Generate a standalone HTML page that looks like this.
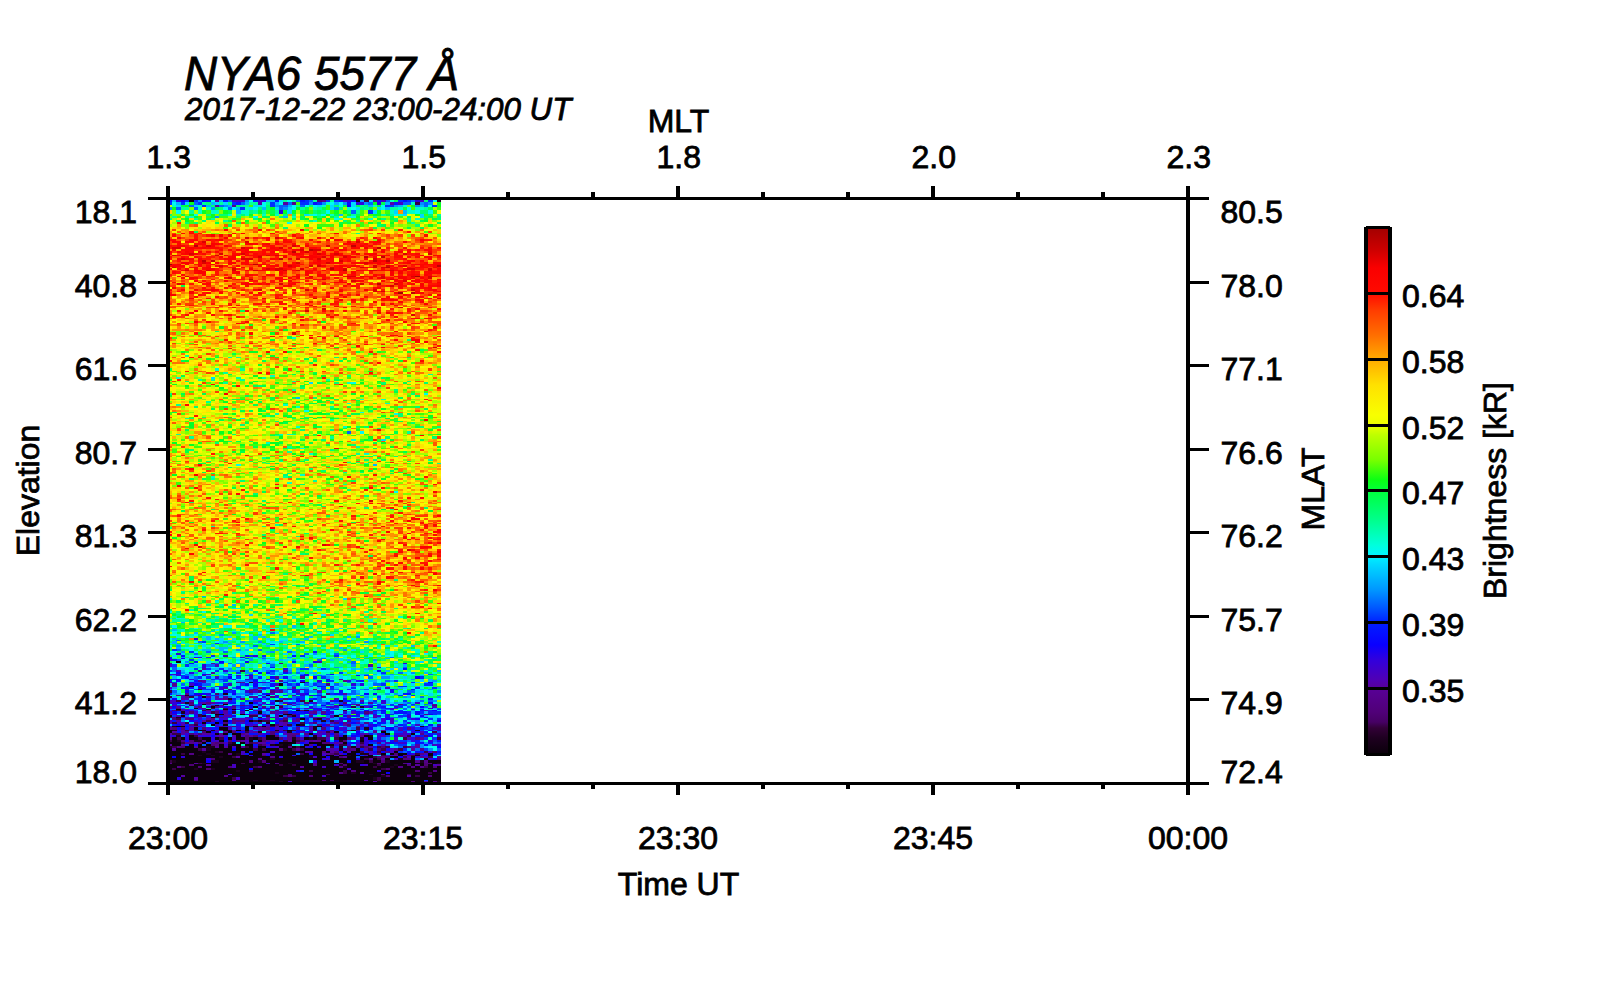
<!DOCTYPE html>
<html><head><meta charset="utf-8"><title>NYA6 5577 keogram</title>
<style>
html,body{margin:0;padding:0;background:#fff;}
svg{display:block}
text{font-family:"Liberation Sans",sans-serif;fill:#000;stroke:#000;stroke-width:0.8px;}
</style></head><body>
<svg width="1600" height="1000" viewBox="0 0 1600 1000" shape-rendering="crispEdges">
<rect width="1600" height="1000" fill="#fff"/>
<g transform="translate(170.133,200) scale(4.26562,1)" stroke-width="1.03" fill="none"><path stroke="#a50000" d="M0 64v1M54 92v2M58 76v1"/>
<path stroke="#bf0000" d="M6 45v2M8 60v2M10 60v2M19 79v1M20 64v1M26 58v2M29 51v2M33 49v2M38 68v2M41 70v1M43 45v2M46 56v2M48 60v2M49 47v2M49 83v2M50 56v2M51 60v2M51 67v1M57 92v2M63 65v2"/>
<path stroke="#dc0000" d="M1 47v2M1 55v1M1 67v1M2 47v2M2 83v2M3 58v2M4 70v1M4 76v1M5 53v2M7 346v2M8 41v2M8 62v2M9 45v2M9 70v1M11 55v1M12 53v2M12 65v2M14 77v2M15 68v3M17 47v2M17 53v2M17 58v2M18 37v2M18 41v2M18 58v2M19 58v2M20 70v1M21 56v2M21 89v2M23 55v1M23 68v2M25 37v2M25 55v1M25 68v3M26 47v2M26 68v2M26 83v2M27 70v1M28 65v2M29 45v2M29 132v3M30 58v2M30 62v2M30 70v1M31 49v2M31 68v2M32 51v2M32 89v2M32 110v2M33 65v2M33 76v1M34 49v2M34 98v1M35 49v2M35 53v2M35 58v2M35 65v2M36 56v2M36 79v1M36 108v2M36 344v2M37 45v2M37 62v2M38 67v1M39 53v2M40 60v2M41 56v2M41 68v2M42 76v1M43 76v1M43 80v2M44 41v2M45 67v1M45 76v1M45 83v2M46 62v2M47 70v1M47 300v2M48 49v2M48 58v2M48 65v3M48 70v1M48 89v3M50 67v1M50 76v3M50 91v1M51 65v2M52 70v1M52 79v1M52 85v2M53 83v2M54 107v1M55 53v2M55 65v2M55 80v2M56 68v2M56 349v2M57 68v2M57 76v1M57 89v2M57 114v2M61 53v2M61 68v3M61 76v3M62 147v1M63 98v1"/>
<path stroke="#fa0100" d="M0 51v2M0 94v2M0 334v2M1 41v2M1 65v2M1 87v2M1 94v2M2 37v2M2 45v2M2 51v2M2 55v1M2 58v2M2 64v1M2 285v2M3 45v2M3 62v2M4 51v4M4 58v2M4 62v2M4 68v2M5 47v2M5 77v2M5 91v3M5 98v1M6 53v2M6 56v2M6 67v1M6 70v1M6 80v2M6 89v2M6 110v2M6 121v2M6 274v2M7 51v2M7 58v4M7 64v3M7 70v4M7 82v1M8 47v2M8 71v3M9 62v2M9 67v3M10 34v3M10 43v4M10 64v1M10 68v2M10 89v2M11 43v2M11 62v2M12 34v3M12 39v2M13 37v2M13 45v2M13 55v1M13 58v2M13 193v2M14 58v2M14 62v2M15 55v5M15 62v2M16 49v2M16 65v2M16 71v3M16 322v1M18 43v2M18 47v6M18 55v1M18 64v1M18 83v2M19 43v2M19 68v2M21 55v1M21 64v3M21 83v2M21 92v2M22 76v1M22 98v1M22 376v3M23 37v2M23 43v2M23 49v2M23 83v2M24 47v2M24 51v2M24 58v2M24 68v2M24 327v2M25 49v2M25 77v2M25 98v1M26 70v4M26 80v2M27 49v4M27 56v2M27 76v1M27 151v2M28 58v2M28 67v1M28 77v2M28 80v2M28 85v2M29 49v2M29 53v2M29 65v2M29 76v1M29 89v2M29 99v2M30 49v2M30 53v2M30 76v3M30 82v1M31 51v2M31 56v2M32 45v2M32 56v2M32 71v5M32 103v2M32 375v1M33 55v5M33 77v2M33 105v1M34 51v4M34 56v2M34 413v1M35 37v2M35 60v2M35 64v1M36 53v2M36 65v2M36 83v2M37 49v2M37 58v2M37 92v2M37 96v2M38 49v2M38 55v3M39 39v2M39 82v1M39 106v1M39 136v1M39 248v1M40 49v2M40 55v1M40 65v6M40 91v1M40 94v2M40 99v2M40 326v1M41 55v1M41 76v1M41 82v1M41 96v2M42 41v2M42 67v1M42 77v2M42 83v2M43 47v2M43 51v2M43 56v2M43 65v2M43 71v3M44 53v2M44 145v2M45 45v2M45 62v2M46 47v2M46 67v1M46 89v2M47 62v2M47 77v2M48 37v2M48 53v2M49 41v2M49 60v4M49 77v2M49 87v2M49 112v2M49 229v2M49 381v4M50 51v2M50 60v2M50 68v3M50 74v2M50 98v1M50 147v1M51 62v2M51 85v2M51 112v2M51 119v2M52 71v5M52 99v2M52 103v2M53 53v2M53 79v1M53 92v2M53 112v2M54 51v2M54 65v2M54 71v3M54 76v3M54 82v1M54 96v2M55 58v2M55 68v3M55 77v3M55 121v2M55 337v2M55 366v1M56 62v2M56 320v2M56 333v1M57 60v2M57 74v2M57 77v2M57 80v2M57 83v2M57 318v2M57 372v1M57 385v1M58 64v1M58 67v1M58 80v3M58 96v2M58 139v2M58 318v2M58 357v2M59 39v2M59 55v1M59 77v2M59 83v4M59 92v2M59 101v2M59 235v1M59 367v3M60 56v2M60 74v2M60 79v1M60 82v1M60 103v2M60 141v2M60 346v2M61 51v2M61 56v4M61 71v3M61 87v2M61 98v1M61 355v2M62 67v1M62 89v2M62 126v3M62 373v2M62 389v2M63 64v1M63 82v1M63 85v2M63 91v1M63 94v2M63 351v2"/>
<path stroke="#fd0600" d="M0 39v2M0 45v2M0 53v2M0 56v4M0 65v2M0 68v2M0 89v2M0 366v1M1 34v3M1 39v2M1 49v2M1 64v1M1 71v3M1 82v1M1 116v2M2 41v4M2 65v2M2 68v2M2 76v1M2 299v1M3 33v1M3 49v2M3 53v2M3 56v2M3 65v2M3 70v1M3 74v2M3 77v2M3 83v2M3 89v2M4 41v2M4 47v4M4 64v1M4 114v2M4 204v2M4 302v1M4 348v1M5 33v1M5 39v4M5 49v4M5 55v1M5 58v2M5 67v1M5 268v2M5 353v2M5 381v2M6 39v2M6 43v2M6 47v2M6 68v2M6 71v3M6 77v2M6 96v2M6 287v2M6 344v2M7 43v2M7 47v2M7 62v2M7 94v2M7 264v2M8 43v2M8 53v2M8 67v3M8 74v2M8 80v2M8 83v2M8 87v2M8 372v1M9 39v2M9 47v2M9 51v2M9 65v2M9 83v2M9 89v2M9 92v2M9 98v1M9 121v2M10 47v2M10 70v1M10 114v2M10 184v1M11 39v2M11 47v2M11 51v2M11 65v2M11 89v2M11 96v2M12 43v2M12 49v2M12 56v2M12 67v1M12 92v2M13 29v2M13 77v2M13 80v2M14 34v3M14 49v2M14 56v2M14 60v2M14 64v1M14 85v2M14 114v2M14 263v1M15 33v1M15 53v2M15 67v1M15 71v3M15 101v2M15 107v1M16 53v3M16 60v2M16 79v1M16 105v1M16 123v1M16 185v2M16 293v2M17 33v1M17 49v4M17 56v2M17 62v2M17 67v1M17 79v1M17 83v2M18 53v2M18 60v4M18 70v1M18 74v3M18 82v1M18 85v2M18 110v2M18 121v2M18 344v2M19 47v2M19 51v2M19 55v1M19 64v1M19 74v2M19 83v2M19 92v2M19 132v3M20 43v2M20 53v5M20 89v2M21 29v2M21 47v2M21 58v4M21 70v1M21 172v2M22 43v2M22 49v6M22 64v1M22 68v3M23 39v2M23 74v2M23 151v2M24 45v2M24 49v2M24 53v3M24 65v2M24 74v2M24 136v1M24 429v2M25 41v4M25 47v2M25 58v2M25 65v2M25 87v2M25 116v2M25 284v1M25 287v2M26 74v2M26 77v3M26 87v2M26 98v1M27 39v4M27 55v1M27 62v5M27 68v2M27 79v1M27 85v2M28 41v2M28 47v2M28 83v2M29 34v3M29 43v2M29 62v3M29 67v1M29 70v1M29 79v1M29 82v3M29 110v2M29 326v1M30 45v2M30 55v1M30 65v2M30 74v2M30 346v2M31 29v2M31 37v2M31 47v2M31 53v2M31 119v2M31 135v1M31 336v1M31 423v2M32 70v1M32 77v2M33 39v2M33 47v2M33 70v4M33 94v2M33 135v1M33 137v2M33 337v2M34 47v2M34 55v1M34 62v2M34 68v3M34 79v1M34 87v2M34 91v1M34 143v1M35 41v2M35 56v2M35 62v2M35 74v3M35 235v1M36 51v2M36 70v1M36 74v5M36 106v1M36 110v2M36 137v2M37 39v2M37 55v1M37 344v2M38 37v2M38 53v2M38 58v6M38 70v1M38 74v2M38 87v2M38 110v2M38 116v2M38 329v2M39 33v1M39 47v2M39 51v2M39 55v1M39 62v2M39 65v6M39 77v2M39 98v1M39 300v2M40 39v2M40 53v2M40 58v2M40 62v2M40 74v2M40 80v3M40 89v2M40 184v1M40 306v1M41 43v2M41 49v2M41 65v2M41 85v2M41 107v1M41 110v2M41 262v1M42 43v2M42 55v7M42 276v2M43 43v2M43 62v2M43 74v2M43 85v2M43 99v2M44 39v2M44 47v2M44 62v2M44 65v2M44 70v1M44 77v2M44 80v2M44 94v2M44 346v2M45 70v1M45 77v2M45 80v2M45 107v1M45 348v1M45 376v3M46 43v2M46 53v2M46 58v2M46 64v1M46 76v1M46 96v2M46 136v1M46 144v1M46 396v1M47 45v2M47 53v3M47 76v1M47 287v2M47 303v1M48 41v4M48 56v2M48 62v2M48 74v3M48 87v2M48 101v2M48 373v2M49 39v2M49 55v1M49 64v1M49 70v1M49 91v1M49 107v1M49 129v2M49 162v2M49 340v2M50 49v2M50 55v1M50 64v1M50 80v2M50 99v2M50 103v3M50 326v1M50 339v1M51 55v1M51 58v2M51 70v1M51 79v1M51 96v3M51 331v2M51 367v3M51 376v3M52 65v2M52 68v2M52 77v2M52 135v1M52 320v2M52 372v1M53 55v3M53 67v1M53 70v1M53 76v1M53 80v2M53 99v2M53 105v1M53 116v2M53 131v1M53 135v1M53 139v2M53 309v1M53 355v2M53 364v2M54 55v3M54 70v1M54 80v2M54 83v6M54 101v2M54 351v2M54 362v2M54 372v1M55 41v2M55 47v2M55 62v2M55 76v1M55 94v2M55 336v1M55 344v2M55 357v2M55 367v3M56 49v4M56 56v2M56 60v2M56 67v1M56 74v2M56 79v1M56 339v1M56 432v2M57 64v1M57 71v3M57 87v2M57 118v1M57 139v2M57 349v2M58 53v2M58 56v2M58 74v2M58 79v1M58 87v2M58 91v3M58 99v2M58 108v2M58 118v1M58 141v2M59 60v2M59 64v4M59 87v2M59 96v2M59 99v2M59 160v2M59 297v2M59 346v3M60 34v3M60 49v2M60 62v3M60 67v1M60 71v3M60 80v2M60 87v2M60 118v1M60 131v1M60 219v2M60 324v3M60 364v2M61 47v4M61 64v1M61 74v2M61 80v3M61 85v2M61 89v2M61 94v2M61 114v2M61 118v1M61 337v2M61 342v2M61 346v2M61 353v2M61 360v2M62 55v1M62 62v5M62 71v3M62 76v1M62 85v2M62 291v2M62 324v2M62 331v2M62 334v2M63 55v1M63 62v2M63 68v6M63 79v1M63 83v2M63 151v2M63 187v2M63 315v2M63 329v4M63 339v1M63 342v2M63 355v2M63 385v1"/>
<path stroke="#ff1300" d="M0 47v2M0 74v2M0 92v2M0 160v2M0 331v2M0 339v1M1 45v2M2 22v2M2 60v2M2 67v1M2 71v3M2 91v1M2 103v2M2 110v2M2 179v2M2 315v2M2 334v2M3 51v2M3 67v1M3 255v1M4 45v2M4 56v2M4 171v1M4 409v2M5 31v2M5 60v4M5 79v1M5 83v2M5 105v1M5 112v2M5 157v1M5 300v2M6 34v5M6 64v1M6 132v3M6 215v2M7 33v1M7 41v2M7 53v2M7 56v2M7 157v1M7 391v1M8 45v2M8 58v2M8 89v2M8 92v4M8 329v2M9 34v3M9 56v4M9 64v1M9 76v1M9 82v1M9 85v2M9 112v2M9 297v2M10 39v4M10 56v2M10 76v1M10 79v1M10 87v2M10 91v1M10 103v2M10 253v2M10 320v2M11 68v8M11 107v1M11 299v1M11 333v1M12 47v2M12 58v2M12 70v1M12 91v1M12 110v2M12 333v1M13 65v2M13 74v2M13 87v2M13 114v2M13 139v2M13 394v2M14 45v2M14 67v1M14 103v3M14 118v1M14 148v1M15 51v2M15 79v1M15 83v2M15 87v2M15 99v2M15 320v2M16 68v2M16 92v2M16 116v2M16 333v1M17 64v1M17 77v2M17 82v1M17 89v2M17 94v2M17 123v1M17 289v2M18 255v1M18 318v2M18 364v2M19 67v1M19 77v2M19 80v2M19 143v1M20 37v2M20 51v2M20 74v2M20 80v2M20 83v2M20 94v2M20 98v1M20 103v2M21 51v4M21 94v2M21 103v2M22 37v2M22 45v2M22 55v1M22 62v2M22 67v1M22 77v3M22 82v3M22 101v2M23 45v2M23 53v2M23 60v2M23 64v4M23 70v1M23 106v1M23 172v2M24 33v1M24 67v1M24 70v1M24 80v3M24 89v2M25 53v2M25 56v2M25 64v1M25 79v1M25 94v4M25 367v3M26 37v2M26 43v2M26 49v2M26 55v1M26 67v1M26 94v2M26 101v4M27 45v2M27 67v1M27 71v3M27 92v2M27 103v2M27 107v3M27 116v2M27 323v1M27 346v2M28 39v2M28 51v4M28 64v1M28 68v2M28 82v1M28 98v1M28 112v2M28 148v1M28 302v1M29 55v1M29 92v2M29 123v1M30 37v2M30 56v2M30 64v1M30 131v1M31 55v1M31 64v1M31 87v2M31 116v2M31 124v2M31 256v1M31 339v1M32 43v2M32 67v1M32 80v2M32 107v1M33 51v4M33 62v3M33 83v2M33 101v2M33 357v2M34 58v4M34 89v2M34 96v2M34 106v1M34 164v2M34 256v1M35 47v2M35 55v1M35 71v3M35 79v1M35 136v1M35 349v2M36 55v1M36 60v4M36 82v1M36 99v2M36 126v3M36 177v2M37 60v2M37 68v2M37 77v2M37 94v2M37 114v2M38 103v2M39 74v2M39 101v4M39 114v2M39 364v2M40 71v3M40 79v1M40 320v2M40 379v2M41 47v2M41 58v4M41 71v3M42 65v2M42 74v2M42 94v2M42 144v1M43 53v2M43 77v2M43 101v2M43 106v1M43 123v1M43 315v2M44 43v4M44 83v6M44 303v1M44 364v2M44 383v2M45 37v2M45 43v2M45 98v3M45 136v1M46 45v2M46 70v1M46 79v1M46 289v2M46 314v1M46 351v2M47 41v2M47 60v2M47 67v1M47 71v3M47 83v2M47 107v1M47 151v2M47 172v2M47 318v2M47 334v2M47 349v2M48 47v2M48 55v1M48 239v2M48 274v2M49 33v1M49 43v2M49 58v2M49 74v2M49 85v2M49 110v2M49 118v1M49 123v1M49 261v1M49 366v1M49 391v1M50 62v2M50 85v2M50 89v2M50 144v1M50 287v2M50 360v2M51 47v2M51 77v2M51 99v2M51 136v1M51 362v2M52 62v2M52 67v1M52 82v1M52 91v1M52 108v2M52 112v4M52 262v1M52 307v2M52 315v3M52 367v3M52 376v3M53 51v2M53 58v2M53 64v1M53 68v2M53 323v1M53 353v2M54 29v2M54 49v2M54 58v2M54 62v2M54 74v2M54 98v1M54 112v2M54 136v1M54 300v2M54 312v2M54 342v2M54 349v2M55 85v2M55 359v1M56 31v2M56 53v2M56 71v3M56 76v3M56 82v3M56 94v2M56 108v4M56 297v2M56 327v2M57 53v3M57 65v3M57 70v1M57 123v1M57 137v2M57 317v1M57 337v2M57 379v2M57 406v2M58 49v2M58 55v1M58 68v2M58 71v3M58 89v2M58 123v1M58 149v2M58 339v1M58 351v2M58 375v1M58 381v2M58 386v1M58 413v1M59 41v2M59 47v2M59 62v2M59 68v2M59 76v1M59 80v2M59 322v2M59 329v2M59 362v2M59 381v2M59 406v2M60 39v2M60 65v2M60 76v3M60 89v2M60 98v1M60 199v1M60 276v2M60 327v2M60 333v1M60 348v1M60 362v2M60 389v2M61 39v2M61 65v2M61 83v2M61 107v1M61 129v2M61 367v3M61 372v1M61 408v1M62 70v1M62 83v2M62 91v1M62 96v2M62 112v2M62 144v1M62 284v1M62 326v1M62 339v1M62 372v1M62 445v2M63 47v2M63 56v2M63 67v1M63 80v2M63 108v2M63 136v1M63 145v2M63 337v2M63 349v2M63 353v2M63 359v1M63 403v1"/>
<path stroke="#ff3b00" d="M0 37v2M0 41v4M0 76v1M0 80v2M0 85v2M0 91v1M0 103v2M0 107v1M0 114v2M0 137v2M0 217v1M0 266v1M0 320v2M1 29v2M1 33v1M1 51v2M1 60v2M1 70v1M1 85v2M1 143v1M1 181v1M1 193v2M2 53v2M2 62v2M2 89v2M2 116v2M2 123v1M2 213v2M2 295v2M2 300v2M2 314v1M2 336v1M3 37v2M3 43v2M3 68v2M3 80v2M3 87v2M3 114v4M3 157v1M3 246v2M4 39v2M4 43v2M4 103v3M4 123v1M4 261v1M4 268v2M4 320v2M5 45v2M5 70v4M5 87v2M5 94v4M5 99v2M5 103v2M5 270v2M5 326v1M6 33v1M6 49v2M6 76v1M6 79v1M6 92v2M6 144v1M7 45v2M7 49v2M7 76v3M7 89v2M7 147v1M7 164v2M7 289v2M7 373v2M8 34v3M8 39v2M8 64v3M8 70v1M8 101v2M8 119v2M8 182v2M8 327v2M9 53v2M9 60v2M9 77v2M9 80v2M9 107v1M9 153v2M9 172v2M9 221v1M9 270v2M10 51v2M10 55v1M10 74v2M10 99v4M10 327v2M10 364v3M11 41v2M11 45v2M11 49v2M11 56v4M11 82v1M11 91v1M11 136v1M11 191v2M11 318v2M12 37v2M12 51v2M12 68v2M12 98v1M12 105v2M12 293v2M13 39v4M13 47v2M13 96v2M13 208v2M13 304v2M13 333v1M14 39v2M14 43v2M14 55v1M14 76v1M14 129v2M14 141v2M14 293v2M15 43v2M15 47v4M15 65v2M15 85v2M15 91v1M15 348v1M15 353v2M16 29v2M16 37v2M16 41v2M16 74v2M16 82v1M16 85v4M16 110v2M16 324v2M16 334v2M17 39v2M17 68v2M17 76v1M17 116v2M17 121v2M17 129v2M17 317v1M18 71v3M18 89v2M18 339v1M18 351v2M18 355v2M19 53v2M19 56v2M19 65v2M19 70v1M19 76v1M19 96v3M19 126v3M19 342v2M20 62v2M20 82v1M20 108v2M20 312v3M21 37v2M21 76v1M21 79v1M21 87v2M21 253v2M22 58v4M22 91v3M22 99v2M22 110v2M22 118v1M22 336v1M23 29v2M23 47v2M23 103v2M23 107v1M23 174v1M23 307v2M23 322v1M23 324v2M23 348v1M24 62v2M24 76v1M24 101v2M24 119v4M24 208v2M25 31v2M25 82v1M25 101v2M25 106v1M25 132v3M25 166v2M25 224v2M25 251v2M26 89v2M26 96v2M26 123v1M26 129v2M26 136v1M26 342v2M27 37v2M27 43v2M27 74v2M27 89v2M27 96v2M28 43v2M28 49v2M28 105v1M28 168v3M29 41v2M29 68v2M29 71v3M29 77v2M29 101v2M29 143v1M29 191v2M29 357v2M30 33v4M30 79v1M31 34v3M31 62v2M31 70v1M31 79v1M31 94v2M31 171v1M31 375v1M32 53v2M32 83v2M32 94v2M32 108v2M32 118v3M33 45v2M33 60v2M33 68v2M33 89v2M33 92v2M33 96v2M33 300v2M33 339v1M34 41v2M34 45v2M34 64v1M34 67v1M34 71v3M34 119v2M35 45v2M35 70v1M35 80v2M35 101v4M35 121v2M35 318v2M35 392v2M36 64v1M36 67v1M36 96v3M36 112v2M36 171v1M36 324v2M36 372v1M36 391v1M37 41v4M37 65v2M37 70v4M37 79v1M37 83v2M38 47v2M38 65v2M38 82v1M38 145v2M38 164v2M39 43v2M39 49v2M39 83v2M39 92v2M39 99v2M39 105v1M39 143v1M39 381v2M39 389v2M40 45v2M40 56v2M40 87v2M40 96v2M40 172v2M40 264v2M40 381v2M41 64v1M41 80v2M41 89v2M41 94v2M41 116v2M41 126v3M41 139v2M41 191v2M42 45v2M42 49v2M42 64v1M42 85v2M42 92v2M42 118v1M42 123v3M42 307v2M42 323v3M42 331v2M42 334v2M42 344v4M42 389v2M43 41v2M43 60v2M43 64v1M43 79v1M43 82v1M43 124v2M43 282v2M43 318v2M43 333v1M43 336v1M43 370v2M43 376v3M44 55v3M44 67v1M44 71v5M44 91v3M44 110v2M44 116v2M44 124v2M44 322v1M44 340v2M44 372v1M45 41v2M45 55v1M45 65v2M45 68v2M45 71v3M45 157v1M46 37v4M46 49v2M46 68v2M46 77v2M46 82v1M46 107v1M46 112v2M46 141v2M46 385v1M47 29v2M47 43v2M47 47v2M47 56v2M47 64v1M47 82v1M47 89v2M47 103v3M47 162v2M47 226v2M47 357v2M48 51v2M48 83v2M48 153v2M48 312v2M48 327v2M48 423v2M49 37v2M49 51v2M49 65v2M49 96v2M49 108v2M49 191v2M49 303v1M49 327v2M49 359v1M49 362v2M49 389v2M49 398v2M50 29v2M50 39v2M50 92v4M50 116v2M50 121v2M50 212v1M50 334v2M50 364v2M50 381v2M51 34v3M51 43v2M51 49v2M51 53v2M51 68v2M51 82v1M51 110v2M51 187v2M51 307v2M51 385v1M52 56v6M52 87v2M52 98v1M52 123v1M52 126v3M52 291v2M52 302v1M52 314v1M53 43v2M53 60v2M53 89v2M53 94v2M53 119v2M53 304v2M53 327v2M53 348v1M54 34v3M54 45v2M54 67v3M54 91v1M54 103v2M54 119v2M54 145v2M54 327v2M54 331v3M54 404v2M55 60v2M55 71v3M55 83v2M55 91v1M55 98v3M55 106v1M55 160v2M55 273v1M55 303v1M55 314v1M55 342v2M56 55v1M56 64v3M56 89v2M56 96v2M56 99v2M56 112v2M56 124v2M56 132v3M56 136v1M56 302v1M56 304v2M56 314v1M56 359v3M56 379v2M56 416v2M57 34v3M57 49v2M57 126v3M57 147v1M57 331v2M58 39v2M58 60v4M58 77v2M58 98v1M58 101v2M58 181v1M58 263v1M58 315v2M58 349v2M58 400v3M59 37v2M59 45v2M59 49v2M59 79v1M59 110v2M59 121v2M59 162v2M59 249v2M59 289v2M59 315v2M59 334v2M59 355v2M59 366v1M59 389v2M60 68v2M60 94v2M60 110v2M60 314v3M60 334v2M60 342v2M60 355v2M61 31v2M61 67v1M61 92v2M61 101v2M61 148v1M61 168v3M61 200v1M61 323v1M61 333v1M62 49v4M62 68v2M62 80v3M62 92v2M62 99v2M62 116v2M62 129v2M62 137v2M62 295v2M62 315v2M62 322v1M62 337v2M62 342v4M62 385v1M62 391v1M63 49v2M63 58v2M63 74v3M63 87v4M63 96v2M63 123v1M63 236v3M63 282v2M63 309v1M63 320v2M63 323v1M63 333v1M63 373v2M63 389v2"/>
<path stroke="#ff5600" d="M0 55v1M0 62v2M0 98v1M0 101v2M0 246v2M0 272v2M0 297v2M0 309v3M0 323v1M0 340v2M0 353v2M0 375v1M1 56v2M1 62v2M1 74v2M1 79v3M1 83v2M1 106v2M1 118v1M1 132v3M1 157v1M1 222v2M1 268v2M1 272v1M1 309v1M1 315v2M1 326v1M1 359v1M1 372v1M1 381v2M2 31v2M2 34v3M2 39v2M2 56v2M2 70v1M2 87v2M2 124v2M2 228v3M2 276v2M2 297v2M2 362v2M3 91v1M3 106v1M3 136v1M3 302v1M3 314v1M3 322v2M3 327v2M3 342v2M3 349v2M3 367v3M4 71v3M4 79v1M4 118v1M4 262v1M4 287v2M4 329v2M5 34v3M5 74v3M5 101v2M5 334v3M6 24v3M6 60v2M6 65v2M6 85v2M6 105v1M6 119v2M6 123v3M6 141v2M6 307v2M6 314v1M6 337v2M7 34v7M7 55v1M7 74v2M7 87v2M7 99v2M7 121v2M7 171v1M7 285v2M7 295v2M7 320v2M7 379v2M8 31v2M8 51v2M8 55v3M8 103v2M8 135v1M8 241v1M8 293v2M8 348v1M9 49v2M9 87v2M9 136v1M9 148v1M9 236v3M9 241v1M9 337v2M9 385v1M10 58v2M10 77v2M10 82v1M10 107v1M10 121v2M10 149v2M10 172v2M10 268v2M10 274v2M10 318v2M10 337v2M11 34v3M11 53v2M11 77v2M11 160v2M11 171v1M11 244v2M11 381v2M12 45v2M12 62v2M12 74v2M12 79v1M12 89v2M12 96v2M12 118v1M12 141v2M12 199v1M12 302v1M12 331v2M12 336v1M12 349v2M13 24v3M13 34v3M13 49v2M13 60v4M13 67v1M13 91v1M13 98v1M13 135v1M13 217v1M13 262v1M13 274v2M13 289v2M13 315v2M13 340v2M13 351v4M13 404v2M13 431v1M14 51v2M14 74v2M14 80v2M14 92v4M14 107v1M14 119v2M14 143v1M14 145v2M14 191v2M14 310v2M14 364v2M15 20v2M15 41v2M15 77v2M15 80v2M15 98v1M15 114v2M15 322v1M15 385v1M16 43v2M16 58v2M16 80v2M16 89v2M16 132v3M16 137v2M16 273v1M16 282v2M16 318v2M16 342v2M16 349v2M16 400v3M17 22v2M17 60v2M17 70v1M17 87v2M17 136v1M17 147v1M18 56v2M18 65v2M18 79v1M18 91v1M18 94v4M18 107v1M18 329v2M19 62v2M19 91v1M19 99v2M19 136v1M19 141v2M19 362v2M19 376v3M19 381v2M20 27v2M20 31v2M20 39v2M20 58v4M20 65v2M20 68v2M20 87v2M20 96v2M20 99v2M20 119v2M20 362v2M21 43v2M21 49v2M21 71v5M21 77v2M21 116v2M21 145v2M21 148v1M21 306v1M22 71v3M22 80v2M22 318v2M23 51v2M23 58v2M23 62v2M23 76v1M23 85v2M23 143v1M23 317v1M23 333v1M23 346v2M23 385v1M23 409v2M24 43v2M24 56v2M24 83v2M24 94v2M24 108v4M24 157v1M24 307v2M24 372v1M25 34v3M25 39v2M25 45v2M25 60v2M25 119v2M25 144v1M25 158v2M25 307v2M26 33v1M26 41v2M26 45v2M26 51v2M26 76v1M26 82v1M26 85v2M26 210v2M26 314v1M26 318v2M26 359v1M26 383v2M26 387v2M27 47v2M27 83v2M27 91v1M27 99v2M27 121v2M27 126v3M27 143v1M27 246v2M27 285v2M27 413v1M28 45v2M28 55v3M28 60v2M28 76v1M28 79v1M28 106v1M28 278v2M28 340v2M28 353v2M29 39v2M29 60v2M29 80v2M29 85v2M29 91v1M29 94v2M29 107v1M29 124v5M29 145v2M29 270v2M29 287v2M29 366v1M30 71v3M30 85v4M30 94v2M30 101v4M30 106v1M30 166v2M30 181v1M30 259v2M30 348v1M30 359v1M30 400v3M31 41v2M31 60v2M31 65v3M31 74v2M31 82v1M31 105v1M31 110v2M32 41v2M32 58v2M32 64v3M32 68v2M32 79v1M32 87v2M32 91v3M32 105v1M32 124v2M32 287v2M32 387v2M33 43v2M33 103v2M33 106v1M33 197v2M33 270v2M33 373v2M33 413v1M34 77v2M34 92v2M34 107v3M34 124v2M34 144v1M34 267v1M35 33v1M35 51v2M35 67v3M35 83v2M35 96v2M35 107v1M35 112v2M35 155v2M35 273v1M35 312v2M35 372v1M36 37v2M36 43v4M36 49v2M36 58v2M36 71v3M36 80v2M36 89v2M36 105v1M36 217v1M36 312v2M36 349v2M36 379v2M37 53v2M37 56v2M37 67v1M37 76v1M37 110v2M37 116v2M37 143v1M37 195v2M37 267v1M37 289v2M37 340v2M38 43v4M38 51v2M38 64v1M38 79v1M38 91v1M38 98v1M38 105v1M38 112v4M38 276v2M38 344v2M38 404v2M39 41v2M39 45v2M39 56v2M39 80v2M39 85v2M39 91v1M39 96v2M39 131v1M39 135v1M39 148v1M39 184v1M39 280v2M39 348v1M39 359v1M40 51v2M40 64v1M40 77v2M40 83v2M40 101v2M40 124v5M40 137v2M40 234v1M41 41v2M41 53v2M41 87v2M41 118v1M41 135v1M41 157v1M41 297v2M41 326v1M41 357v2M42 47v2M42 53v2M42 62v2M42 87v4M42 121v2M42 149v2M42 241v1M42 360v2M42 398v2M43 49v2M43 68v2M43 94v2M43 110v2M43 118v1M43 191v2M43 317v1M43 323v1M43 344v4M43 353v2M43 364v2M43 391v1M43 406v2M44 49v2M44 68v2M44 89v2M44 99v2M44 103v2M44 147v1M44 261v1M44 299v1M44 392v2M45 49v2M45 60v2M45 82v1M45 91v1M45 118v1M45 314v1M45 324v2M45 327v2M45 362v2M45 373v2M45 385v1M46 29v2M46 51v2M46 55v1M46 74v2M46 80v2M46 91v1M46 94v2M46 98v3M46 110v2M46 114v2M46 123v1M46 160v2M46 174v1M46 381v2M47 65v2M47 79v1M47 87v2M47 92v6M47 106v1M47 131v1M47 174v1M47 285v2M47 323v1M47 337v2M47 360v2M47 381v2M47 432v2M48 64v1M48 71v3M48 77v3M48 96v2M48 105v1M48 110v2M48 229v2M48 251v2M48 306v1M48 317v1M48 324v2M48 333v1M48 355v2M48 367v3M48 386v1M48 398v2M49 67v3M49 71v3M49 76v1M49 79v1M49 82v1M49 92v2M49 137v4M49 236v3M49 256v1M49 323v1M49 339v1M49 364v2M49 367v3M49 375v1M49 406v2M50 41v2M50 58v2M50 65v2M50 71v3M50 82v3M50 87v2M50 135v1M50 241v1M50 282v2M50 303v1M50 306v1M50 373v2M50 444v1M51 37v2M51 45v2M51 56v2M51 76v1M51 80v2M51 105v1M51 121v2M51 253v2M51 322v1M51 327v2M51 357v2M52 37v2M52 53v2M52 76v1M52 89v2M52 110v2M52 116v2M52 132v3M52 136v1M52 143v1M52 267v1M52 324v2M52 342v2M52 346v2M52 355v2M52 362v4M53 45v2M53 71v3M53 77v2M53 82v1M53 85v2M53 103v2M53 106v2M53 147v1M53 181v1M53 200v1M53 246v2M53 272v1M53 287v2M53 375v1M53 389v2M54 43v2M54 53v2M54 64v1M54 79v1M54 94v2M54 201v2M54 317v1M54 329v2M55 49v2M55 64v1M55 82v1M55 87v2M55 105v1M55 129v2M55 256v1M55 320v2M55 323v1M55 334v2M55 364v2M55 376v3M55 406v2M56 41v2M56 70v1M56 87v2M56 118v1M56 172v2M56 307v2M56 362v2M56 385v1M57 43v2M57 56v2M57 62v2M57 105v1M57 107v5M57 129v2M57 143v1M57 171v1M57 231v3M57 251v2M57 346v2M57 351v2M57 364v2M57 367v3M57 381v2M58 37v2M58 41v2M58 58v2M58 65v2M58 70v1M58 112v6M58 126v3M58 136v3M58 162v2M58 210v2M58 327v4M58 353v4M58 364v2M58 376v3M58 383v2M58 406v2M59 33v1M59 58v2M59 70v1M59 82v1M59 94v2M59 103v2M59 112v2M59 282v3M59 307v3M59 353v2M59 373v2M59 379v2M60 45v2M60 51v2M60 58v4M60 70v1M60 85v2M60 91v3M60 105v1M60 112v2M60 189v2M60 284v1M60 318v2M60 337v5M60 349v2M60 357v2M60 360v2M60 367v3M60 372v3M60 379v2M60 383v2M60 392v2M61 45v2M61 79v1M61 91v1M61 105v1M61 110v2M61 116v2M61 119v4M61 147v1M61 302v1M61 320v2M61 340v2M61 348v1M61 351v2M61 370v2M61 376v3M62 37v2M62 53v2M62 56v2M62 60v2M62 74v2M62 107v1M62 121v2M62 177v2M62 217v1M62 242v4M62 300v2M62 303v1M62 309v1M62 317v1M62 320v2M62 323v1M62 353v2M62 359v3M62 366v1M62 392v2M63 43v2M63 92v2M63 110v2M63 116v2M63 121v2M63 124v2M63 139v2M63 148v1M63 174v1M63 189v2M63 229v2M63 314v1M63 326v1M63 334v2M63 340v2M63 357v2M63 360v2M63 408v1M63 416v2M63 425v3"/>
<path stroke="#ff7200" d="M0 70v4M0 83v2M0 96v2M0 99v2M0 106v1M0 118v1M0 132v3M0 139v2M0 151v2M0 185v2M0 203v1M0 256v1M0 295v2M0 315v2M1 43v2M1 77v2M1 91v1M1 99v4M1 162v2M1 206v2M1 210v2M1 261v1M1 270v2M1 323v1M1 327v2M1 370v2M1 408v1M2 94v2M2 106v1M2 162v2M2 264v2M2 293v2M2 318v4M2 326v1M2 385v1M3 55v1M3 60v2M3 79v1M3 82v1M3 92v2M3 101v2M3 132v3M3 153v2M3 162v2M3 226v2M3 276v2M3 297v2M3 340v2M3 346v3M3 379v2M3 386v1M3 398v2M4 37v2M4 55v1M4 60v2M4 74v2M4 80v3M4 99v2M4 129v2M4 149v2M4 236v3M4 257v2M4 333v1M4 349v2M4 359v1M4 373v3M5 24v3M5 37v2M5 65v2M5 85v2M5 107v1M5 123v1M5 131v1M5 144v1M5 193v2M5 285v2M5 295v2M5 303v1M5 309v1M5 315v2M5 323v1M5 339v1M5 438v2M6 55v1M6 87v2M6 101v2M6 106v1M6 116v2M6 129v2M6 168v3M6 172v2M6 264v2M6 324v2M6 329v2M6 385v1M7 68v2M7 80v2M7 85v2M7 91v1M7 103v2M7 106v1M7 129v2M7 135v2M7 149v2M7 155v2M7 185v2M7 218v1M7 234v1M7 266v1M7 276v2M7 287v2M7 307v2M7 318v2M7 349v2M8 49v2M8 77v2M8 82v1M8 110v2M8 141v2M8 171v1M8 235v1M8 274v2M8 299v1M8 307v2M8 346v2M8 375v1M8 383v2M9 43v2M9 147v1M9 160v4M9 249v2M9 262v1M9 284v1M9 310v2M9 339v1M9 400v3M10 37v2M10 49v2M10 85v2M10 124v2M10 137v2M10 270v2M10 312v2M10 324v2M10 339v1M10 359v1M11 29v2M11 64v1M11 80v2M11 83v2M11 98v1M11 114v2M11 121v2M11 143v1M11 229v2M11 303v1M11 309v1M11 327v2M11 351v2M11 391v1M11 397v1M12 71v3M12 80v2M12 85v2M12 114v2M12 251v2M12 261v1M12 274v2M12 312v2M12 339v1M12 346v2M13 43v2M13 56v2M13 68v2M13 71v3M13 105v1M13 110v2M13 126v5M13 179v2M13 255v1M13 259v2M13 276v2M13 307v2M13 322v1M13 349v2M13 385v1M14 47v2M14 53v2M14 68v2M14 87v2M14 99v2M14 116v2M14 132v3M14 203v1M14 218v1M14 236v3M14 276v2M14 291v2M14 314v1M14 355v2M14 359v1M14 375v1M14 383v2M14 389v2M15 27v2M15 37v4M15 82v1M15 126v3M15 149v2M15 191v2M15 219v2M15 249v2M15 259v2M15 307v2M15 324v2M15 351v2M15 386v1M15 389v3M16 33v4M16 47v2M16 62v3M16 96v2M16 107v1M16 126v3M16 135v1M16 143v1M16 162v2M16 235v1M16 320v2M16 337v2M16 385v1M17 41v2M17 55v1M17 65v2M17 74v2M17 80v2M17 107v1M17 151v2M17 295v4M17 326v1M17 334v2M17 348v1M18 45v2M18 77v2M18 105v1M18 126v3M18 147v1M18 158v2M18 213v2M18 304v2M18 320v2M18 389v3M19 29v2M19 37v2M19 45v2M19 89v2M19 101v2M19 118v1M19 137v2M19 256v1M19 259v2M19 287v2M19 318v5M20 29v2M20 47v2M20 67v1M20 77v3M20 105v1M20 110v2M20 143v1M20 145v2M20 187v2M20 278v2M20 337v2M20 351v2M21 41v2M21 67v3M21 82v1M21 99v2M21 105v2M21 119v2M21 355v4M22 22v2M22 39v2M22 74v2M22 85v4M22 103v2M22 106v1M22 108v2M22 123v1M22 131v1M22 137v2M22 219v2M22 307v2M22 322v1M22 346v2M23 77v2M23 137v2M23 164v2M23 195v2M23 337v2M23 372v1M24 18v2M24 29v2M24 34v3M24 77v3M24 106v1M24 141v2M24 144v1M24 158v2M24 339v3M24 346v3M24 362v2M24 425v3M25 27v2M25 62v2M25 67v1M25 85v2M25 91v3M25 108v2M25 114v2M25 197v2M25 208v2M25 255v1M25 267v3M25 309v1M25 322v1M26 60v7M26 302v1M26 362v2M27 31v2M27 58v2M27 82v1M27 114v2M27 160v2M27 172v2M27 259v2M27 267v1M27 309v1M27 317v1M27 333v1M28 34v3M28 62v2M28 70v1M28 96v2M28 99v2M28 110v2M28 189v2M28 362v2M29 56v4M29 74v2M29 105v1M29 112v2M29 182v2M29 203v1M29 375v1M30 51v2M30 68v2M30 80v2M30 83v2M30 98v1M30 110v2M30 114v4M30 132v3M30 136v1M30 144v1M30 257v2M30 355v2M30 392v2M31 76v1M31 91v1M31 107v1M31 126v3M31 144v1M31 151v2M31 175v2M31 253v2M31 334v2M31 337v2M31 344v2M31 372v1M32 47v2M32 62v2M32 76v1M32 98v1M32 126v3M32 131v1M32 236v3M32 274v2M32 324v2M32 346v2M32 364v2M33 31v2M33 41v2M33 80v2M33 91v1M33 107v1M33 116v2M33 119v2M33 153v2M33 171v1M33 267v1M33 309v1M33 329v2M33 375v1M34 39v2M34 76v1M34 94v2M34 103v2M34 112v2M34 157v1M34 228v1M34 336v3M35 43v2M35 77v2M35 82v1M35 92v4M35 110v2M35 124v2M35 141v2M35 193v2M35 274v2M35 381v2M35 398v2M36 41v2M36 94v2M36 118v3M36 136v1M36 139v4M36 274v2M36 307v2M36 310v2M36 318v2M36 331v2M36 355v4M36 364v3M37 51v2M37 64v1M37 80v2M37 91v1M37 112v2M37 123v1M37 144v1M37 147v1M37 242v2M37 314v1M37 318v2M37 323v1M37 414v2M38 33v1M38 77v2M38 85v2M38 92v2M38 118v1M38 126v5M38 304v2M38 351v2M38 383v2M38 386v1M39 110v2M39 144v1M39 153v2M39 164v2M39 204v2M39 229v2M39 266v1M39 329v2M39 339v1M39 357v2M39 385v1M39 400v3M40 41v2M40 92v2M40 106v2M40 129v2M40 132v3M40 168v3M40 285v2M40 291v2M40 324v2M40 331v2M40 364v2M40 373v2M40 383v4M41 31v3M41 45v2M41 51v2M41 62v2M41 67v1M41 83v2M41 264v2M41 270v2M41 280v2M41 314v1M41 339v1M41 372v1M41 386v1M41 392v2M42 39v2M42 71v3M42 79v1M42 96v2M42 99v2M42 116v2M42 119v2M42 295v2M42 299v1M42 340v2M42 349v2M42 381v2M42 387v2M42 403v3M42 408v1M43 55v1M43 58v2M43 89v2M43 92v2M43 103v2M43 121v2M43 144v1M43 151v4M43 200v1M43 210v2M43 221v3M43 228v1M43 327v2M43 331v2M43 334v2M43 351v2M43 355v2M43 375v1M43 392v2M43 397v1M44 24v3M44 37v2M44 58v2M44 79v1M44 107v1M44 139v2M44 187v2M44 373v2M45 29v2M45 53v2M45 79v1M45 87v4M45 101v5M45 148v3M45 191v2M45 218v1M45 295v2M45 336v1M45 342v2M45 359v1M45 372v1M45 425v3M46 60v2M46 87v2M46 118v1M46 143v1M46 327v2M46 344v2M46 355v2M46 359v1M46 367v3M46 394v2M46 422v1M47 27v2M47 33v1M47 74v2M47 114v4M47 126v3M47 144v1M47 168v3M47 268v2M47 278v2M47 394v3M48 45v2M48 85v2M48 98v1M48 103v2M48 107v1M48 123v1M48 137v2M48 157v1M48 164v2M48 174v1M48 244v2M48 282v2M48 307v2M48 320v2M48 337v2M48 359v1M48 383v2M48 387v2M48 400v3M49 53v2M49 99v2M49 116v2M49 132v3M49 172v2M49 195v2M49 206v2M49 293v2M49 331v2M49 353v2M49 357v2M49 379v2M49 386v1M49 404v2M50 34v3M50 45v2M50 53v2M50 101v2M50 114v2M50 119v2M50 132v3M50 143v1M50 251v2M50 300v2M50 304v2M50 366v1M50 370v2M50 396v1M51 51v2M51 64v1M51 83v2M51 91v1M51 103v2M51 132v3M51 141v2M51 147v1M51 282v2M51 315v2M51 318v2M51 324v2M51 342v4M51 348v1M51 351v2M51 355v2M51 359v1M51 386v1M51 396v1M52 43v2M52 47v2M52 55v1M52 83v2M52 94v2M52 101v2M52 129v2M52 139v2M52 241v1M52 259v2M52 322v1M53 34v3M53 41v2M53 65v2M53 98v1M53 124v2M53 132v3M53 174v1M53 204v2M53 312v2M53 318v2M53 336v1M53 339v1M53 370v2M53 386v1M53 394v2M54 41v2M54 47v2M54 105v1M54 118v1M54 123v1M54 132v4M54 141v2M54 172v2M54 212v1M54 248v1M54 268v4M54 278v2M54 297v2M54 302v1M54 306v1M54 339v1M54 348v1M54 353v2M54 373v2M54 376v3M54 385v1M55 31v2M55 55v1M55 74v2M55 101v2M55 112v2M55 119v2M55 144v1M55 149v2M55 166v2M55 200v1M55 217v1M55 224v2M55 263v1M55 346v3M55 351v2M55 373v2M55 381v2M55 392v5M56 45v2M56 106v1M56 116v2M56 119v2M56 155v2M56 197v3M56 287v2M56 309v1M56 324v2M56 346v2M56 355v2M56 366v4M56 381v2M56 397v1M57 37v2M57 58v2M57 85v2M57 98v3M57 119v4M57 132v3M57 314v1M57 322v1M57 324v2M57 355v4M57 362v2M57 370v2M57 397v1M58 51v2M58 85v2M58 166v2M58 172v2M58 184v1M58 310v2M58 346v2M58 359v1M58 367v3M58 373v2M58 385v1M58 391v1M58 404v2M58 408v1M58 419v3M59 29v2M59 51v2M59 74v2M59 106v1M59 119v2M59 143v1M59 172v2M59 181v1M59 206v2M59 270v2M59 314v1M59 320v2M59 324v2M59 331v2M59 344v2M59 392v2M59 403v1M59 416v2M60 43v2M60 47v2M60 83v2M60 96v2M60 106v1M60 123v1M60 137v2M60 287v2M60 331v2M60 336v1M60 359v1M60 397v1M60 400v3M60 451v2M61 43v2M61 99v2M61 103v2M61 106v1M61 131v1M61 149v2M61 157v1M61 162v2M61 256v1M61 274v2M61 303v1M61 306v1M61 324v3M61 329v2M61 366v1M61 425v3M61 445v2M62 41v4M62 47v2M62 101v4M62 106v1M62 118v1M62 141v3M62 145v2M62 149v2M62 204v2M62 367v3M62 432v2M63 60v2M63 99v2M63 131v4M63 241v1M63 291v2M63 302v1M63 307v2M63 364v3M63 372v1M63 376v3M63 387v2M63 409v2"/>
<path stroke="#ff9300" d="M0 31v6M0 49v2M0 67v1M0 77v2M0 110v4M0 124v2M0 206v2M0 244v2M0 249v2M0 253v3M0 274v2M0 282v2M0 324v2M0 349v2M0 383v2M1 58v2M1 89v2M1 92v2M1 114v2M1 121v2M1 124v2M1 129v2M1 139v2M1 144v4M1 199v1M1 244v2M1 255v1M1 263v1M1 273v1M1 278v2M1 297v2M1 351v2M2 24v3M2 80v2M2 96v2M2 112v2M2 126v5M2 135v1M2 160v2M2 206v2M2 210v2M2 251v2M2 268v2M2 304v2M2 309v1M2 317v1M2 322v1M2 340v2M2 357v2M2 367v3M3 29v2M3 39v2M3 64v1M3 76v1M3 103v2M3 129v2M3 253v2M3 272v1M3 300v2M3 331v2M3 355v2M4 29v8M4 83v2M4 92v2M4 112v2M4 174v1M4 179v2M4 193v2M4 222v2M4 263v1M4 280v2M4 293v2M4 310v2M4 314v1M4 317v1M4 324v2M4 336v1M4 340v2M4 364v2M5 64v1M5 89v2M5 106v1M5 118v1M5 129v2M5 136v1M5 199v1M5 219v2M5 239v2M5 280v2M5 291v2M5 304v2M5 344v4M6 41v2M6 58v2M6 74v2M6 91v1M6 99v2M6 114v2M6 126v3M6 147v1M6 158v2M6 231v3M6 235v1M6 239v2M6 266v1M6 310v2M6 315v2M6 318v2M6 322v1M6 355v2M6 376v3M6 386v1M7 31v2M7 67v1M7 92v2M7 96v2M7 105v1M7 108v2M7 114v4M7 139v2M7 162v2M7 231v3M7 241v1M7 274v2M7 282v2M7 303v1M7 334v2M8 37v2M8 76v1M8 98v1M8 105v1M8 114v4M8 121v2M8 129v2M8 143v1M8 147v1M8 160v2M8 191v2M8 218v1M8 268v2M8 284v1M8 304v3M8 309v1M8 318v2M8 331v3M8 339v1M8 342v2M8 351v2M8 360v2M9 37v2M9 41v2M9 79v1M9 96v2M9 101v2M9 108v4M9 141v2M9 235v1M9 267v1M9 349v2M9 353v2M9 392v2M10 29v2M10 65v2M10 92v2M10 123v1M10 126v5M10 143v1M10 153v4M10 224v2M10 241v1M10 248v1M10 256v1M10 329v2M10 340v2M10 385v1M11 37v2M11 60v2M11 79v1M11 87v2M11 101v2M11 105v1M11 108v6M11 116v2M11 129v2M11 182v2M11 304v3M11 372v1M11 376v3M12 29v2M12 55v1M12 64v1M12 76v1M12 99v2M12 107v1M12 112v2M12 149v2M12 157v1M12 164v2M12 217v1M12 257v2M12 291v2M12 324v2M12 340v6M12 355v2M12 360v2M12 364v3M13 51v4M13 76v1M13 83v2M13 106v1M13 141v2M13 158v2M13 162v2M13 300v2M13 323v1M13 357v2M13 364v2M13 391v1M14 31v2M14 41v2M14 65v2M14 70v4M14 79v1M14 83v2M14 101v2M14 168v3M14 184v1M14 246v2M14 304v2M14 312v2M14 322v1M14 324v2M14 327v2M14 339v1M14 344v2M14 360v2M14 366v1M15 45v2M15 60v2M15 64v1M15 96v2M15 103v2M15 124v2M15 141v2M15 147v1M15 204v2M15 246v2M15 310v4M15 326v3M15 333v1M15 339v1M15 342v4M15 362v2M15 366v4M16 27v2M16 51v2M16 70v1M16 83v2M16 94v2M16 99v2M16 103v2M16 108v2M16 112v2M16 136v1M16 200v3M16 215v2M16 231v3M16 257v2M16 274v2M16 310v2M16 327v4M16 344v2M16 375v1M17 45v2M17 96v2M17 101v2M17 105v2M17 132v4M17 143v1M17 174v1M17 201v2M17 342v2M17 376v3M18 24v3M18 29v2M18 39v2M18 67v1M18 92v2M18 106v1M18 119v2M18 123v1M18 151v2M18 155v2M18 193v2M18 199v1M18 215v2M18 348v1M18 359v1M18 362v2M19 85v2M19 112v2M19 119v2M19 123v1M19 148v3M19 168v3M19 199v1M19 203v1M19 213v2M19 219v2M19 239v2M19 280v2M19 285v2M19 324v2M19 339v1M19 370v2M19 386v1M19 394v2M20 41v2M20 71v3M20 76v1M20 101v2M20 116v2M20 129v2M20 263v1M20 266v1M20 276v2M20 282v2M20 289v2M20 324v2M20 389v2M21 34v3M21 62v2M21 108v2M21 121v2M21 136v1M21 141v2M21 157v3M21 187v2M21 203v1M21 224v2M21 272v1M21 309v3M21 314v1M21 379v2M22 31v2M22 56v2M22 96v2M22 116v2M22 135v1M22 189v2M22 193v2M22 267v1M22 306v1M22 315v2M22 323v1M22 394v2M23 56v2M23 79v4M23 89v2M23 94v5M23 116v2M23 136v1M23 171v1M23 291v2M23 303v1M23 359v1M23 375v1M23 400v3M24 60v2M24 64v1M24 71v3M24 96v2M24 99v2M24 123v1M24 131v1M24 143v1M24 191v2M24 255v1M24 263v1M24 302v1M24 318v2M24 323v1M24 334v2M24 342v2M24 355v2M25 24v3M25 76v1M25 80v2M25 83v2M25 99v2M25 107v1M25 110v2M25 137v2M25 143v1M25 145v2M25 162v2M25 177v2M25 257v2M25 355v2M26 31v2M26 92v2M26 99v2M26 106v2M26 114v2M26 126v3M26 153v2M26 200v1M26 255v1M26 278v2M26 331v3M26 349v2M26 353v2M26 381v2M26 414v2M27 33v1M27 53v2M27 60v2M27 136v1M27 141v2M27 208v2M27 253v3M27 284v1M27 303v1M27 324v2M27 334v2M27 381v4M27 418v1M28 14v2M28 71v5M28 87v2M28 114v2M28 132v3M28 261v1M28 322v1M28 331v2M28 344v2M28 373v2M29 37v2M29 96v2M29 108v2M29 118v1M29 210v2M29 293v2M29 297v2M29 304v2M30 39v4M30 47v2M30 60v2M30 67v1M30 92v2M30 105v1M30 126v3M30 267v1M30 272v1M30 284v1M30 306v1M30 310v2M30 318v2M30 349v2M31 39v2M31 43v2M31 58v2M31 71v3M31 83v2M31 89v2M31 103v2M31 147v1M31 160v2M31 206v2M31 389v2M32 33v1M32 49v2M32 55v1M32 60v2M32 96v2M32 112v2M32 224v2M32 257v2M32 264v2M32 289v2M32 315v2M32 362v2M33 79v1M33 85v2M33 99v2M33 124v2M33 177v2M33 195v2M33 251v2M33 256v1M33 274v2M33 314v1M33 334v3M33 364v2M33 376v3M34 65v2M34 74v2M34 85v2M34 101v2M34 126v3M34 131v1M34 137v6M34 145v2M34 346v2M34 400v3M35 31v2M35 85v2M35 106v1M35 123v1M35 132v3M35 144v1M35 293v2M35 302v1M35 309v1M35 342v2M35 353v2M35 383v2M36 92v2M36 101v2M36 107v1M36 129v2M36 144v1M36 172v2M36 181v1M36 289v2M36 320v2M36 362v2M37 74v2M37 82v1M37 87v2M37 99v4M37 106v2M37 124v2M37 129v2M37 135v2M37 162v2M37 172v2M37 201v2M37 284v1M37 355v2M37 364v3M37 438v2M38 27v4M38 41v2M38 80v2M38 107v1M38 119v2M38 123v1M38 144v1M38 148v1M38 181v1M38 309v1M38 342v2M38 362v2M38 436v2M39 34v3M39 64v1M39 89v2M39 108v2M39 116v2M39 129v2M39 132v3M39 175v2M39 200v1M39 224v2M39 242v2M39 287v6M39 302v1M39 326v1M39 334v2M39 340v2M39 391v1M40 116v3M40 139v4M40 147v1M40 267v1M40 346v2M40 349v2M40 353v2M40 367v3M41 91v1M41 99v4M41 106v1M41 121v2M41 131v1M41 141v2M41 145v2M41 153v2M41 166v2M41 174v1M41 201v2M41 206v2M41 215v2M41 317v1M41 327v2M41 346v2M41 355v2M41 379v2M41 394v2M42 98v1M42 110v2M42 131v4M42 136v1M42 141v2M42 148v1M42 172v2M42 208v2M42 284v1M42 337v2M42 348v1M42 357v2M42 372v1M43 29v2M43 98v1M43 105v1M43 107v3M43 126v5M43 246v2M43 278v2M43 289v2M43 307v2M43 310v2M43 394v2M44 76v1M44 98v1M44 105v2M44 108v2M44 118v1M44 121v2M44 137v2M44 143v1M44 155v2M44 276v2M44 324v2M44 339v1M44 348v1M44 355v2M44 381v2M44 385v1M45 20v2M45 51v2M45 56v4M45 92v2M45 96v2M45 106v1M45 114v2M45 143v2M45 147v1M45 155v2M45 201v2M45 262v2M45 284v1M45 291v2M45 297v2M45 318v5M45 340v2M45 357v2M45 364v2M45 386v1M45 403v1M45 413v1M45 419v3M46 31v2M46 34v3M46 83v2M46 92v2M46 106v1M46 124v5M46 139v2M46 218v1M46 251v2M46 276v2M46 302v1M46 306v1M46 322v1M46 329v4M46 370v2M46 373v6M46 391v1M46 428v1M47 124v2M47 135v1M47 137v2M47 148v3M47 251v2M47 282v2M47 291v2M47 302v1M47 315v2M47 327v4M47 353v2M47 359v1M47 364v2M47 372v1M47 391v1M47 397v1M47 416v2M48 29v2M48 68v2M48 94v2M48 112v2M48 143v1M48 160v4M48 293v2M48 318v2M48 322v1M48 340v2M48 360v2M48 381v2M48 391v1M48 396v1M48 414v2M49 45v2M49 49v2M49 143v1M49 174v1M49 210v2M49 280v2M49 284v1M49 295v2M49 299v1M49 307v2M49 324v2M49 346v3M49 376v3M49 396v1M50 20v2M50 33v1M50 79v1M50 96v2M50 112v2M50 126v3M50 149v2M50 181v1M50 185v2M50 235v1M50 267v1M50 297v2M50 327v4M50 340v2M50 372v1M50 394v2M50 403v1M50 409v2M51 39v2M51 71v5M51 94v2M51 101v2M51 106v2M51 160v2M51 184v1M51 212v1M51 248v1M51 304v2M51 334v2M51 346v2M51 353v2M52 34v3M52 51v2M52 92v2M52 105v2M52 118v5M52 124v2M52 147v1M52 166v2M52 179v2M52 210v2M52 224v2M52 287v2M52 297v2M52 333v4M52 348v1M52 353v2M52 357v2M52 373v3M52 379v2M52 392v4M52 404v4M53 33v1M53 74v2M53 91v1M53 136v1M53 239v2M53 263v1M53 276v2M53 324v2M53 334v2M53 376v3M53 381v2M53 397v1M54 10v4M54 20v2M54 37v2M54 60v2M54 99v2M54 110v2M54 114v2M54 129v2M54 164v2M54 171v1M54 208v2M54 289v2M54 318v2M54 323v3M54 337v2M54 340v2M54 364v2M54 367v3M55 96v2M55 157v1M55 268v2M55 300v2M55 315v2M55 318v2M55 326v1M55 355v2M55 360v2M55 372v1M55 400v3M56 37v2M56 58v2M56 101v2M56 121v2M56 129v2M56 141v2M56 153v2M56 191v2M56 234v1M56 259v2M56 272v1M56 276v2M56 282v2M56 299v1M56 312v2M56 372v1M56 376v3M56 383v2M56 387v4M56 394v2M57 39v4M57 45v2M57 79v1M57 82v1M57 91v1M57 103v2M57 144v3M57 148v1M57 229v2M57 236v3M57 289v2M57 304v3M57 310v2M57 320v2M57 326v3M57 339v1M57 348v1M57 383v2M57 386v1M57 400v3M57 408v1M58 31v2M58 43v2M58 103v5M58 132v3M58 144v3M58 174v1M58 187v2M58 193v2M58 208v2M58 266v1M58 274v2M58 293v2M58 299v1M58 304v2M58 314v1M58 326v1M58 331v2M58 337v2M58 340v4M58 418v1M59 34v3M59 43v2M59 53v2M59 89v2M59 105v1M59 108v2M59 129v2M59 132v3M59 137v2M59 158v2M59 259v2M59 349v2M59 359v1M59 364v2M59 372v1M60 41v2M60 108v2M60 114v2M60 121v2M60 129v2M60 257v2M60 344v2M60 351v4M60 366v1M60 375v1M60 381v2M60 398v2M60 408v3M60 431v3M61 55v1M61 62v2M61 112v2M61 124v2M61 132v3M61 136v1M61 141v4M61 210v2M61 241v1M61 257v2M61 272v1M61 280v2M61 300v2M61 334v2M61 379v2M61 385v1M61 397v1M61 403v1M61 414v2M62 39v2M62 87v2M62 110v2M62 114v2M62 123v1M62 131v4M62 148v1M62 155v3M62 162v2M62 182v2M62 185v2M62 197v2M62 206v2M62 239v3M62 249v2M62 259v2M62 276v2M62 285v2M62 293v2M62 306v3M62 312v3M62 329v2M62 340v2M62 351v2M62 364v2M62 379v2M62 396v1M62 418v4M63 51v4M63 77v2M63 126v3M63 141v2M63 158v4M63 168v3M63 197v2M63 213v2M63 224v2M63 253v2M63 266v1M63 268v2M63 344v2M63 367v3M63 391v1M63 394v2M63 413v1"/>
<path stroke="#ffb300" d="M0 82v1M0 145v2M0 166v2M0 174v1M0 181v1M0 199v1M0 208v2M0 219v2M0 259v2M0 263v1M0 278v2M0 291v4M0 314v1M0 342v2M1 103v2M1 135v1M1 177v2M1 236v3M1 282v3M1 287v2M1 307v2M1 329v2M1 333v1M1 339v1M1 342v2M1 373v2M2 27v2M2 49v2M2 98v1M2 105v1M2 158v2M2 171v1M2 221v1M2 267v1M2 327v2M2 344v4M2 359v1M2 366v1M3 31v2M3 34v3M3 47v2M3 71v3M3 94v4M3 99v2M3 118v1M3 139v4M3 197v2M3 201v2M3 204v2M3 210v2M3 264v2M3 295v2M3 326v1M3 353v2M3 381v2M4 101v2M4 106v2M4 110v2M4 132v3M4 144v1M4 162v2M4 191v2M4 210v2M4 213v2M4 228v1M4 244v2M4 273v1M4 285v2M4 309v1M4 312v2M4 323v1M4 337v2M4 346v2M4 367v3M4 381v2M4 411v2M5 56v2M5 68v2M5 82v1M5 108v2M5 124v2M5 141v2M5 147v1M5 235v1M5 257v2M5 274v2M5 320v2M5 324v2M5 349v2M5 355v4M5 360v2M5 386v1M6 29v2M6 62v2M6 83v2M6 108v2M6 118v1M6 139v2M6 153v2M6 224v4M6 236v3M6 284v1M6 295v2M6 303v1M6 340v2M6 351v4M6 383v2M6 392v2M7 273v1M7 278v2M7 284v1M7 302v1M7 315v2M7 326v3M7 333v1M7 342v2M7 375v1M7 385v1M7 398v2M7 404v4M8 29v2M8 79v1M8 85v2M8 96v2M8 99v2M8 112v2M8 139v2M8 148v1M8 166v2M8 172v2M8 175v2M8 187v2M8 204v2M8 224v2M8 236v3M8 242v2M8 264v2M8 273v1M8 282v2M8 291v2M8 303v1M8 310v4M8 322v1M8 344v2M8 357v2M9 29v2M9 55v1M9 74v2M9 103v3M9 123v6M9 184v1M9 193v2M9 229v2M9 256v1M9 273v1M9 287v2M9 299v1M9 362v2M10 53v2M10 71v3M10 98v1M10 105v2M10 141v2M10 144v1M10 164v2M10 174v1M10 215v2M10 285v2M10 307v2M10 331v2M10 346v2M10 362v2M10 376v3M10 391v1M11 85v2M11 92v4M11 118v1M11 124v2M11 139v4M11 144v3M11 206v2M11 217v2M11 228v1M11 264v3M11 282v3M11 314v3M11 324v2M11 329v2M11 342v2M11 367v5M12 82v1M12 135v2M12 210v2M12 218v1M12 273v1M12 289v2M12 299v3M12 320v2M12 337v2M12 413v1M13 70v1M13 79v1M13 82v1M13 92v2M13 99v2M13 116v3M13 131v1M13 136v3M13 143v1M13 160v2M13 264v2M13 268v2M13 312v2M13 331v2M13 337v2M13 355v2M13 423v2M14 29v2M14 37v2M14 82v1M14 96v2M14 108v2M14 135v1M14 151v2M14 182v2M14 187v4M14 195v2M14 222v2M14 257v2M14 274v2M14 289v2M14 297v3M14 309v1M14 357v2M14 372v1M14 387v2M15 74v2M15 92v4M15 105v1M15 110v2M15 121v2M15 144v1M15 166v5M15 210v2M15 270v2M15 273v1M15 284v1M15 309v1M15 337v2M15 349v2M15 375v1M15 379v2M16 121v2M16 124v2M16 139v2M16 151v2M16 168v4M16 182v2M16 193v2M16 197v2M16 204v4M16 229v2M16 268v2M16 302v1M16 326v1M16 340v2M16 351v2M16 355v2M16 396v1M17 18v2M17 37v2M17 71v3M17 108v2M17 112v2M17 160v2M17 200v1M17 219v2M17 222v2M17 272v1M17 302v1M17 304v2M17 340v2M17 351v2M17 364v2M18 31v6M18 68v2M18 87v2M18 101v2M18 144v1M18 164v2M18 197v2M18 210v2M18 229v2M18 246v3M18 272v2M18 326v1M18 334v2M18 346v2M18 367v3M19 31v2M19 39v2M19 60v2M19 71v3M19 94v2M19 103v2M19 114v2M19 129v2M19 171v1M19 185v2M19 246v3M19 289v2M19 304v2M19 367v3M20 85v2M20 91v1M20 114v2M20 121v2M20 172v2M20 191v2M20 195v2M20 239v2M20 249v4M20 255v1M20 267v1M20 291v2M20 300v2M20 309v1M20 320v2M20 367v5M20 386v3M20 397v1M21 39v2M21 45v2M21 80v2M21 85v2M21 96v2M21 101v2M21 114v2M21 124v2M21 149v2M21 204v2M21 235v1M21 274v2M21 291v2M21 312v2M21 317v1M21 322v1M21 349v2M21 370v2M21 397v1M22 27v2M22 47v2M22 126v5M22 143v2M22 151v6M22 162v2M22 200v1M22 206v2M22 222v2M22 239v2M22 362v2M22 379v2M22 431v1M23 105v1M23 110v4M23 129v3M23 147v1M23 162v2M23 168v3M23 193v2M23 212v1M23 241v1M23 289v2M23 326v1M23 334v2M23 339v3M23 351v2M23 379v2M23 391v1M24 37v2M24 41v2M24 85v2M24 91v1M24 103v2M24 116v2M24 174v1M24 184v1M24 228v1M24 231v3M24 287v2M24 357v3M24 370v2M24 396v1M24 408v1M25 33v1M25 74v2M25 118v1M25 123v1M25 129v2M25 147v1M25 149v2M25 160v2M25 184v1M25 200v1M25 222v2M25 248v1M25 270v3M25 274v2M25 282v2M25 314v3M25 340v2M25 353v2M25 372v1M25 379v2M25 394v2M26 39v2M26 53v2M26 56v2M26 116v2M26 121v2M26 132v3M26 137v2M26 149v2M26 162v2M26 193v4M26 264v3M26 312v2M26 322v1M26 329v2M26 375v1M27 29v2M27 77v2M27 98v1M27 118v1M27 123v1M27 191v2M27 217v1M27 231v3M27 251v2M27 326v1M27 353v2M27 387v2M27 423v2M27 444v1M28 29v2M28 101v2M28 107v1M28 116v2M28 124v2M28 145v2M28 158v2M28 164v2M28 193v2M28 200v1M28 253v2M28 295v2M28 315v2M28 329v2M28 342v2M28 357v2M28 364v2M28 379v2M28 409v2M29 33v1M29 47v2M29 103v2M29 106v1M29 116v2M29 131v1M29 164v2M29 201v2M29 229v2M29 249v2M29 259v2M29 268v2M29 303v1M29 315v2M29 324v2M29 337v2M29 372v1M30 20v2M30 43v2M30 96v2M30 119v5M30 148v1M30 210v2M30 229v2M30 249v2M30 291v2M30 300v2M30 303v1M30 333v1M30 339v1M30 357v2M31 45v2M31 77v2M31 85v2M31 92v2M31 98v1M31 121v2M31 139v2M31 143v1M31 168v3M31 172v2M31 189v2M31 224v2M31 317v1M31 346v2M31 355v2M31 362v2M32 27v2M32 39v2M32 82v1M32 101v2M32 106v1M32 121v3M32 129v2M32 153v2M32 166v2M32 191v2M32 200v1M32 229v2M32 273v1M32 293v2M32 337v2M32 348v1M33 27v2M33 34v3M33 74v2M33 82v1M33 87v2M33 110v2M33 136v1M33 141v2M33 149v2M33 164v2M33 315v2M33 394v2M33 409v2M34 34v3M34 43v2M34 82v1M34 110v2M34 118v1M34 132v3M34 210v2M34 282v2M34 293v2M34 348v3M34 357v2M34 362v2M34 367v3M34 392v2M35 39v2M35 87v2M35 91v1M35 98v3M35 108v2M35 248v1M35 251v2M35 314v3M35 323v1M35 327v6M35 357v2M35 397v1M36 31v2M36 47v2M36 68v2M36 124v2M36 195v2M36 236v3M36 266v1M36 280v2M36 326v1M36 337v2M36 381v2M36 413v1M37 33v4M37 85v2M37 89v2M37 105v1M37 132v3M37 151v2M37 164v2M37 189v2M37 203v1M37 249v2M37 262v1M37 274v2M37 304v2M37 336v1M37 339v1M37 348v1M37 351v2M37 387v2M37 392v2M38 76v1M38 83v2M38 89v2M38 94v4M38 106v1M38 108v2M38 124v2M38 132v3M38 139v2M38 162v2M38 174v1M38 222v2M38 241v1M38 256v1M38 293v2M38 299v1M38 315v2M38 318v2M38 326v1M38 357v2M38 366v4M38 375v1M38 379v2M39 37v2M39 71v3M39 79v1M39 87v2M39 107v1M39 149v2M39 174v1M39 195v2M39 226v3M39 264v2M39 306v3M39 312v2M39 315v3M39 322v1M39 327v2M39 333v1M39 336v1M39 375v1M39 379v2M39 394v2M39 404v2M40 37v2M40 76v1M40 85v2M40 105v1M40 110v6M40 119v2M40 144v1M40 157v1M40 191v2M40 282v2M40 289v2M40 297v2M40 322v1M40 329v2M40 333v1M40 344v2M40 348v1M40 444v1M41 27v2M41 74v2M41 77v2M41 92v2M41 98v1M41 129v2M41 132v3M41 149v2M41 171v1M41 187v2M41 285v2M41 295v2M41 300v2M41 306v1M41 315v2M41 322v1M41 337v2M41 340v2M41 353v2M41 381v2M41 422v1M42 27v2M42 31v2M42 51v2M42 68v3M42 80v2M42 91v1M42 106v1M42 112v4M42 129v2M42 137v2M42 145v3M42 151v2M42 200v1M42 267v1M42 282v2M42 366v1M42 397v1M42 400v3M43 67v1M43 70v1M43 91v1M43 112v2M43 116v2M43 119v2M43 143v1M43 201v2M43 231v3M43 242v2M43 285v2M43 381v2M44 51v2M44 82v1M44 112v2M44 119v2M44 126v3M44 141v2M44 158v4M44 189v2M44 206v2M44 217v1M44 241v3M44 257v2M44 289v2M44 336v1M44 366v1M44 389v3M44 397v1M44 408v1M44 431v1M45 39v2M45 47v2M45 64v1M45 94v2M45 132v4M45 145v2M45 158v2M45 164v2M45 177v2M45 229v2M45 248v1M45 323v1M45 331v2M45 351v2M45 360v2M45 366v1M45 370v2M45 379v4M45 411v2M46 22v2M46 33v1M46 65v2M46 131v1M46 151v2M46 158v2M46 166v2M46 200v1M46 304v2M46 336v1M46 357v2M46 364v2M46 372v1M46 383v2M46 389v2M46 408v1M46 414v2M47 39v2M47 98v1M47 108v2M47 129v2M47 229v2M47 234v2M47 257v2M47 266v1M47 324v2M47 344v2M47 386v1M47 413v1M48 99v2M48 121v2M48 124v5M48 131v1M48 155v2M48 171v1M48 191v2M48 287v2M48 334v2M48 339v1M48 342v4M48 349v2M48 366v1M48 370v2M48 376v3M48 385v1M48 409v2M49 34v3M49 94v2M49 144v1M49 147v1M49 153v2M49 224v2M49 231v3M49 246v2M49 255v1M49 268v2M49 282v2M49 297v2M49 300v2M49 342v2M49 416v2M50 27v2M50 43v2M50 123v1M50 148v1M50 153v2M50 179v2M50 222v2M50 229v2M50 273v3M50 295v2M50 320v2M50 323v1M50 357v2M50 362v2M50 385v7M50 408v1M50 413v1M50 429v2M51 41v2M51 116v2M51 129v2M51 135v1M51 145v2M51 149v2M51 155v2M51 158v2M51 219v2M51 222v2M51 242v2M51 285v2M51 291v6M51 312v2M51 323v1M51 326v1M51 339v1M51 360v2M51 373v2M51 379v2M51 383v2M51 411v2M52 39v2M52 64v1M52 107v1M52 144v3M52 148v1M52 153v2M52 191v2M52 304v2M52 326v1M52 329v2M52 337v2M52 340v2M52 344v2M52 385v1M52 403v1M52 409v4M52 416v2M52 422v1M53 31v2M53 87v2M53 101v2M53 121v2M53 137v2M53 141v3M53 148v1M53 155v2M53 168v3M53 199v1M53 215v2M53 280v2M53 329v2M53 357v2M53 367v3M54 22v2M54 39v2M54 89v2M54 108v2M54 116v2M54 124v2M54 139v2M54 157v1M54 184v1M54 217v1M54 239v2M54 261v1M54 266v1M54 284v1M54 293v4M54 303v3M54 360v2M54 366v1M54 389v2M54 392v2M55 33v1M55 43v2M55 56v2M55 114v2M55 148v1M55 203v3M55 221v1M55 255v1M55 284v1M55 312v2M55 317v1M55 331v3M55 353v2M55 398v2M55 408v1M55 425v3M55 458v1M56 43v2M56 47v2M56 91v1M56 98v1M56 144v1M56 147v2M56 218v1M56 253v2M56 273v1M56 278v2M56 300v2M56 317v1M56 329v2M56 340v4M56 348v1M56 392v2M56 396v1M56 400v3M56 429v2M57 124v2M57 135v2M57 151v2M57 189v2M57 239v2M57 285v2M57 293v2M57 312v2M57 334v2M57 344v2M57 353v2M57 366v1M57 373v2M57 387v2M57 391v3M57 429v2M57 440v1M58 83v2M58 121v2M58 129v3M58 135v1M58 164v2M58 168v3M58 185v2M58 199v1M58 203v1M58 229v2M58 246v2M58 256v1M58 268v2M58 273v1M58 280v2M58 320v3M58 360v2M58 387v2M58 398v2M58 416v2M58 445v2M59 56v2M59 71v3M59 98v1M59 114v2M59 123v1M59 136v1M59 144v1M59 164v2M59 201v2M59 210v2M59 221v1M59 224v2M59 257v2M59 272v1M59 293v2M59 302v1M59 327v2M59 340v2M59 357v2M59 370v2M59 375v1M59 394v2M59 400v3M59 408v1M60 27v2M60 37v2M60 101v2M60 139v2M60 151v2M60 162v2M60 177v2M60 229v2M60 251v2M60 256v1M60 270v2M60 278v2M60 312v2M60 323v1M60 370v2M60 386v1M60 396v1M60 423v2M60 434v2M61 108v2M61 135v1M61 139v2M61 184v1M61 191v2M61 195v2M61 199v1M61 231v3M61 239v2M61 266v1M61 268v2M61 276v2M61 282v2M61 322v1M61 327v2M61 391v1M61 406v2M61 434v2M61 444v1M62 29v2M62 45v2M62 58v2M62 77v3M62 98v1M62 105v1M62 136v1M62 153v2M62 160v2M62 166v2M62 184v1M62 189v2M62 261v1M62 268v2M62 274v2M62 278v2M62 302v1M62 310v2M62 327v2M62 355v2M62 383v2M62 413v1M62 425v3M62 440v1M63 33v1M63 41v2M63 103v2M63 114v2M63 143v1M63 153v2M63 172v2M63 179v2M63 219v2M63 222v2M63 264v2M63 280v2M63 297v3M63 317v1M63 336v1M63 381v2M63 386v1M63 392v2M63 406v2"/>
<path stroke="#ffd000" d="M0 10v4M0 29v2M0 79v1M0 119v2M0 123v1M0 129v2M0 215v2M0 222v2M0 228v3M0 257v2M0 264v2M0 289v2M0 302v1M0 333v1M0 373v2M0 385v1M0 392v4M0 397v1M0 404v4M1 27v2M1 37v2M1 53v2M1 98v1M1 108v2M1 158v2M1 164v2M1 201v2M1 208v2M1 229v2M1 241v1M1 253v2M1 266v1M1 299v3M1 306v1M1 310v2M1 336v1M1 353v4M1 379v2M2 74v2M2 77v2M2 82v1M2 119v2M2 145v2M2 155v2M2 166v2M2 175v2M2 197v2M2 212v1M2 218v1M2 222v2M2 231v3M2 235v1M2 287v2M2 291v2M2 324v2M2 329v2M2 342v2M3 119v2M3 123v1M3 144v1M3 147v1M3 182v3M3 215v2M3 229v2M3 244v2M3 257v2M3 268v2M3 315v2M3 318v2M3 333v1M3 389v2M3 394v2M3 408v1M4 65v3M4 87v5M4 94v2M4 98v1M4 121v2M4 136v1M4 139v2M4 148v1M4 195v2M4 201v2M4 217v1M4 246v2M4 255v1M4 259v2M4 278v2M4 291v2M4 304v2M4 315v2M4 322v1M4 331v2M4 342v4M4 362v2M4 376v3M5 18v2M5 110v2M5 116v2M5 119v2M5 126v3M5 148v1M5 174v5M5 185v2M5 189v2M5 229v2M5 234v1M5 263v1M5 282v3M5 297v3M5 314v1M5 340v2M5 351v2M5 370v2M5 375v1M5 394v2M6 103v2M6 145v2M6 148v1M6 157v1M6 164v2M6 174v1M6 189v2M6 201v2M6 204v2M6 323v1M6 326v1M6 346v2M7 29v2M7 98v1M7 131v1M7 166v5M7 195v2M7 199v1M7 236v3M7 257v2M7 312v2M7 329v2M7 337v2M7 386v1M7 440v1M8 91v1M8 107v1M8 123v1M8 132v3M8 155v2M8 158v2M8 248v1M8 257v2M8 297v2M8 302v1M8 323v1M8 334v2M8 359v1M8 370v2M8 406v2M9 27v2M9 71v3M9 106v1M9 145v2M9 175v2M9 179v3M9 217v1M9 228v1M9 239v2M9 320v2M9 329v2M9 336v1M9 346v2M9 364v2M9 373v2M9 387v2M10 20v2M10 80v2M10 83v2M10 119v2M10 136v1M10 139v2M10 145v2M10 162v2M10 191v4M10 226v2M10 235v1M10 266v1M10 280v2M10 287v4M10 295v2M10 302v1M10 323v1M10 351v2M10 355v4M10 386v1M10 404v2M11 27v2M11 67v1M11 76v1M11 99v2M11 103v2M11 135v1M11 153v2M11 162v2M11 172v2M11 199v1M11 203v1M11 255v1M11 295v2M11 307v2M11 312v2M11 334v2M11 348v1M11 389v2M11 392v2M12 24v5M12 31v2M12 41v2M12 60v2M12 87v2M12 103v2M12 119v2M12 129v2M12 132v3M12 137v2M12 147v1M12 166v2M12 197v2M12 215v2M12 244v2M12 267v1M12 270v2M12 284v1M12 307v2M12 317v1M12 327v2M12 348v1M12 357v2M12 372v1M12 379v2M12 385v2M12 397v1M13 31v2M13 85v2M13 89v2M13 107v1M13 119v2M13 123v3M13 144v1M13 149v2M13 168v4M13 221v1M13 251v2M13 256v1M13 278v2M13 317v1M13 344v2M13 383v2M13 392v2M13 416v2M14 91v1M14 98v1M14 112v2M14 121v2M14 124v2M14 144v1M14 147v1M14 164v4M14 172v2M14 200v1M14 234v1M14 239v2M14 306v1M14 315v2M14 331v2M14 413v1M15 24v3M15 31v2M15 76v1M15 89v2M15 106v1M15 118v1M15 123v1M15 129v2M15 143v1M15 160v2M15 172v2M15 193v2M15 206v2M15 221v1M15 224v2M15 239v2M15 253v2M15 315v2M15 329v2M15 357v2M15 364v2M15 387v2M16 45v2M16 98v1M16 106v1M16 114v2M16 131v1M16 149v2M16 184v1M16 191v2M16 244v2M16 256v1M16 285v4M16 297v2M16 346v2M16 353v2M16 370v2M16 376v3M16 394v2M16 397v1M16 428v1M17 31v2M17 34v3M17 85v2M17 92v2M17 98v1M17 119v2M17 139v2M17 144v3M17 153v2M17 157v1M17 189v2M17 255v1M17 257v2M17 263v1M17 268v2M17 320v2M17 324v2M17 344v4M17 362v2M17 366v1M17 391v1M18 80v2M18 118v1M18 129v2M18 137v2M18 148v1M18 182v2M18 256v1M18 282v2M18 293v2M18 300v2M18 310v2M18 324v2M18 331v2M18 349v2M18 353v2M18 366v1M18 373v2M18 403v1M19 34v3M19 41v2M19 87v2M19 107v1M19 110v2M19 116v2M19 144v1M19 206v2M19 221v1M19 264v3M19 302v1M19 306v1M19 312v2M19 333v1M19 349v2M19 353v2M19 357v2M19 373v2M19 387v4M19 400v3M20 24v3M20 33v4M20 92v2M20 112v2M20 124v2M20 137v2M20 144v1M20 149v2M20 153v2M20 157v1M20 160v2M20 174v1M20 206v2M20 215v2M20 340v2M20 344v2M20 349v2M20 357v2M20 372v3M20 396v1M21 16v2M21 107v1M21 112v2M21 132v4M21 144v1M21 162v2M21 234v1M21 246v2M21 251v2M21 268v2M21 273v1M21 280v2M21 289v2M21 293v2M21 326v1M21 331v3M21 339v1M21 373v3M21 385v1M22 41v2M22 89v2M22 94v2M22 107v1M22 121v2M22 147v1M22 157v1M22 171v1M22 201v2M22 224v2M22 228v1M22 248v1M22 274v2M22 278v2M22 284v1M22 302v1M22 314v1M22 327v2M22 340v2M22 357v2M22 389v2M23 31v3M23 87v2M23 91v1M23 108v2M23 114v2M23 141v2M23 182v2M23 276v2M23 287v2M23 315v2M23 342v2M23 353v4M23 360v2M23 364v2M23 370v2M24 39v2M24 98v1M24 107v1M24 112v2M24 124v2M24 135v1M24 145v2M24 148v1M24 153v2M24 160v2M24 181v3M24 226v2M24 264v2M24 267v1M24 270v2M24 309v1M24 314v1M24 320v2M24 324v3M24 336v1M24 353v2M24 379v2M24 391v1M24 400v3M25 71v3M25 105v1M25 136v1M25 151v2M25 155v2M25 193v2M25 256v1M25 297v3M25 323v1M25 327v6M25 349v4M25 364v2M25 373v2M25 383v2M26 105v1M26 112v2M26 118v1M26 131v1M26 155v2M26 177v2M26 208v2M26 226v2M26 231v3M26 248v1M26 263v1M26 272v1M26 299v1M26 306v3M26 315v2M26 326v1M26 385v1M26 411v2M27 34v3M27 87v2M27 105v1M27 110v4M27 131v1M27 139v2M27 147v1M27 177v4M27 182v2M27 193v2M27 210v2M27 239v2M27 278v2M27 306v1M27 339v1M27 360v4M28 94v2M28 103v2M28 119v2M28 126v3M28 131v1M28 135v1M28 141v2M28 153v2M28 157v1M28 175v2M28 203v1M28 206v2M28 229v2M28 241v1M28 284v1M28 312v2M28 320v2M28 323v1M28 327v2M28 367v5M28 404v2M29 29v2M29 149v2M29 158v4M29 171v1M29 179v2M29 199v1M29 257v2M29 263v1M29 267v1M29 276v2M29 280v5M29 302v1M29 307v3M29 387v2M29 404v2M30 16v2M30 27v2M30 108v2M30 118v1M30 129v2M30 141v2M30 155v2M30 175v2M30 222v2M30 276v2M30 327v2M30 337v2M30 373v2M30 394v2M31 31v3M31 80v2M31 101v2M31 106v1M31 108v2M31 118v1M31 123v1M31 141v2M31 148v1M31 166v2M31 219v2M31 287v2M31 303v1M31 324v2M31 342v2M31 348v1M31 357v2M31 396v1M31 422v1M32 116v2M32 151v2M32 241v1M32 309v1M32 312v3M32 344v2M32 355v2M32 373v2M33 29v2M33 37v2M33 67v1M33 98v1M33 112v2M33 126v3M33 131v1M33 147v1M33 155v2M33 191v2M33 224v2M33 263v1M33 289v2M33 331v2M33 340v2M33 362v2M33 381v2M34 33v1M34 37v2M34 105v1M34 114v4M34 135v1M34 149v2M34 155v2M34 217v1M34 222v2M34 229v2M34 261v1M34 268v2M34 273v1M34 289v2M34 295v2M34 312v2M34 322v1M34 329v2M34 355v2M34 373v2M34 398v2M35 34v3M35 89v2M35 105v1M35 118v1M35 129v2M35 139v2M35 145v2M35 158v4M35 185v2M35 203v1M35 264v2M35 320v2M35 333v1M35 336v1M35 340v2M35 346v2M35 355v2M35 362v2M35 379v2M35 389v2M35 419v3M35 423v2M35 445v2M36 18v4M36 87v2M36 131v1M36 143v1M36 164v2M36 174v1M36 179v2M36 184v3M36 203v1M36 221v1M36 229v2M36 251v2M36 259v2M36 262v1M36 268v2M36 284v1M36 314v3M36 360v2M36 392v2M37 27v2M37 47v2M37 98v1M37 121v2M37 126v3M37 139v2M37 145v2M37 148v1M37 210v2M37 221v1M37 259v2M37 287v2M37 295v2M37 326v1M37 334v2M37 349v2M37 367v6M37 400v4M37 406v2M37 436v2M37 447v2M38 34v3M38 71v3M38 99v4M38 131v1M38 136v3M38 141v2M38 158v2M38 166v2M38 199v1M38 253v2M38 261v2M38 264v2M38 270v2M38 323v1M38 339v1M38 348v1M38 355v2M38 381v2M38 413v1M38 444v1M39 76v1M39 94v2M39 118v1M39 121v2M39 126v3M39 166v2M39 231v3M39 261v1M39 284v1M39 293v2M39 392v2M39 397v1M39 406v2M39 423v2M40 31v6M40 98v1M40 145v2M40 151v2M40 158v2M40 164v2M40 171v1M40 195v2M40 217v1M40 235v1M40 266v1M40 268v2M40 312v2M40 323v1M40 339v5M40 351v2M40 362v2M40 372v1M40 389v2M40 400v3M40 406v2M40 414v2M41 29v2M41 37v4M41 79v1M41 108v2M41 114v2M41 181v1M41 193v2M41 199v1M41 259v2M41 312v2M41 320v2M41 373v2M41 383v2M41 413v1M42 82v1M42 107v1M42 126v3M42 162v2M42 171v1M42 213v2M42 264v2M42 287v2M42 297v2M42 309v1M42 322v1M42 326v3M42 333v1M42 370v2M42 373v2M42 379v2M42 383v2M42 431v1M43 83v2M43 87v2M43 96v2M43 135v1M43 139v2M43 148v1M43 174v1M43 219v2M43 253v2M43 267v1M43 274v4M43 293v2M43 299v1M43 312v3M43 326v1M43 329v2M43 373v2M43 387v2M43 403v1M43 431v3M44 60v2M44 64v1M44 96v2M44 129v2M44 136v1M44 144v1M44 157v1M44 162v2M44 168v3M44 199v1M44 219v2M44 256v1M44 272v1M44 284v1M44 312v2M44 327v2M44 353v2M44 362v2M44 367v5M44 403v1M44 416v2M45 16v2M45 33v4M45 108v2M45 116v2M45 119v2M45 137v2M45 162v2M45 171v3M45 222v2M45 244v2M45 255v1M45 259v2M45 278v2M45 285v2M45 303v3M45 344v2M45 349v2M45 353v4M45 389v2M45 458v1M46 27v2M46 41v2M46 71v3M46 85v2M46 105v1M46 108v2M46 121v2M46 129v2M46 149v2M46 153v2M46 184v1M46 197v2M46 213v2M46 248v1M46 257v2M46 280v2M46 309v1M46 317v3M46 337v2M46 348v3M46 398v2M46 406v2M47 20v2M47 58v2M47 85v2M47 99v2M47 118v3M47 139v2M47 158v2M47 185v2M47 203v3M47 213v2M47 219v2M47 231v3M47 259v3M47 273v1M47 314v1M47 317v1M47 331v2M47 336v1M47 340v2M47 346v2M47 367v3M47 411v2M48 80v2M48 92v2M48 106v1M48 187v4M48 199v1M48 206v2M48 210v2M48 249v2M48 262v2M48 272v1M48 276v4M48 303v1M48 315v2M48 326v1M48 351v4M48 362v2M48 372v1M48 379v2M48 397v1M48 404v2M49 29v2M49 56v2M49 89v2M49 101v4M49 106v1M49 114v2M49 141v2M49 160v2M49 171v1M49 189v2M49 197v2M49 204v2M49 222v2M49 259v2M49 306v1M49 312v2M49 333v1M49 370v2M49 423v2M50 31v2M50 37v2M50 47v2M50 110v2M50 131v1M50 139v4M50 157v1M50 164v2M50 171v1M50 203v1M50 219v2M50 307v2M50 324v2M50 348v3M50 355v2M50 359v1M50 376v3M50 406v2M50 431v1M51 24v3M51 87v2M51 92v2M51 114v2M51 123v1M51 126v3M51 137v2M51 144v1M51 148v1M51 164v4M51 185v2M51 191v2M51 204v2M51 224v2M51 272v2M51 280v2M51 300v2M51 306v1M51 329v2M51 333v1M51 336v3M51 340v2M51 392v2M51 397v1M51 406v2M51 414v2M51 431v1M52 41v2M52 80v2M52 141v2M52 149v4M52 158v2M52 162v2M52 229v2M52 242v2M52 268v2M52 274v2M52 280v2M52 300v2M52 339v1M52 370v2M52 381v4M52 391v1M52 408v1M52 425v4M53 37v4M53 49v2M53 62v2M53 96v2M53 108v4M53 114v2M53 126v3M53 151v2M53 235v1M53 248v1M53 306v1M53 315v3M53 320v3M53 326v1M53 340v2M53 344v2M53 360v2M53 366v1M53 385v1M53 392v2M53 403v1M54 31v2M54 137v2M54 144v1M54 162v2M54 174v5M54 185v2M54 189v4M54 222v2M54 226v2M54 234v1M54 256v1M54 263v1M54 291v2M54 299v1M54 326v1M54 334v2M54 357v2M54 379v4M54 391v1M54 403v1M54 408v1M54 413v1M55 20v2M55 39v2M55 67v1M55 89v2M55 103v2M55 108v2M55 116v2M55 135v6M55 164v2M55 184v1M55 193v2M55 244v2M55 264v2M55 267v1M55 339v3M55 362v2M55 383v2M55 391v1M55 429v2M56 80v2M56 85v2M56 103v2M56 114v2M56 123v1M56 131v1M56 137v2M56 143v1M56 179v2M56 189v2M56 217v1M56 226v2M56 257v2M56 270v2M56 291v2M56 295v2M56 303v1M56 326v1M56 351v2M56 373v3M56 409v2M56 413v1M56 423v2M56 434v2M56 444v1M57 47v2M57 51v2M57 94v4M57 106v1M57 112v2M57 116v2M57 131v1M57 155v5M57 179v2M57 185v2M57 215v2M57 246v2M57 272v1M57 282v2M57 299v3M57 333v1M57 336v1M57 340v4M57 359v1M57 375v1M57 396v1M57 434v2M57 443v1M58 45v4M58 157v1M58 177v2M58 242v4M58 255v1M58 261v1M58 267v1M58 289v2M58 303v1M58 348v1M58 362v2M58 370v2M58 379v2M58 389v2M58 403v1M58 409v2M59 31v2M59 91v1M59 124v2M59 145v2M59 179v2M59 231v3M59 267v1M59 287v2M59 299v1M59 306v1M59 333v1M59 337v2M59 342v2M59 376v3M59 385v1M59 391v1M59 397v1M59 411v3M60 33v1M60 55v1M60 107v1M60 116v2M60 119v2M60 126v3M60 160v2M60 164v2M60 172v2M60 184v1M60 241v1M60 268v2M60 304v3M60 329v2M60 376v3M60 419v3M60 474v1M61 20v4M61 37v2M61 60v2M61 137v2M61 172v2M61 206v2M61 248v1M61 273v1M61 289v2M61 293v2M61 304v2M61 314v1M61 344v2M61 349v2M61 357v2M61 364v2M61 373v2M61 381v4M61 387v2M61 394v2M61 432v2M61 436v2M62 151v2M62 158v2M62 168v3M62 174v1M62 219v2M62 248v1M62 264v3M62 333v1M62 349v2M62 370v2M62 394v2M62 397v1M62 400v3M62 408v1M62 444v1M63 29v4M63 39v2M63 106v1M63 118v1M63 144v1M63 162v2M63 191v2M63 199v1M63 203v1M63 262v1M63 278v2M63 284v1M63 287v2M63 318v2M63 322v1M63 346v2M63 362v2M63 396v2M63 400v3M63 414v2M63 419v3M63 434v2M63 461v2"/>
<path stroke="#fee600" d="M0 22v2M0 60v2M0 108v2M0 116v2M0 135v2M0 141v2M0 148v1M0 155v2M0 200v1M0 221v1M0 224v4M0 234v1M0 268v2M0 284v1M0 299v3M0 317v3M0 337v2M0 348v1M0 362v2M0 367v3M0 414v2M1 68v2M1 76v1M1 105v1M1 126v3M1 136v1M1 160v2M1 168v3M1 174v1M1 185v2M1 195v2M1 200v1M1 203v1M1 221v1M1 289v2M1 295v2M1 303v3M1 317v1M1 320v2M1 331v2M1 344v2M1 357v2M1 387v2M1 391v1M1 397v1M1 403v1M2 18v2M2 29v2M2 79v1M2 85v2M2 92v2M2 101v2M2 114v2M2 118v1M2 137v2M2 168v3M2 201v2M2 217v1M2 239v2M2 259v2M2 280v2M2 289v2M2 303v1M2 307v2M2 333v1M2 376v5M2 383v2M3 16v2M3 108v4M3 126v3M3 137v2M3 166v2M3 179v3M3 189v2M3 218v1M3 241v1M3 249v2M3 256v1M3 259v3M3 273v1M3 289v2M3 299v1M3 309v1M3 312v2M3 324v2M3 334v2M3 364v2M3 376v3M3 385v1M4 77v2M4 96v2M4 168v3M4 184v1M4 206v2M4 274v2M4 282v2M4 289v2M4 326v1M4 334v2M4 372v1M4 379v2M4 383v2M4 387v4M4 396v1M4 398v2M4 408v1M4 428v1M5 27v2M5 43v2M5 132v3M5 145v2M5 155v2M5 160v2M5 164v2M5 171v1M5 179v3M5 206v2M5 221v1M5 246v3M5 251v2M5 255v1M5 262v1M5 276v2M5 310v2M5 318v2M5 331v2M5 367v3M6 27v2M6 51v2M6 82v1M6 131v1M6 149v2M6 162v2M6 185v2M6 210v5M6 229v2M6 234v1M6 257v4M6 272v2M6 289v2M6 293v2M6 306v1M6 320v2M6 327v2M6 331v3M6 339v1M6 348v3M6 357v2M6 373v2M6 398v6M7 14v2M7 79v1M7 83v2M7 107v1M7 110v2M7 118v3M7 137v2M7 200v4M7 208v2M7 215v2M7 229v2M7 235v1M7 256v1M7 268v2M7 280v2M7 293v2M7 297v3M7 310v2M7 322v1M7 355v2M7 360v2M7 370v3M7 376v3M7 383v2M7 392v4M7 423v2M8 24v5M8 151v2M8 184v1M8 195v4M8 201v2M8 208v2M8 212v1M8 259v3M8 285v2M8 295v2M8 300v2M8 320v2M8 337v2M8 373v2M8 381v2M8 394v2M9 20v4M9 33v1M9 91v1M9 94v2M9 116v2M9 132v3M9 139v2M9 149v2M9 155v2M9 199v1M9 208v4M9 282v2M9 304v2M9 307v3M9 314v1M9 318v2M9 324v2M9 333v3M9 357v3M9 398v2M9 423v2M10 31v2M10 67v1M10 94v2M10 108v4M10 116v2M10 131v1M10 151v2M10 157v1M10 204v2M10 218v1M10 251v2M10 300v2M10 310v2M10 315v2M10 322v1M10 336v1M10 353v2M10 392v2M10 411v2M11 123v1M11 132v3M11 201v2M11 204v2M11 210v2M11 231v4M11 268v2M11 276v2M11 310v2M11 322v1M11 326v1M11 344v4M11 349v2M11 360v2M11 364v2M11 379v2M11 383v2M11 386v1M11 394v2M11 414v2M11 422v1M12 18v2M12 77v2M12 83v2M12 101v2M12 121v2M12 124v2M12 143v1M12 145v2M12 151v2M12 158v2M12 171v1M12 175v2M12 184v1M12 203v1M12 226v3M12 236v3M12 248v1M12 262v1M12 268v2M12 278v2M12 306v1M12 315v2M12 322v1M12 353v2M12 362v2M12 387v2M12 392v2M12 396v1M13 33v1M13 64v1M13 94v2M13 103v2M13 147v1M13 157v1M13 166v2M13 185v2M13 199v2M13 203v1M13 212v1M13 218v1M13 248v3M13 257v2M13 266v1M13 302v2M13 342v2M13 366v4M13 372v3M13 376v3M13 400v3M14 123v1M14 131v1M14 158v4M14 204v2M14 242v2M14 256v1M14 261v1M14 318v4M14 326v1M14 342v2M14 367v3M14 376v3M14 381v2M14 386v1M14 391v1M14 394v2M14 398v2M14 404v2M14 438v2M15 14v2M15 112v2M15 119v2M15 132v3M15 136v1M15 187v2M15 197v2M15 241v1M15 261v1M15 268v2M15 278v2M15 291v4M15 346v2M15 359v1M15 370v2M15 376v3M15 409v2M16 39v2M16 67v1M16 91v1M16 119v2M16 141v2M16 145v2M16 155v2M16 248v1M16 262v1M16 291v2M16 303v1M16 323v1M16 357v2M16 464v3M17 29v2M17 99v2M17 118v1M17 155v2M17 185v2M17 226v2M17 262v1M17 278v2M17 282v3M17 291v4M17 300v2M17 307v2M17 310v2M17 315v2M17 322v1M17 339v1M17 355v2M17 360v2M17 396v1M17 411v3M18 98v1M18 114v2M18 135v1M18 141v3M18 171v1M18 184v1M18 217v2M18 235v1M18 259v2M18 270v2M18 299v1M18 333v1M18 340v2M18 372v1M18 381v2M19 20v2M19 33v1M19 49v2M19 108v2M19 153v2M19 162v2M19 166v2M19 172v2M19 200v1M19 215v2M19 228v1M19 231v3M19 249v2M19 263v1M19 267v1M19 284v1M19 291v4M19 297v2M19 303v1M19 329v2M19 334v2M19 337v2M19 344v2M19 375v1M19 379v2M19 406v2M19 422v1M20 45v2M20 49v2M20 123v1M20 131v4M20 136v1M20 155v2M20 162v2M20 182v2M20 193v2M20 197v2M20 203v1M20 231v3M20 284v1M20 304v5M20 315v2M20 318v2M20 327v2M20 342v2M20 400v3M20 416v2M21 33v1M21 98v1M21 110v2M21 147v1M21 171v1M21 206v2M21 218v1M21 259v2M21 262v1M21 276v2M21 299v1M21 302v1M21 315v2M21 318v2M21 324v2M21 327v4M21 337v2M21 362v2M21 366v1M21 372v1M21 381v2M21 391v1M21 409v2M21 438v2M22 33v1M22 65v2M22 105v1M22 114v2M22 139v2M22 212v1M22 221v1M22 249v2M22 276v2M22 285v2M22 293v2M22 329v2M22 333v1M22 360v2M22 367v3M22 386v1M22 396v1M22 419v3M22 432v2M23 34v3M23 41v2M23 101v2M23 119v5M23 126v3M23 145v2M23 181v1M23 187v2M23 191v2M23 200v1M23 217v1M23 236v3M23 249v2M23 255v1M23 273v1M23 295v2M23 349v2M23 423v2M24 16v2M24 87v2M24 114v2M24 118v1M24 126v3M24 151v2M24 162v2M24 179v2M24 195v2M24 239v2M24 375v4M25 20v2M25 51v2M25 103v2M25 124v2M25 135v1M25 168v3M25 175v2M25 203v1M25 210v2M25 241v1M25 262v1M25 266v1M25 326v1M25 337v2M25 357v2M25 406v2M26 18v2M26 119v2M26 135v1M26 141v2M26 157v1M26 172v2M26 191v2M26 203v1M26 212v3M26 217v1M26 229v2M26 282v2M26 300v2M26 317v1M26 320v2M26 340v2M26 346v3M26 355v4M26 364v2M26 370v2M26 376v3M26 396v1M26 406v2M26 409v2M27 94v2M27 106v1M27 124v2M27 144v1M27 162v4M27 218v1M27 228v1M27 244v2M27 293v2M27 312v3M27 327v2M27 340v2M27 367v3M28 27v2M28 37v2M28 89v2M28 139v2M28 144v1M28 149v2M28 177v2M28 201v2M28 204v2M28 213v2M28 235v1M28 239v2M28 255v1M28 257v2M28 303v1M28 333v1M28 392v2M28 398v6M28 408v1M29 27v2M29 98v1M29 135v2M29 177v2M29 185v2M29 255v1M29 336v1M29 346v3M29 353v2M30 31v2M30 91v1M30 99v2M30 124v2M30 139v2M30 149v2M30 189v4M30 262v1M30 274v2M30 293v2M30 317v1M30 326v1M30 334v2M30 376v3M30 383v2M30 389v2M31 96v2M31 99v2M31 131v1M31 157v1M31 164v2M31 184v1M31 212v1M31 217v1M31 234v1M31 262v1M31 264v2M31 367v3M31 387v2M31 432v2M32 34v5M32 85v2M32 99v2M32 132v4M32 143v4M32 164v2M32 172v2M32 179v2M32 215v2M32 255v1M32 323v1M32 326v1M32 340v2M32 389v2M32 423v2M32 443v1M33 108v2M33 114v2M33 121v2M33 144v3M33 160v2M33 166v2M33 184v3M33 200v1M33 236v3M33 244v2M33 266v1M33 278v2M33 282v2M33 302v1M33 310v2M33 323v3M33 333v1M33 349v2M33 359v1M33 391v1M34 31v2M34 80v2M34 83v2M34 99v2M34 153v2M34 166v2M34 189v2M34 195v2M34 242v2M34 262v1M34 291v2M34 299v1M34 303v1M34 320v2M34 323v1M34 331v2M34 353v2M34 386v1M34 389v2M34 397v1M34 404v2M34 428v1M35 22v2M35 29v2M35 114v2M35 135v1M35 147v2M35 151v2M35 172v2M35 175v2M35 187v2M35 197v2M35 208v2M35 228v1M35 241v1M35 261v1M35 278v2M35 282v2M35 291v2M35 303v1M35 322v1M35 324v2M35 351v2M35 366v1M35 414v4M36 33v4M36 39v2M36 91v1M36 114v2M36 155v2M36 162v2M36 168v3M36 191v2M36 215v2M36 226v2M36 248v1M36 276v2M36 302v1M36 304v2M36 309v1M36 323v1M37 29v2M37 37v2M37 157v1M37 241v1M37 251v2M37 263v1M37 342v2M37 376v3M37 383v2M38 22v2M38 39v2M38 147v1M38 153v2M38 177v2M38 191v2M38 213v2M38 231v3M38 287v2M38 307v2M38 331v5M38 346v2M38 385v1M38 398v2M38 428v1M38 445v2M39 24v3M39 29v2M39 58v4M39 112v2M39 158v2M39 162v2M39 171v1M39 255v1M39 262v1M39 273v1M39 278v2M39 318v2M39 323v1M39 349v2M39 353v2M39 367v3M39 383v2M39 386v1M39 403v1M40 47v2M40 108v2M40 135v1M40 219v2M40 222v2M40 236v3M40 262v1M40 299v3M40 310v2M40 317v3M40 327v2M40 336v1M40 375v1M40 391v3M40 425v3M40 457v1M41 103v3M41 119v2M41 123v1M41 143v2M41 151v2M41 217v1M41 276v4M41 331v5M41 351v2M41 364v2M41 385v1M41 409v4M41 416v2M42 18v2M42 29v2M42 34v5M42 105v1M42 179v3M42 191v2M42 201v2M42 236v5M42 253v2M42 259v2M42 273v1M42 285v2M42 310v2M42 318v2M42 355v2M42 391v1M42 396v1M42 418v1M42 444v1M43 136v1M43 149v2M43 164v2M43 171v1M43 175v2M43 187v2M43 215v2M43 224v2M43 284v1M43 303v1M43 306v1M43 340v2M43 348v3M43 359v1M43 362v2M43 367v3M43 425v3M44 114v2M44 132v4M44 171v1M44 177v2M44 185v2M44 191v2M44 235v1M44 263v1M44 266v1M44 274v2M44 287v2M44 297v2M44 317v3M44 329v2M44 334v2M44 359v1M44 375v4M44 387v2M44 394v2M44 400v3M44 406v2M44 414v2M44 418v1M44 422v1M45 74v2M45 85v2M45 112v2M45 121v2M45 124v5M45 141v2M45 153v2M45 168v3M45 193v2M45 221v1M45 251v2M45 266v1M45 268v2M45 302v1M45 309v1M45 312v2M45 375v1M45 383v2M45 387v2M45 394v3M45 406v2M46 103v2M46 116v2M46 119v2M46 137v2M46 157v1M46 175v4M46 182v2M46 187v2M46 249v2M46 262v1M46 267v1M46 284v1M46 315v2M46 353v2M46 379v2M46 423v2M46 476v3M47 49v2M47 68v2M47 91v1M47 112v2M47 132v3M47 141v3M47 147v1M47 157v1M47 164v2M47 177v4M47 244v2M47 249v2M47 263v1M47 272v1M47 284v1M47 299v1M47 312v2M47 326v1M47 342v2M47 348v1M47 351v2M47 373v2M47 389v2M47 408v1M48 34v3M48 108v2M48 129v2M48 145v3M48 149v2M48 158v2M48 179v2M48 195v2M48 200v1M48 213v2M48 226v2M48 236v3M48 266v1M48 270v2M48 348v1M48 357v2M48 364v2M48 406v3M48 416v2M49 105v1M49 119v2M49 145v2M49 155v2M49 175v2M49 203v1M49 226v2M49 235v1M49 253v2M49 266v1M49 274v2M49 302v1M49 315v2M49 322v1M49 334v2M49 337v2M49 387v2M49 409v2M50 107v3M50 118v1M50 136v1M50 162v2M50 168v3M50 172v2M50 193v2M50 197v2M50 249v2M50 285v2M50 293v2M50 302v1M50 312v2M50 322v1M50 336v1M50 346v2M50 351v2M50 375v1M50 419v4M51 33v1M51 89v2M51 118v1M51 124v2M51 131v1M51 175v2M51 217v1M51 235v1M51 241v1M51 259v2M51 270v2M51 349v2M51 400v6M51 409v2M52 29v2M52 168v3M52 197v2M52 200v1M52 203v3M52 221v1M52 228v1M52 236v3M52 257v2M52 278v2M52 284v1M52 289v2M52 299v1M52 331v2M52 360v2M52 386v1M52 398v5M53 27v2M53 47v2M53 118v1M53 129v2M53 149v2M53 177v2M53 197v2M53 217v1M53 241v1M53 255v1M53 261v1M53 267v1M53 278v2M53 300v2M53 307v2M53 349v2M53 373v2M53 383v2M53 398v2M53 404v4M53 428v1M54 106v1M54 126v3M54 143v1M54 147v4M54 155v2M54 168v3M54 187v2M54 195v2M54 204v2M54 218v1M54 235v1M54 257v2M54 276v2M54 346v2M54 355v2M54 359v1M54 370v2M54 387v2M54 394v2M54 398v2M54 431v1M55 22v2M55 29v2M55 34v5M55 51v2M55 110v2M55 123v1M55 131v4M55 143v1M55 181v1M55 187v2M55 222v2M55 226v2M55 242v2M55 248v1M55 276v2M55 287v4M55 324v2M55 327v2M55 349v2M55 375v1M55 385v1M55 387v2M55 404v2M55 419v6M55 444v1M56 92v2M56 105v1M56 107v1M56 149v2M56 160v2M56 182v2M56 185v2M56 229v2M56 249v2M56 280v2M56 285v2M56 315v2M56 318v2M56 331v2M56 386v1M56 391v1M56 398v2M56 414v2M56 458v1M57 101v2M57 174v1M57 208v2M57 212v1M57 228v1M57 253v2M57 264v2M57 278v2M57 295v2M57 307v2M57 315v2M57 329v2M57 411v2M57 422v1M57 432v2M57 496v2M58 94v2M58 110v2M58 147v1M58 175v2M58 248v1M58 257v2M58 262v1M58 270v2M58 276v2M58 287v2M58 300v2M58 372v1M58 394v2M58 411v2M58 429v2M58 440v1M59 116v2M59 139v2M59 147v1M59 155v2M59 168v3M59 182v2M59 218v1M59 228v1M59 244v4M59 251v2M59 261v1M59 268v2M59 318v2M59 336v1M59 339v1M59 360v2M59 387v2M59 434v2M60 144v3M60 168v3M60 203v1M60 215v2M60 218v1M60 224v2M60 231v3M60 235v1M60 248v3M60 262v2M60 299v3M60 310v2M60 322v1M60 385v1M60 406v2M60 414v2M60 418v1M60 429v2M60 440v1M60 461v2M60 479v1M61 34v3M61 145v2M61 160v2M61 164v2M61 185v2M61 224v4M61 255v1M61 264v2M61 284v1M61 291v2M61 299v1M61 307v2M61 315v2M61 318v2M61 336v1M61 339v1M61 362v2M61 389v2M61 392v2M61 398v2M61 404v2M61 418v1M62 34v3M62 94v2M62 231v3M62 246v2M62 253v2M62 262v1M62 287v4M62 297v3M62 318v2M62 362v2M62 376v3M62 386v3M62 404v2M62 414v2M62 423v2M62 428v3M62 441v2M62 461v2M63 45v2M63 105v1M63 107v1M63 112v2M63 157v1M63 175v2M63 181v1M63 193v2M63 242v2M63 248v1M63 259v3M63 267v1M63 270v4M63 276v2M63 289v2M63 303v1M63 312v2M63 324v2M63 327v2M63 348v1M63 375v1M63 383v2M63 429v2"/>
<path stroke="#fbf400" d="M0 20v2M0 27v2M0 126v3M0 153v2M0 184v1M0 189v2M0 204v2M0 210v2M0 248v1M0 267v1M0 285v2M0 304v2M0 322v1M0 329v2M0 351v2M0 355v2M0 364v2M0 376v3M0 391v1M0 403v1M1 31v2M1 148v1M1 166v2M1 172v2M1 187v6M1 197v2M1 204v2M1 231v4M1 291v2M1 314v1M1 340v2M1 346v2M1 360v2M1 366v1M1 375v1M1 385v1M1 394v3M1 409v2M2 107v3M2 121v2M2 139v2M2 144v1M2 148v1M2 164v2M2 187v2M2 195v2M2 203v1M2 208v2M2 215v2M2 262v1M2 266v1M2 270v2M2 274v2M2 278v2M2 310v4M2 323v1M2 351v4M2 364v2M2 373v2M2 387v2M2 408v1M3 20v2M3 27v2M3 41v2M3 121v2M3 143v1M3 148v1M3 155v2M3 164v2M3 172v2M3 200v1M3 219v2M3 222v2M3 234v1M3 263v1M3 266v1M3 280v2M3 284v1M3 317v1M3 320v2M3 339v1M3 344v2M3 357v2M3 366v1M3 372v1M3 375v1M4 85v2M4 119v2M4 135v1M4 147v1M4 164v4M4 175v2M4 182v2M4 197v2M4 203v1M4 241v1M4 264v2M4 270v3M4 276v2M4 284v1M4 306v1M4 327v2M4 339v1M4 357v2M4 394v2M4 400v3M4 416v2M5 80v2M5 114v2M5 137v2M5 151v4M5 162v2M5 241v3M5 266v1M5 329v2M5 333v1M5 337v2M5 364v3M5 418v1M6 98v1M6 112v2M6 137v2M6 160v2M6 181v1M6 195v2M6 203v1M6 219v2M6 228v1M6 242v2M6 262v1M6 270v2M6 280v2M6 299v1M6 302v1M6 304v2M6 317v1M6 336v1M6 359v1M6 362v2M6 366v4M6 375v1M6 391v1M7 24v3M7 124v5M7 143v2M7 151v2M7 160v2M7 181v1M7 212v1M7 217v1M7 248v1M7 251v2M7 262v1M7 272v1M7 291v2M7 348v1M8 16v2M8 137v2M8 144v1M8 164v2M8 168v3M8 189v2M8 200v1M8 210v2M8 213v2M8 221v1M8 229v2M8 244v4M8 270v2M8 287v4M8 314v1M8 326v1M8 336v1M8 404v2M8 409v2M9 24v3M9 137v2M9 164v2M9 168v3M9 187v4M9 197v2M9 206v2M9 213v2M9 218v1M9 222v2M9 234v1M9 246v2M9 259v2M9 263v1M9 272v1M9 317v1M9 323v1M9 326v3M9 342v2M9 367v5M9 375v4M9 381v2M9 397v1M9 409v2M9 414v2M10 22v7M10 62v2M10 112v2M10 118v1M10 135v1M10 147v1M10 171v1M10 181v1M10 189v2M10 244v2M10 255v1M10 262v1M10 284v1M10 291v2M10 304v3M10 314v1M10 317v1M10 367v3M10 373v2M10 383v2M10 397v1M10 400v3M10 432v2M11 31v2M11 126v3M11 147v1M11 166v2M11 179v3M11 187v2M11 195v2M11 212v1M11 224v2M11 236v3M11 248v3M11 270v2M11 273v1M11 317v1M11 323v1M11 331v2M11 339v1M11 353v7M11 362v2M11 398v2M11 408v1M12 94v2M12 108v2M12 153v4M12 168v3M12 181v1M12 185v2M12 221v1M12 246v2M12 287v2M12 314v1M12 334v2M12 359v1M12 367v3M12 373v2M12 381v2M12 391v1M12 414v2M12 425v3M13 108v2M13 112v2M13 132v3M13 175v2M13 184v1M13 195v2M13 204v2M13 234v2M13 263v1M13 267v1M13 270v2M13 273v1M13 306v1M13 320v2M13 326v1M13 329v2M13 336v1M13 386v1M13 406v2M14 106v1M14 110v2M14 126v3M14 171v1M14 179v2M14 185v2M14 197v2M14 201v2M14 259v2M14 262v1M14 264v2M14 273v1M14 278v2M14 282v5M14 295v2M14 317v1M14 353v2M14 362v2M14 392v2M15 29v2M15 108v2M15 137v2M15 157v3M15 162v2M15 174v1M15 177v2M15 181v1M15 200v1M15 217v1M15 244v2M15 263v1M15 266v1M15 318v2M15 372v1M16 56v2M16 77v2M16 129v2M16 144v1M16 148v1M16 158v2M16 164v2M16 210v2M16 213v2M16 217v1M16 222v2M16 259v2M16 263v1M16 266v1M16 272v1M16 307v2M16 317v1M16 362v2M16 373v2M16 389v2M16 418v1M16 455v2M17 27v2M17 91v1M17 103v2M17 215v2M17 236v3M17 256v1M17 266v1M17 306v1M17 318v2M17 329v4M17 359v1M17 372v1M17 385v1M17 416v2M17 434v2M18 18v2M18 27v2M18 99v2M18 103v2M18 112v2M18 124v2M18 136v1M18 168v3M18 172v2M18 179v3M18 189v4M18 201v2M18 244v2M18 251v2M18 266v2M18 278v2M18 289v2M18 309v1M18 323v1M18 357v2M18 387v2M18 398v2M18 416v2M18 419v3M19 139v2M19 147v1M19 155v2M19 160v2M19 175v2M19 179v2M19 212v1M19 222v2M19 226v2M19 234v1M19 262v1M19 278v2M19 323v1M19 327v2M19 366v1M19 403v1M19 449v2M20 107v1M20 139v2M20 199v1M20 201v2M20 213v2M20 222v4M20 229v2M20 236v3M20 274v2M20 280v2M20 302v1M20 353v2M20 364v3M20 379v2M20 391v5M20 403v1M20 409v2M21 91v1M21 123v1M21 126v3M21 137v4M21 143v1M21 153v2M21 166v2M21 179v2M21 184v1M21 189v6M21 221v1M21 231v3M21 239v3M21 248v1M21 300v2M21 340v2M21 346v2M21 351v4M21 359v3M22 18v2M22 24v3M22 112v2M22 124v2M22 145v2M22 164v2M22 168v3M22 175v2M22 218v1M22 231v3M22 241v1M22 256v1M22 264v2M22 349v2M22 364v2M22 391v1M22 398v2M22 409v2M23 27v2M23 118v1M23 135v1M23 144v1M23 148v1M23 158v2M23 199v1M23 210v2M23 218v1M23 270v2M23 274v2M23 278v2M23 297v2M23 300v2M23 314v1M23 320v2M23 323v1M23 327v2M23 344v2M23 373v2M23 394v2M24 20v2M24 92v2M24 201v2M24 213v2M24 241v1M24 272v1M24 282v3M24 291v2M24 297v2M24 304v2M24 315v2M24 373v2M24 381v2M24 403v1M24 414v2M24 436v2M25 139v2M25 148v1M25 172v2M25 187v2M25 199v1M25 212v1M25 215v2M25 218v1M25 273v1M25 295v2M25 334v2M25 359v1M25 376v3M25 389v2M25 396v1M25 413v1M26 29v2M26 34v3M26 91v1M26 108v4M26 143v2M26 166v2M26 187v2M26 204v2M26 215v2M26 221v1M26 246v2M26 249v2M26 262v1M26 267v1M26 289v4M26 295v2M26 304v2M26 323v1M26 334v2M26 351v2M26 366v1M26 394v2M26 397v1M26 403v1M26 413v1M27 24v3M27 80v2M27 101v2M27 137v2M27 145v2M27 148v1M27 153v4M27 171v1M27 185v2M27 199v1M27 236v3M27 273v1M27 280v4M27 287v2M27 291v2M27 297v2M27 302v1M27 310v2M27 315v2M27 320v2M27 348v1M27 375v1M27 391v1M27 394v3M27 403v1M27 408v3M27 416v2M28 24v3M28 31v2M28 91v3M28 118v1M28 166v2M28 197v2M28 212v1M28 218v1M28 242v2M28 259v2M28 267v1M28 280v2M28 287v2M28 297v2M28 307v2M28 317v1M28 324v2M28 337v2M28 346v2M28 355v2M28 366v1M28 381v2M28 391v1M28 394v2M28 418v1M29 24v3M29 87v2M29 119v4M29 147v1M29 224v2M29 239v2M29 244v2M29 266v1M29 272v1M29 278v2M29 295v2M29 310v2M29 318v2M29 333v1M29 342v4M29 355v2M29 360v2M29 370v2M29 381v2M29 391v3M29 406v2M29 419v3M29 423v2M29 429v2M29 445v2M30 29v2M30 89v2M30 107v1M30 160v2M30 174v1M30 182v5M30 215v2M30 236v3M30 241v1M30 264v2M30 287v4M30 299v1M30 314v1M30 323v1M30 331v2M30 360v2M30 372v1M30 404v5M30 464v3M31 132v3M31 136v3M31 179v3M31 191v2M31 231v3M31 249v2M31 266v1M31 282v2M31 291v2M31 302v1M31 315v2M31 323v1M31 327v2M31 349v2M31 359v1M31 383v2M32 137v2M32 141v2M32 149v2M32 155v3M32 174v1M32 221v1M32 226v2M32 231v3M32 242v4M32 256v1M32 261v1M32 267v1M32 270v3M32 276v2M32 303v1M32 307v2M32 318v2M32 372v1M32 396v1M32 400v3M32 404v4M32 422v1M32 434v2M32 467v1M33 18v2M33 132v3M33 143v1M33 148v1M33 151v2M33 181v1M33 193v2M33 215v2M33 218v1M33 229v2M33 264v2M33 287v2M33 297v2M33 306v1M33 312v2M33 317v1M33 348v1M33 353v2M33 367v6M33 392v2M33 476v3M34 24v3M34 121v3M34 136v1M34 151v2M34 187v2M34 219v2M34 231v3M34 257v2M34 270v2M34 276v4M34 285v2M34 300v2M34 309v3M34 326v1M34 351v2M34 360v2M34 376v5M34 403v1M34 416v2M34 425v3M35 116v2M35 126v3M35 157v1M35 164v2M35 168v4M35 184v1M35 221v1M35 224v2M35 234v1M35 249v2M35 257v2M35 266v1M35 268v2M35 280v2M35 287v2M35 299v1M35 310v2M35 334v2M35 348v1M35 386v1M36 85v2M36 132v4M36 148v1M36 158v2M36 187v2M36 200v1M36 218v1M36 242v2M36 263v1M36 389v2M36 398v2M36 404v2M36 418v1M36 425v3M36 459v2M37 16v2M37 31v2M37 108v2M37 137v2M37 155v2M37 175v2M37 191v2M37 208v2M37 219v2M37 253v3M37 261v1M37 270v2M37 291v2M37 303v1M37 312v2M37 320v3M37 324v2M37 327v2M37 353v2M37 362v2M37 385v1M37 404v2M38 121v2M38 143v1M38 151v2M38 157v1M38 168v4M38 182v3M38 210v2M38 273v1M38 280v2M38 289v4M38 297v2M38 300v2M38 306v1M38 310v2M38 320v2M38 324v2M38 327v2M38 340v2M38 349v2M38 372v3M38 376v3M38 391v1M38 394v2M38 397v1M38 406v2M38 409v2M38 416v2M39 119v2M39 124v2M39 155v2M39 160v2M39 187v2M39 197v2M39 210v2M39 215v2M39 222v2M39 239v2M39 253v2M39 285v2M39 304v2M39 309v1M39 355v2M39 372v3M39 376v3M39 396v1M39 398v2M39 408v3M39 418v1M39 425v3M40 16v2M40 43v2M40 121v2M40 131v1M40 143v1M40 148v3M40 162v2M40 177v2M40 187v2M40 199v1M40 257v2M40 263v1M40 272v1M40 293v4M40 337v2M40 355v4M40 360v2M40 387v2M40 419v3M41 18v2M41 34v3M41 112v2M41 137v2M41 148v1M41 155v2M41 184v1M41 189v2M41 224v2M41 244v4M41 249v2M41 293v2M41 323v1M41 359v1M41 367v3M41 387v2M41 391v1M41 396v2M41 406v2M41 445v2M42 33v1M42 135v1M42 139v2M42 155v2M42 158v2M42 184v1M42 199v1M42 246v3M42 291v2M42 317v1M42 351v4M42 359v1M42 364v2M42 376v3M42 386v1M42 394v2M43 24v3M43 34v3M43 114v2M43 137v2M43 155v2M43 160v2M43 195v4M43 236v3M43 241v1M43 248v1M43 261v1M43 264v2M43 295v2M43 309v1M43 320v2M43 324v2M43 339v1M43 357v2M43 379v2M43 385v1M43 396v1M43 411v2M43 418v1M44 34v3M44 123v1M44 131v1M44 148v3M44 166v2M44 172v2M44 175v2M44 221v1M44 255v1M44 267v1M44 282v2M44 285v2M44 302v1M44 304v2M44 310v2M44 323v1M44 342v2M44 398v2M44 429v2M45 123v1M45 139v2M45 185v6M45 217v1M45 219v2M45 224v2M45 234v1M45 276v2M45 289v2M45 306v1M45 326v1M45 329v2M45 333v3M45 391v1M45 416v2M46 20v2M46 132v4M46 145v2M46 164v2M46 199v1M46 224v2M46 228v1M46 255v1M46 272v2M46 310v2M46 333v3M46 360v2M46 387v2M46 397v1M46 400v3M46 431v7M47 31v2M47 37v2M47 80v2M47 110v2M47 193v2M47 199v1M47 201v2M47 228v1M47 276v2M47 280v2M47 293v2M47 297v2M47 304v5M47 310v2M47 322v1M47 333v1M47 339v1M47 362v2M47 375v1M47 385v1M47 392v2M47 423v2M47 447v2M47 474v1M48 33v1M48 82v1M48 116v3M48 139v2M48 204v2M48 215v4M48 222v4M48 261v1M48 284v1M48 291v2M48 300v3M48 304v2M48 329v2M48 413v1M48 445v2M49 31v2M49 80v2M49 98v1M49 121v2M49 126v3M49 136v1M49 157v1M49 164v2M49 168v3M49 200v1M49 212v1M49 234v1M49 248v3M49 264v2M49 304v2M49 351v2M49 355v2M49 385v1M49 400v3M49 434v2M50 22v2M50 158v4M50 175v2M50 204v2M50 236v3M50 262v1M50 280v2M50 289v2M50 299v1M50 353v2M50 367v3M50 397v1M50 416v2M51 31v2M51 108v2M51 174v1M51 189v2M51 195v2M51 206v2M51 229v5M51 249v4M51 257v2M51 268v2M51 278v2M51 289v2M51 303v1M51 309v1M51 317v1M51 370v2M51 375v1M51 408v1M51 413v1M51 425v4M51 463v1M52 31v3M52 45v2M52 137v2M52 185v2M52 217v1M52 222v2M52 235v1M52 248v1M52 276v2M52 318v2M52 323v1M52 349v2M52 359v1M52 413v1M52 449v2M52 458v3M53 16v2M53 22v2M53 123v1M53 144v1M53 157v1M53 162v2M53 171v3M53 203v1M53 226v2M53 333v1M53 362v2M53 387v2M53 391v1M53 411v2M53 416v2M53 422v1M54 27v2M54 158v2M54 182v2M54 224v2M54 229v2M54 236v3M54 241v1M54 246v2M54 280v2M54 285v4M54 307v2M54 322v1M54 344v2M54 386v1M54 397v1M54 406v2M54 409v2M55 45v2M55 92v2M55 118v1M55 153v4M55 158v2M55 162v2M55 172v2M55 175v4M55 195v2M55 208v2M55 261v1M55 278v2M55 282v2M55 291v2M55 295v4M55 309v3M55 389v2M55 397v1M55 403v1M55 409v2M55 413v1M56 29v2M56 235v1M56 284v1M56 323v1M56 336v1M56 406v2M56 411v2M56 425v3M57 33v1M57 168v3M57 181v3M57 195v2M57 218v1M57 256v1M57 297v2M57 303v1M57 309v1M57 360v2M57 389v2M57 394v2M57 409v2M57 419v3M57 428v1M57 441v2M58 124v2M58 201v2M58 219v3M58 228v1M58 282v2M58 302v1M58 333v3M58 366v1M58 397v1M58 422v1M58 428v1M58 432v2M58 458v3M59 24v3M59 107v1M59 126v3M59 171v1M59 174v5M59 184v3M59 193v6M59 200v1M59 203v1M59 236v3M59 255v1M59 263v1M59 295v2M59 300v2M59 303v3M59 310v4M59 317v1M59 383v2M59 396v1M59 404v2M59 409v2M59 423v2M59 429v2M60 124v2M60 132v5M60 147v1M60 166v2M60 174v1M60 179v3M60 197v2M60 204v4M60 212v1M60 226v2M60 242v2M60 246v2M60 272v2M60 289v2M60 317v1M60 413v1M60 425v3M61 29v2M61 41v2M61 123v1M61 126v3M61 166v2M61 171v1M61 193v2M61 201v3M61 208v2M61 244v4M61 253v2M61 309v1M61 312v2M61 359v1M61 386v1M61 438v2M62 22v2M62 119v2M62 139v2M62 181v1M62 193v4M62 215v2M62 229v2M62 235v1M62 255v1M62 280v2M62 336v1M62 346v3M62 357v2M62 375v1M62 416v2M62 422v1M62 436v2M62 449v2M62 464v3M63 24v3M63 101v2M63 119v2M63 149v2M63 182v2M63 206v2M63 274v2M63 285v2M63 293v4M63 304v2M63 404v2M63 411v2M63 447v2M63 468v2"/>
<path stroke="#f5ff00" d="M0 87v2M0 105v1M0 121v2M0 143v2M0 158v2M0 172v2M0 187v2M0 236v5M0 261v1M0 270v2M0 307v2M0 372v1M0 408v1M1 96v2M1 112v2M1 119v2M1 123v1M1 153v2M1 179v2M1 213v2M1 217v1M1 256v1M1 264v2M1 276v2M1 302v1M1 312v2M1 318v2M1 334v2M1 348v1M1 367v3M1 389v2M1 392v2M1 406v2M2 99v2M2 141v2M2 147v1M2 157v1M2 182v2M2 200v1M2 242v2M2 246v2M2 249v2M2 253v2M2 257v2M2 272v2M2 348v3M2 360v2M2 370v3M2 389v3M2 398v2M2 409v2M2 422v1M3 98v1M3 105v1M3 107v1M3 112v2M3 145v2M3 149v2M3 158v2M3 168v4M3 174v1M3 187v2M3 224v2M3 228v1M3 262v1M3 287v2M3 337v2M3 359v5M3 370v2M3 406v2M3 409v2M3 432v4M4 10v4M4 124v2M4 137v2M4 141v2M4 153v2M4 157v3M4 189v2M4 199v1M4 215v2M4 224v2M4 235v1M4 239v2M4 242v2M4 299v3M4 303v1M4 307v2M4 353v4M4 385v1M4 406v2M4 422v1M5 29v2M5 184v1M5 204v2M5 208v2M5 215v2M5 264v2M5 289v2M5 306v1M5 312v2M5 317v1M5 327v2M5 359v1M5 372v3M5 385v1M5 387v2M5 396v1M5 400v6M5 411v2M5 416v2M6 20v2M6 94v2M6 107v1M6 143v1M6 151v2M6 179v2M6 182v3M6 187v2M6 191v2M6 208v2M6 217v2M6 241v1M6 263v1M6 300v2M6 312v2M6 334v2M6 360v2M6 372v1M6 379v2M6 404v2M7 112v2M7 145v2M7 153v2M7 175v2M7 182v2M7 193v2M7 204v4M7 210v2M7 222v4M7 228v1M7 249v2M7 270v2M7 309v1M7 324v2M7 336v1M7 344v2M7 351v2M7 364v2M7 389v2M8 7v3M8 18v2M8 22v2M8 131v1M8 149v2M8 162v2M8 203v1M8 226v2M8 239v2M8 256v1M8 276v2M8 315v2M8 349v2M8 376v3M9 114v2M9 118v3M9 129v3M9 171v1M9 177v2M9 200v1M9 244v2M9 253v2M9 266v1M9 285v2M9 289v4M9 300v2M9 315v2M9 322v1M9 331v2M9 344v2M9 372v1M9 386v1M10 175v2M10 195v2M10 203v1M10 210v2M10 219v2M10 236v3M10 246v2M10 334v2M10 360v2M10 375v1M10 389v2M10 394v2M10 408v3M10 428v1M11 106v1M11 149v2M11 174v1M11 193v2M11 200v1M11 208v2M11 219v2M11 239v2M11 246v2M11 251v2M11 256v1M11 262v2M11 285v2M11 293v2M11 297v2M11 336v3M11 340v2M11 366v1M11 375v1M11 385v1M12 20v2M12 116v2M12 123v1M12 144v1M12 160v4M12 191v2M12 212v1M12 229v2M12 242v2M12 263v1M12 285v2M12 295v4M12 309v1M12 318v2M12 323v1M12 326v1M12 370v2M13 174v1M13 177v2M13 187v2M13 215v2M13 222v4M13 246v2M13 272v1M13 284v1M13 287v2M13 309v1M13 324v2M13 387v2M13 398v2M14 27v2M14 136v5M14 212v1M14 229v2M14 235v1M14 248v1M14 266v1M14 268v4M14 287v2M14 302v1M14 323v1M14 333v1M14 336v1M14 348v3M14 379v2M14 385v1M14 409v2M15 22v2M15 34v3M15 135v1M15 179v2M15 184v1M15 189v2M15 226v3M15 236v3M15 248v1M15 255v2M15 274v2M15 282v2M15 289v2M15 304v2M15 317v1M15 334v3M15 360v2M15 381v4M15 423v5M15 447v2M16 118v1M16 172v2M16 175v2M16 203v1M16 212v1M16 218v1M16 221v1M16 224v2M16 236v5M16 284v1M16 304v2M16 309v1M16 312v2M16 331v2M16 348v1M16 360v2M16 366v1M16 406v2M16 409v2M17 20v2M17 24v3M17 149v2M17 175v4M17 187v2M17 204v2M17 217v1M17 221v1M17 231v3M17 241v1M17 253v2M17 267v1M17 287v2M17 309v1M17 314v1M17 323v1M17 327v2M17 333v1M17 367v3M17 381v2M17 389v2M17 394v2M17 431v1M17 440v1M18 131v1M18 139v2M18 153v2M18 160v2M18 175v2M18 187v2M18 203v1M18 208v2M18 212v1M18 231v4M18 241v1M18 257v2M18 264v2M18 276v2M18 297v2M18 307v2M18 336v1M18 342v2M18 386v1M18 434v2M18 440v1M19 18v2M19 82v1M19 105v2M19 121v2M19 131v1M19 145v2M19 187v4M19 208v2M19 253v2M19 270v2M19 282v2M19 336v1M19 346v2M19 351v2M19 364v2M19 385v1M19 404v2M20 164v4M20 179v2M20 208v5M20 217v1M20 226v2M20 253v2M20 257v2M20 270v2M20 287v2M20 299v1M20 310v2M20 317v1M20 329v5M20 336v1M20 346v3M20 355v2M20 383v2M21 22v2M21 31v2M21 118v1M21 129v2M21 160v2M21 175v2M21 182v2M21 197v2M21 212v1M21 219v2M21 228v3M21 236v3M21 242v2M21 249v2M21 263v3M21 282v2M21 285v4M21 323v1M21 342v2M21 348v1M21 387v2M21 394v2M21 403v1M22 29v2M22 34v3M22 132v3M22 141v2M22 158v2M22 172v2M22 187v2M22 226v2M22 266v1M22 282v2M22 297v3M22 303v1M22 310v2M22 317v1M22 320v2M22 324v2M22 348v1M22 375v1M22 381v2M22 392v2M22 422v1M23 71v3M23 99v2M23 132v3M23 139v2M23 149v2M23 155v2M23 175v2M23 184v3M23 201v2M23 219v2M23 224v2M23 228v3M23 239v2M23 264v2M23 293v2M23 299v1M23 304v2M23 331v2M23 383v2M23 406v2M24 105v1M24 147v1M24 164v4M24 189v2M24 229v2M24 244v2M24 251v2M24 262v1M24 274v2M24 278v2M24 285v2M24 293v2M24 300v2M24 303v1M24 322v1M24 344v2M24 349v2M24 385v1M25 29v2M25 89v2M25 141v2M25 206v2M25 226v5M25 246v2M25 276v2M25 302v1M25 304v2M25 312v2M25 339v1M25 346v2M25 360v4M25 385v1M25 403v1M25 409v2M25 422v1M26 145v2M26 151v2M26 168v3M26 185v2M26 199v1M26 219v2M26 239v2M26 270v2M26 274v2M26 287v2M26 297v2M26 309v3M26 327v2M26 386v1M26 391v1M27 119v2M27 132v3M27 181v1M27 206v2M27 235v1M27 256v3M27 263v3M27 272v1M27 289v2M27 336v1M27 342v2M27 349v4M27 364v3M27 389v2M27 400v3M27 406v2M27 414v2M27 434v2M28 108v2M28 121v2M28 147v1M28 162v2M28 172v2M28 219v2M28 226v2M28 231v3M28 249v2M28 274v2M28 293v2M28 309v1M28 334v2M28 385v1M28 406v2M28 416v2M29 22v2M29 114v2M29 129v2M29 141v2M29 155v3M29 200v1M29 215v2M29 300v2M29 320v3M29 329v2M29 334v2M29 359v1M29 364v2M29 367v3M29 376v3M29 394v3M29 409v2M30 14v2M30 18v2M30 22v2M30 145v2M30 157v1M30 164v2M30 177v2M30 217v1M30 221v1M30 235v1M30 239v2M30 244v2M30 251v2M30 280v4M30 329v2M30 351v4M30 375v1M31 22v5M31 112v2M31 129v2M31 145v2M31 158v2M31 193v2M31 201v2M31 204v2M31 213v2M31 228v1M31 235v1M31 257v2M31 295v2M31 309v5M31 320v3M31 360v2M31 379v2M31 398v6M31 414v2M32 22v2M32 31v2M32 136v1M32 139v2M32 168v3M32 177v2M32 182v2M32 185v6M32 195v2M32 228v1M32 253v2M32 266v1M32 284v1M32 291v2M32 295v2M32 327v2M32 331v2M32 360v2M32 418v1M33 24v3M33 33v1M33 129v2M33 139v2M33 158v2M33 175v2M33 189v2M33 204v2M33 212v1M33 259v2M33 285v2M33 299v1M33 322v1M33 327v2M33 342v2M33 346v2M33 355v2M33 366v1M33 387v2M33 397v1M33 429v2M34 22v2M34 27v2M34 129v2M34 147v1M34 171v1M34 182v2M34 199v1M34 201v2M34 206v4M34 215v2M34 241v1M34 263v1M34 297v2M34 327v2M34 339v1M34 359v1M34 370v2M34 414v2M34 419v3M34 444v1M35 153v2M35 166v2M35 174v1M35 215v2M35 219v2M35 236v3M35 263v1M35 284v1M35 306v1M35 326v1M35 344v2M35 408v1M35 422v1M35 429v2M36 27v2M36 123v1M36 145v3M36 160v2M36 199v1M36 212v1M36 219v2M36 224v2M36 267v1M36 278v2M36 285v2M36 297v2M36 317v1M36 334v2M36 346v2M36 351v2M36 359v1M36 373v6M36 429v2M37 22v2M37 118v1M37 141v2M37 166v2M37 171v1M37 204v2M37 224v2M37 236v5M37 248v1M37 293v2M37 297v2M37 306v4M37 337v2M37 346v2M37 357v2M37 375v1M37 379v2M37 394v3M37 408v1M37 413v1M38 20v2M38 155v2M38 187v2M38 200v1M38 224v2M38 242v4M38 266v1M38 336v1M38 364v2M38 387v2M38 400v3M38 411v2M39 123v1M39 139v4M39 145v2M39 193v2M39 201v2M39 235v1M39 246v2M39 267v1M39 270v3M39 297v2M39 346v2M40 20v2M40 136v1M40 155v2M40 181v1M40 185v2M40 200v1M40 221v1M40 249v2M40 273v1M40 302v1M40 304v2M40 309v1M40 334v2M40 359v1M40 394v2M40 403v1M40 418v1M40 422v1M40 429v2M40 445v2M41 24v3M41 136v1M41 160v2M41 175v2M41 197v2M41 210v2M41 222v2M41 229v2M41 234v2M41 239v3M41 253v2M41 263v1M41 266v1M41 268v2M41 289v2M41 303v1M41 309v1M41 318v2M41 329v2M41 375v4M41 389v2M42 108v2M42 153v2M42 157v1M42 185v2M42 189v2M42 195v4M42 204v2M42 212v1M42 217v1M42 219v3M42 224v2M42 251v2M42 278v2M42 293v2M42 302v2M42 320v2M42 339v1M42 342v2M42 392v2M42 413v1M43 27v2M43 31v2M43 141v2M43 162v2M43 181v1M43 189v2M43 217v1M43 226v2M43 229v2M43 234v1M43 259v2M43 287v2M43 297v2M43 342v2M43 366v1M43 372v1M43 383v2M43 386v1M43 413v3M43 423v2M43 444v1M44 31v2M44 182v2M44 193v4M44 236v3M44 291v4M44 326v1M44 344v2M44 411v2M44 461v2M45 27v2M45 110v2M45 131v1M45 200v1M45 204v4M45 215v2M45 228v1M45 261v1M45 280v4M45 293v2M45 299v1M45 310v2M45 367v3M45 409v2M45 431v1M45 436v2M45 443v1M45 447v2M46 14v2M46 147v2M46 179v2M46 189v2M46 195v2M46 201v2M46 204v2M46 229v5M46 242v2M46 291v2M46 300v2M46 303v1M46 312v2M46 326v1M46 342v2M46 366v1M46 404v2M46 409v2M46 413v1M46 445v2M47 24v3M47 51v2M47 101v2M47 123v1M47 145v2M47 189v2M47 217v2M47 242v2M47 248v1M47 255v1M47 274v2M47 320v2M47 366v1M47 379v2M48 18v2M48 24v3M48 31v2M48 119v2M48 132v4M48 141v2M48 166v2M48 177v2M48 181v3M48 197v2M48 201v2M48 231v3M48 241v1M48 246v2M48 257v2M48 297v2M48 310v2M48 314v1M48 375v1M48 486v1M49 124v2M49 148v3M49 158v2M49 179v2M49 184v1M49 201v2M49 215v2M49 267v1M49 272v1M49 278v2M49 287v2M49 309v1M49 314v1M49 318v4M49 326v1M49 329v2M49 344v2M49 360v2M49 372v3M49 408v1M49 411v2M50 106v1M50 124v2M50 129v2M50 137v2M50 166v2M50 174v1M50 191v2M50 206v2M50 210v2M50 255v1M50 261v1M50 268v2M50 315v2M50 342v4M50 383v2M50 398v2M50 428v1M50 447v2M51 22v2M51 139v2M51 151v2M51 199v2M51 210v2M51 246v2M51 263v1M51 366v1M51 381v2M51 387v2M51 419v3M51 429v2M52 96v2M52 155v2M52 164v2M52 172v2M52 175v2M52 182v2M52 187v2M52 199v1M52 201v2M52 218v1M52 226v2M52 231v3M52 251v2M52 263v1M52 285v2M52 306v1M52 366v1M52 423v2M53 153v2M53 160v2M53 187v2M53 201v2M53 212v1M53 257v4M53 262v1M53 273v3M53 302v1M53 310v2M53 331v2M53 342v2M53 346v2M53 359v1M53 396v1M53 413v1M53 447v2M53 468v2M54 33v1M54 121v2M54 131v1M54 153v2M54 193v2M54 199v2M54 219v2M54 231v3M54 244v2M54 249v2M54 253v2M54 259v2M54 262v1M54 267v1M54 273v1M54 314v1M54 320v2M54 336v1M54 375v1M54 383v2M54 411v2M54 419v3M54 423v2M54 482v1M55 107v1M55 124v2M55 147v1M55 151v2M55 185v2M55 197v2M55 210v2M55 213v2M55 219v2M55 249v2M55 257v2M55 266v1M55 329v2M55 370v2M55 455v3M56 14v2M56 33v1M56 39v2M56 126v3M56 135v1M56 145v2M56 162v2M56 201v2M56 204v2M56 208v2M56 212v1M56 215v2M56 219v2M56 236v3M56 262v1M56 268v2M56 289v2M56 310v2M56 322v1M56 334v2M56 344v2M56 353v2M56 357v2M56 370v2M56 404v2M56 422v1M56 431v1M57 149v2M57 160v2M57 164v2M57 172v2M57 184v1M57 197v2M57 221v1M57 242v2M57 248v1M57 255v1M57 257v2M57 273v3M57 280v2M57 287v2M57 323v1M57 376v3M57 404v2M57 431v1M57 438v2M57 451v2M57 459v2M58 16v2M58 33v1M58 143v1M58 153v2M58 189v2M58 212v1M58 231v3M58 239v2M58 272v1M58 291v2M58 309v1M58 323v3M58 392v2M58 396v1M58 414v2M58 438v2M59 131v1M59 135v1M59 141v2M59 157v1M59 166v2M59 189v2M59 212v1M59 242v2M59 248v1M59 262v1M59 273v1M59 326v1M59 425v4M59 463v1M59 482v1M60 22v2M60 29v2M60 53v2M60 99v2M60 143v1M60 148v1M60 158v2M60 187v2M60 200v1M60 210v2M60 222v2M60 244v2M60 259v3M60 264v2M60 274v2M60 303v1M60 309v1M60 320v2M60 416v2M60 468v2M61 151v2M61 158v2M61 175v2M61 236v3M61 270v2M61 295v2M61 317v1M61 396v1M61 409v2M61 423v2M61 428v4M61 458v1M62 27v2M62 187v2M62 199v1M62 213v2M62 224v2M62 256v1M62 263v1M62 272v1M62 282v2M62 381v2M62 409v4M63 10v4M63 37v2M63 129v2M63 137v2M63 147v1M63 218v1M63 239v2M63 244v2M63 255v2M63 379v2M63 398v2M63 440v1"/>
<path stroke="#d2ff00" d="M0 5v2M0 157v1M0 164v2M0 175v2M0 241v3M0 287v2M0 306v1M0 344v2M0 370v2M0 428v1M1 20v2M1 24v3M1 141v2M1 151v2M1 182v2M1 215v2M1 218v1M1 224v4M1 235v1M1 246v2M1 262v1M1 280v2M1 293v2M1 324v2M1 362v4M1 376v3M1 386v1M1 398v2M1 404v2M1 447v2M2 149v2M2 153v2M2 174v1M2 184v1M2 189v2M2 219v2M2 236v3M2 241v1M2 302v1M2 306v1M2 355v2M2 392v4M2 397v1M3 22v2M3 135v1M3 203v1M3 235v1M3 248v1M3 251v2M3 282v2M3 329v2M3 351v2M3 396v1M3 403v3M3 411v2M3 444v1M4 116v2M4 177v2M4 200v1M4 208v2M4 219v2M4 267v1M4 318v2M4 370v2M4 386v1M4 392v2M5 166v2M5 195v4M5 210v2M5 213v2M5 273v1M5 293v2M5 362v2M5 389v2M6 136v1M6 193v2M6 222v2M6 248v3M6 253v2M6 261v1M6 268v2M6 285v2M6 381v2M6 425v3M7 101v2M7 123v1M7 141v2M7 148v1M7 172v3M7 191v2M7 213v2M7 239v2M7 244v2M7 253v2M7 267v1M7 304v2M7 317v1M7 323v1M7 357v2M7 366v1M7 387v2M7 397v1M7 409v2M7 419v3M8 14v2M8 33v1M8 108v2M8 118v1M8 157v1M8 177v2M8 251v4M8 266v2M8 280v2M8 353v4M8 385v1M8 392v2M8 418v1M8 429v2M9 151v2M9 157v1M9 166v2M9 174v1M9 212v1M9 215v2M9 231v3M9 295v2M9 312v2M9 340v2M9 389v2M9 396v1M9 406v2M10 96v2M10 132v3M10 148v1M10 168v3M10 187v2M10 197v2M10 201v2M10 212v3M10 217v1M10 222v2M10 228v1M10 261v1M10 267v1M10 272v1M10 297v3M10 333v1M10 342v4M10 348v1M10 370v2M10 381v2M10 406v2M11 18v2M11 24v3M11 119v2M11 158v2M11 177v2M11 184v1M11 215v2M11 235v1M11 259v3M11 272v1M11 287v4M11 302v1M11 373v2M11 387v2M11 411v2M11 428v1M11 453v2M12 22v2M12 33v1M12 148v1M12 195v2M12 204v2M12 222v2M12 249v2M12 266v1M12 276v2M12 303v1M12 376v3M12 389v2M12 403v1M12 411v2M13 101v2M13 121v2M13 145v2M13 151v2M13 210v2M13 226v2M13 229v2M13 239v2M13 253v2M13 293v2M13 346v2M13 360v4M13 389v2M13 408v1M13 411v3M13 432v2M14 89v2M14 149v2M14 155v2M14 177v2M14 193v2M14 210v2M14 215v2M14 228v1M14 244v2M14 249v4M14 280v2M14 334v2M14 337v2M14 340v2M14 373v2M14 400v4M14 411v2M14 418v1M14 423v2M15 10v4M15 116v2M15 139v2M15 148v1M15 212v1M15 215v2M15 231v3M15 235v1M15 264v2M15 295v4M15 306v1M15 323v1M15 340v2M15 355v2M15 394v2M15 403v1M15 428v1M15 445v2M16 31v2M16 76v1M16 101v2M16 147v1M16 174v1M16 181v1M16 187v4M16 226v2M16 234v1M16 246v2M16 251v2M16 278v2M16 300v2M16 306v1M16 339v1M16 359v1M16 364v2M16 391v1M16 414v2M16 423v2M16 447v2M16 453v2M17 43v2M17 124v2M17 148v1M17 162v2M17 193v2M17 208v2M17 213v2M17 261v1M17 270v2M17 274v2M17 312v2M17 336v1M17 349v2M17 383v2M17 398v5M17 414v2M17 423v2M17 428v1M18 108v2M18 166v2M18 177v2M18 206v2M18 224v2M18 239v2M18 242v2M18 253v2M18 261v1M18 263v1M18 285v2M18 302v1M18 317v1M18 327v2M18 337v2M18 375v4M18 383v2M18 406v3M18 414v2M18 429v2M19 24v5M19 157v3M19 164v2M19 193v2M19 204v2M19 217v1M19 229v2M19 236v3M19 242v2M19 299v1M19 317v1M19 326v1M19 355v2M19 359v3M19 372v1M19 383v2M19 392v2M19 397v3M19 411v2M19 416v3M19 429v2M20 14v2M20 20v2M20 106v1M20 126v3M20 135v1M20 141v2M20 158v2M20 168v3M20 177v2M20 234v1M20 241v1M20 256v1M20 261v1M20 272v1M20 297v2M20 326v1M20 339v1M20 359v3M20 381v2M20 414v2M21 131v1M21 151v2M21 174v1M21 200v1M21 215v2M21 256v3M21 266v1M21 270v2M21 284v1M21 295v4M21 304v2M21 367v3M21 376v3M21 386v1M21 398v2M21 406v2M21 418v4M21 425v3M21 429v2M21 467v1M22 136v1M22 149v2M22 166v2M22 179v2M22 182v2M22 195v4M22 204v2M22 236v3M22 242v2M22 253v2M22 261v1M22 270v2M22 273v1M22 280v2M22 295v2M22 339v1M22 355v2M22 359v1M22 366v1M22 370v2M22 373v2M22 383v2M22 411v2M22 414v4M23 24v3M23 92v2M23 179v2M23 248v1M23 256v1M23 268v2M23 280v2M23 329v2M23 367v3M23 387v2M23 404v2M23 411v2M23 422v1M24 22v2M24 31v2M24 137v2M24 193v2M24 204v4M24 218v1M24 222v4M24 253v2M24 257v4M24 273v1M24 276v2M24 280v2M24 317v1M24 333v1M24 351v2M24 366v1M24 411v2M25 18v2M25 171v1M25 174v1M25 219v2M25 261v1M25 264v2M25 300v2M25 336v1M25 366v1M25 370v2M25 381v2M25 408v1M25 423v2M25 436v2M25 440v1M25 455v2M26 22v2M26 27v2M26 124v2M26 158v2M26 171v1M26 257v2M26 276v2M26 280v2M27 22v2M27 135v1M27 149v2M27 200v1M27 219v2M27 224v2M27 229v2M27 234v1M27 242v2M27 262v1M27 266v1M27 270v2M27 304v2M27 318v2M27 344v2M27 385v1M27 397v1M27 411v2M27 432v2M28 16v4M28 123v1M28 143v1M28 155v2M28 222v2M28 256v1M28 262v1M28 268v2M28 300v2M28 304v2M28 310v2M28 326v1M28 348v5M28 360v2M28 375v4M28 413v1M28 445v4M29 31v2M29 151v4M29 166v2M29 172v2M29 195v2M29 222v2M29 226v2M29 235v1M29 262v1M29 273v1M29 285v2M29 289v2M29 317v1M29 327v2M29 373v2M29 383v2M29 386v1M29 389v2M30 137v2M30 147v1M30 153v2M30 168v3M30 195v2M30 199v2M30 203v1M30 208v2M30 218v1M30 256v1M30 266v1M30 270v2M30 297v2M30 302v1M30 304v2M30 320v2M30 324v2M30 344v2M30 362v4M30 381v2M30 391v1M30 397v1M30 413v1M30 416v2M30 434v2M31 20v2M31 27v2M31 153v4M31 197v3M31 208v2M31 241v1M31 263v1M31 267v1M31 276v2M31 280v2M31 285v2M31 297v3M31 307v2M31 326v1M31 331v2M31 373v2M31 381v2M31 436v2M31 447v2M32 16v2M32 148v1M32 162v2M32 171v1M32 175v2M32 201v3M32 239v2M32 268v2M32 280v2M32 285v2M32 310v2M32 329v2M32 339v1M32 385v1M32 391v1M32 397v1M32 431v1M32 441v2M33 16v2M33 22v2M33 123v1M33 179v2M33 199v1M33 208v2M33 219v2M33 222v2M33 226v3M33 234v1M33 239v3M33 255v1M33 261v1M33 273v1M33 280v2M33 318v2M33 386v1M33 400v3M33 408v1M33 416v2M33 438v2M34 162v2M34 168v3M34 179v3M34 204v2M34 236v3M34 244v2M34 259v2M34 264v2M34 284v1M34 287v2M34 302v1M34 307v2M34 317v1M34 344v2M34 372v1M34 385v1M34 394v2M34 438v2M35 119v2M35 131v1M35 137v2M35 162v2M35 179v3M35 189v2M35 206v2M35 210v2M35 222v2M35 229v2M35 255v1M35 364v2M35 367v3M35 391v1M35 400v3M36 116v2M36 151v2M36 157v1M36 206v4M36 228v1M36 246v2M36 253v2M36 273v1M36 291v2M36 300v2M36 327v4M36 333v1M36 336v1M36 339v1M36 342v2M36 353v2M36 367v3M36 383v4M36 396v1M36 408v1M36 419v3M36 431v3M36 436v2M36 482v1M37 119v2M37 131v1M37 149v2M37 153v2M37 158v4M37 185v2M37 199v1M37 218v1M37 222v2M37 228v1M37 235v1M37 257v2M37 276v2M37 300v3M37 331v3M37 359v3M38 31v2M38 149v2M38 179v2M38 185v2M38 189v2M38 195v2M38 204v2M38 228v1M38 246v3M38 257v2M38 272v1M38 282v2M38 312v3M38 317v1M38 322v1M38 337v2M38 359v3M38 370v2M38 389v2M38 392v2M38 408v1M38 418v1M39 22v2M39 27v2M39 31v2M39 151v2M39 172v2M39 181v1M39 189v4M39 206v2M39 219v3M39 236v3M39 244v2M39 257v2M39 295v2M39 324v2M39 331v2M39 337v2M39 342v2M39 362v2M40 166v2M40 182v2M40 201v2M40 215v2M40 226v2M40 231v3M40 239v2M40 246v2M40 251v2M40 256v1M40 261v1M40 274v2M40 284v1M40 315v2M40 370v2M40 398v2M40 408v1M40 411v2M40 416v2M41 124v2M41 147v1M41 162v4M41 172v2M41 177v4M41 203v3M41 208v2M41 219v2M41 236v3M41 242v2M41 256v1M41 261v1M41 299v1M41 307v2M41 310v2M41 342v2M41 349v2M41 428v1M41 434v2M42 101v2M42 164v2M42 193v2M42 228v1M42 270v3M42 300v2M42 304v3M42 315v2M42 336v1M42 375v1M42 411v2M42 425v3M42 429v2M42 432v2M42 438v2M43 20v2M43 37v4M43 132v3M43 166v2M43 177v2M43 203v1M43 206v2M43 212v1M43 218v1M43 251v2M43 256v3M43 262v1M43 273v1M43 291v2M43 300v2M43 304v2M43 337v2M43 389v2M43 416v2M43 429v2M44 101v2M44 153v2M44 179v2M44 210v3M44 215v2M44 231v3M44 239v2M44 244v2M44 268v2M44 273v1M44 280v2M44 306v3M44 314v1M44 320v2M44 349v4M44 357v2M44 360v2M44 386v1M44 396v1M44 413v1M44 443v1M44 445v2M44 470v2M45 235v1M45 253v2M45 267v1M45 273v1M45 300v2M45 307v2M45 317v1M45 339v1M45 397v1M45 408v1M45 429v2M46 101v2M46 203v1M46 212v1M46 217v1M46 221v3M46 241v1M46 244v2M46 270v2M46 285v2M46 293v2M46 324v2M46 339v1M46 346v2M46 362v2M46 386v1M46 440v1M47 34v3M47 121v2M47 155v2M47 160v2M47 166v2M47 181v1M47 191v2M47 197v2M47 215v2M47 264v2M47 267v1M47 289v2M47 295v2M47 403v3M47 436v2M47 463v1M48 144v1M48 185v2M48 212v1M48 234v1M48 253v2M48 256v1M48 267v1M48 309v1M48 392v2M48 403v1M48 425v3M48 429v2M48 498v2M49 135v1M49 166v2M49 199v1M49 218v1M49 242v4M49 262v2M49 273v1M49 291v2M49 349v2M49 392v2M49 413v3M49 422v1M50 189v2M50 195v2M50 200v3M50 218v1M50 221v1M50 231v3M50 263v1M50 270v2M50 276v2M50 284v1M50 314v1M50 317v3M50 333v1M50 423v5M50 440v1M50 445v2M50 453v2M50 464v3M51 20v2M51 29v2M51 143v1M51 153v2M51 162v2M51 168v4M51 181v3M51 193v2M51 197v2M51 213v4M51 239v2M51 244v2M51 256v1M51 261v1M51 274v2M51 297v3M51 302v1M51 314v1M51 320v2M51 372v1M51 391v1M51 394v2M51 416v3M51 434v4M51 440v1M51 464v3M52 49v2M52 131v1M52 174v1M52 181v1M52 193v4M52 208v2M52 266v1M52 295v2M52 327v2M52 397v1M52 418v1M52 447v2M53 166v2M53 175v2M53 179v2M53 182v2M53 185v2M53 244v2M53 251v4M53 266v1M53 270v2M53 282v2M53 295v4M53 303v1M53 337v2M53 372v1M53 409v2M53 414v2M53 418v1M53 423v2M53 436v2M53 459v2M54 18v2M54 179v2M54 203v1M54 242v2M54 264v2M54 274v2M54 309v1M54 396v1M54 400v3M54 418v1M54 428v1M54 432v4M54 444v3M55 16v2M55 145v2M55 179v2M55 212v1M55 234v1M55 236v3M55 285v2M55 302v1M55 304v2M55 322v1M55 379v2M55 443v1M55 495v1M56 164v2M56 177v2M56 203v1M56 221v1M56 239v2M56 256v1M56 267v1M56 337v2M56 408v1M56 440v1M56 445v2M56 451v2M57 14v6M57 29v4M57 153v2M57 166v2M57 175v4M57 200v1M57 204v2M57 234v2M57 244v2M57 249v2M57 262v2M57 268v2M57 284v1M57 291v2M57 403v1M57 414v2M57 464v3M57 470v2M58 20v2M58 34v3M58 119v2M58 151v2M58 155v2M58 182v2M58 197v2M58 204v2M58 215v2M58 234v1M58 236v3M58 249v2M58 259v2M58 264v2M58 285v2M58 295v4M58 317v1M58 336v1M58 344v2M58 423v5M58 436v2M58 470v2M59 187v2M59 191v2M59 199v1M59 204v2M59 229v2M59 241v1M59 256v1M59 264v3M59 276v2M59 422v1M59 436v2M59 444v3M59 453v2M60 155v2M60 171v1M60 185v2M60 236v3M60 282v2M60 291v2M60 297v2M60 302v1M60 403v1M60 458v1M61 27v2M61 96v2M61 177v7M61 187v2M61 213v2M61 249v4M61 261v1M61 287v2M61 297v2M61 331v2M61 411v3M61 416v2M61 422v1M61 441v2M62 2v3M62 14v2M62 31v2M62 108v2M62 171v3M62 191v2M62 203v1M62 210v2M62 218v1M62 251v2M62 257v2M62 304v2M62 406v2M62 431v1M62 434v2M62 443v1M62 453v4M63 20v2M63 135v1M63 155v2M63 164v2M63 184v1M63 200v1M63 204v2M63 208v5M63 215v2M63 235v1M63 251v2M63 306v1M63 418v1M63 422v1M63 431v3M63 438v2M63 443v1M63 483v3"/>
<path stroke="#a5ff00" d="M0 24v3M0 131v1M0 147v1M0 162v2M0 191v2M0 197v2M0 218v1M0 231v3M0 251v2M0 276v2M0 280v2M0 303v1M0 312v2M0 346v2M0 357v2M0 419v3M0 423v2M0 432v2M1 18v2M1 22v2M1 110v2M1 131v1M1 149v2M1 155v2M1 219v2M1 228v1M1 257v4M1 267v1M1 349v2M1 423v2M2 33v1M2 136v1M2 181v1M2 185v2M2 191v4M2 224v2M2 248v1M2 255v1M2 331v2M2 337v2M2 375v1M2 396v1M2 403v5M2 441v2M2 464v3M3 10v4M3 124v2M3 131v1M3 177v2M3 185v2M3 191v2M3 208v2M3 212v1M3 217v1M3 221v1M3 231v3M3 236v3M3 242v2M3 267v1M3 270v2M3 278v2M3 285v2M3 293v2M3 303v1M3 387v2M3 480v2M4 126v3M4 131v1M4 145v2M4 172v2M4 212v1M4 234v1M4 295v2M4 351v2M4 360v2M4 366v1M4 414v2M4 423v2M5 121v2M5 139v2M5 168v3M5 187v2M5 203v1M5 231v3M5 253v2M5 259v3M5 272v1M5 342v2M5 348v1M5 392v2M5 408v1M5 425v3M5 432v2M6 10v4M6 135v1M6 155v2M6 171v1M6 175v2M6 199v1M6 267v1M6 282v2M6 291v2M6 297v2M6 364v2M6 411v3M6 458v1M7 20v2M7 27v2M7 158v2M7 177v2M7 187v2M7 300v2M7 331v2M7 339v3M7 353v2M7 362v2M7 367v3M7 413v1M7 416v2M7 461v2M8 106v1M8 124v2M8 145v2M8 153v2M8 174v1M8 215v2M8 219v2M8 228v1M8 249v2M8 255v1M8 262v1M8 317v1M8 324v2M8 362v4M8 379v2M8 398v2M8 403v1M8 419v4M8 428v1M8 461v2M9 31v2M9 99v2M9 144v1M9 191v2M9 195v2M9 219v2M9 251v2M9 302v1M9 351v2M9 355v2M9 391v1M9 394v2M9 413v1M9 416v2M9 429v2M10 160v2M10 166v2M10 182v2M10 185v2M10 221v1M10 231v3M10 239v2M10 242v2M10 249v2M10 259v2M10 264v2M10 282v2M10 293v2M10 303v1M10 387v2M10 447v2M10 453v2M11 20v2M11 137v2M11 151v2M11 189v2M11 197v2M11 213v2M11 222v2M11 226v2M11 257v2M11 280v2M11 300v2M11 320v2M11 404v2M11 436v2M11 458v1M11 483v3M12 131v1M12 179v2M12 193v2M12 213v2M12 235v1M12 282v2M12 329v2M12 351v2M12 375v1M12 383v2M12 394v2M12 408v3M12 422v1M13 18v2M13 153v4M13 191v2M13 228v1M13 231v3M13 244v2M13 280v2M13 295v2M13 299v1M13 310v2M13 314v1M13 334v2M13 339v1M13 359v1M13 375v1M13 379v4M13 403v1M13 422v1M13 463v4M14 16v2M14 33v1M14 153v2M14 162v2M14 181v1M14 199v1M14 206v4M14 221v1M14 253v2M14 329v2M14 346v2M14 396v1M14 414v2M15 16v2M15 131v1M15 145v2M15 151v2M15 164v2M15 171v1M15 175v2M15 222v2M15 267v1M15 272v1M15 276v2M15 280v2M15 302v1M15 396v1M15 398v2M15 413v1M16 24v3M16 208v2M16 249v2M16 255v1M16 261v1M16 267v1M16 280v2M16 289v2M16 295v2M16 314v1M16 372v1M16 379v4M16 404v2M16 422v1M16 429v2M17 114v2M17 131v1M17 141v2M17 158v2M17 171v3M17 184v1M17 212v1M17 235v1M17 239v2M17 242v2M17 248v1M17 337v2M17 370v2M17 386v1M17 409v2M17 418v1M17 445v2M18 16v2M18 116v2M18 132v3M18 149v2M18 157v1M18 204v2M18 219v2M18 249v2M18 262v1M18 268v2M18 284v1M18 360v2M18 418v1M18 438v2M19 22v2M19 174v1M19 181v1M19 184v1M19 191v2M19 197v2M19 224v2M19 251v2M19 255v1M19 276v2M19 307v5M19 314v1M19 340v2M19 413v1M20 22v2M20 118v1M20 148v1M20 171v1M20 218v4M20 248v1M20 273v1M20 303v1M20 323v1M20 334v2M20 376v3M20 385v1M20 408v1M20 423v2M21 217v1M21 226v2M21 307v2M21 334v3M21 389v2M21 396v1M21 411v2M21 416v2M21 447v2M22 20v2M22 174v1M22 199v1M22 217v1M22 255v1M22 268v2M22 272v1M22 289v2M22 309v1M22 331v2M22 351v2M22 372v1M22 404v2M23 14v2M23 18v2M23 124v2M23 160v2M23 177v2M23 231v5M23 253v2M23 259v2M23 262v1M23 266v1M23 272v1M23 282v3M23 309v1M23 336v1M23 381v2M23 392v2M23 416v2M23 455v2M24 27v2M24 217v1M24 236v3M24 289v2M24 299v1M24 310v2M24 337v2M24 364v2M24 383v2M24 387v2M24 419v3M24 447v2M25 16v2M25 112v2M25 121v2M25 153v2M25 181v1M25 185v2M25 201v2M25 217v1M25 236v3M25 253v2M25 259v2M25 285v2M25 289v2M25 303v1M25 344v2M25 386v1M25 418v1M25 434v2M25 457v2M26 14v2M26 20v2M26 139v2M26 174v1M26 181v3M26 201v2M26 206v2M26 224v2M26 228v1M26 253v2M26 284v3M26 293v2M26 336v4M26 360v2M26 432v2M27 18v2M27 174v1M27 187v2M27 195v4M27 201v2M27 241v1M27 307v2M27 322v1M27 331v2M27 355v2M27 398v2M27 404v2M27 422v1M27 451v2M28 33v1M28 129v2M28 182v2M28 185v4M28 195v2M28 224v2M28 228v1M28 264v2M28 272v1M28 285v2M28 336v1M28 339v1M28 359v1M28 383v2M28 386v5M28 425v3M28 431v1M28 438v2M28 443v1M28 461v2M29 20v2M29 162v2M29 168v3M29 175v2M29 187v2M29 193v2M29 204v2M29 208v2M29 212v1M29 221v1M29 236v3M29 241v1M29 251v2M29 261v1M29 274v2M29 291v2M29 299v1M29 314v1M29 323v1M29 339v1M29 351v2M29 397v1M29 449v2M30 10v4M30 24v3M30 162v2M30 172v2M30 187v2M30 224v2M30 231v4M30 253v2M30 263v1M30 312v2M30 315v2M30 370v2M30 379v2M30 387v2M30 431v1M30 436v2M31 149v2M31 162v2M31 182v2M31 222v2M31 242v2M31 246v2M31 268v2M31 272v1M31 329v2M31 333v1M31 340v2M31 366v1M31 370v2M31 391v1M31 404v4M31 453v2M32 20v2M32 114v2M32 160v2M32 193v2M32 197v2M32 213v2M32 251v2M32 263v1M32 278v2M32 282v2M32 299v1M32 302v1M32 336v1M32 351v2M32 357v2M32 383v2M32 403v1M32 413v1M32 425v3M32 445v2M33 206v2M33 246v3M33 257v2M33 272v1M33 284v1M33 293v2M33 304v2M33 307v2M33 344v2M33 351v2M33 379v2M33 418v1M33 422v1M33 431v1M33 444v1M34 29v2M34 175v4M34 184v3M34 193v2M34 212v1M34 221v1M34 248v1M34 274v2M34 306v1M34 318v2M34 333v3M34 342v2M34 366v1M34 381v2M34 391v1M34 411v2M34 432v2M34 445v2M34 470v2M35 143v1M35 204v2M35 218v1M35 239v2M35 242v4M35 253v2M35 259v2M35 267v1M35 272v1M35 285v2M35 289v2M35 300v2M35 307v2M35 317v1M35 337v2M35 360v2M35 370v2M35 376v3M35 404v2M35 411v2M36 22v2M36 153v2M36 193v2M36 222v2M36 231v3M36 235v1M36 244v2M36 255v1M36 282v2M36 293v2M36 299v1M36 322v1M36 397v1M36 403v1M36 409v4M37 168v3M37 174v1M37 177v2M37 182v2M37 193v2M37 206v2M37 212v1M37 215v2M37 226v2M37 229v2M37 246v2M37 264v2M37 268v2M37 272v1M37 310v2M37 373v2M37 386v1M37 397v1M37 416v2M37 428v1M37 445v2M37 487v2M38 135v1M38 172v2M38 175v2M38 193v2M38 215v2M38 251v2M38 259v2M38 263v1M38 274v2M38 303v1M38 353v2M38 403v1M38 423v2M38 429v2M39 137v2M39 168v3M39 185v2M39 203v1M39 217v1M39 241v1M39 263v1M39 274v2M39 282v2M39 303v1M39 314v1M39 360v2M39 366v1M39 387v2M39 411v2M39 428v1M39 436v2M39 472v2M40 27v4M40 103v2M40 123v1M40 153v2M40 174v3M40 189v2M40 197v2M40 203v5M40 213v2M40 224v2M40 244v2M40 276v2M40 280v2M40 307v2M40 413v1M40 432v2M40 451v2M41 7v3M41 168v3M41 267v1M41 304v2M41 344v2M41 360v2M41 366v1M41 400v6M41 408v1M41 418v1M41 432v2M41 444v1M42 24v3M42 166v2M42 218v1M42 222v2M42 229v2M42 235v1M42 242v2M42 249v2M42 261v1M42 263v1M42 266v1M42 312v3M42 362v2M42 367v3M43 33v1M43 145v2M43 158v2M43 172v2M43 179v2M43 185v2M43 266v1M43 268v2M43 272v1M43 360v2M43 404v2M43 419v3M43 445v2M44 181v1M44 218v1M44 222v4M44 251v2M44 264v2M44 278v2M44 295v2M44 300v2M44 331v2M44 409v2M44 423v2M44 428v1M44 444v1M45 31v2M45 174v1M45 181v1M45 197v2M45 208v4M45 213v2M45 236v3M45 257v2M45 315v2M45 423v2M45 428v1M45 445v2M45 455v2M46 10v4M46 168v3M46 172v2M46 181v1M46 191v2M46 210v2M46 215v2M46 219v2M46 236v3M46 261v1M46 268v2M46 282v2M46 297v2M46 320v2M46 323v1M46 425v3M46 443v1M47 16v2M47 175v2M47 182v2M47 195v2M47 200v1M47 221v1M47 241v1M47 246v2M47 253v2M47 309v1M47 400v3M47 429v2M47 434v2M47 445v2M47 451v2M48 136v1M48 151v2M48 168v3M48 172v2M48 184v1M48 228v1M48 235v1M48 280v2M48 331v2M48 336v1M48 346v2M48 389v2M48 411v2M48 419v3M48 431v1M48 449v2M48 455v2M49 20v2M49 27v2M49 177v2M49 208v2M49 213v2M49 219v2M49 251v2M49 270v2M49 276v2M49 285v2M49 317v1M49 336v1M49 397v1M49 428v3M49 451v2M49 476v3M50 10v4M50 16v2M50 145v2M50 187v2M50 213v2M50 228v1M50 244v2M50 256v1M50 264v2M50 272v1M50 310v2M50 331v2M50 449v2M50 461v2M51 16v2M51 172v2M51 208v2M51 226v2M51 284v1M51 310v2M51 441v2M51 461v2M51 468v2M52 177v2M52 189v2M52 213v2M52 244v2M52 249v2M52 253v2M52 261v1M52 264v2M52 272v1M52 303v1M52 310v4M52 387v2M52 396v1M52 414v2M52 419v3M53 24v3M53 145v2M53 164v2M53 184v1M53 195v2M53 210v2M53 222v4M53 229v2M53 234v1M53 236v3M53 285v2M53 293v2M53 314v1M53 400v3M53 434v2M53 449v2M54 166v2M54 181v1M54 210v2M54 315v2M54 414v2M54 425v3M54 458v1M54 483v3M55 24v3M55 126v3M55 141v2M55 174v1M55 199v1M55 215v2M55 218v1M55 229v2M55 239v3M55 262v1M55 280v2M55 470v2M56 166v6M56 174v1M56 210v2M56 264v2M56 364v2M56 418v1M56 459v2M57 20v2M57 27v2M57 141v2M57 187v2M57 203v1M57 210v2M57 224v2M57 259v2M57 266v2M57 270v2M57 413v1M57 423v2M57 506v2M58 27v2M58 148v1M58 158v4M58 191v2M58 200v1M58 217v2M58 222v2M58 241v1M58 253v2M58 307v2M58 312v2M58 447v2M58 457v1M59 22v2M59 148v1M59 153v2M59 208v2M59 215v2M59 222v2M59 253v2M59 274v2M59 285v2M59 291v2M59 351v2M59 414v2M59 438v2M59 447v4M59 459v2M60 153v2M60 175v2M60 195v2M60 201v2M60 234v1M60 239v2M60 253v2M60 266v1M60 293v4M60 387v2M60 391v1M60 436v4M60 443v1M60 480v2M61 18v2M61 153v2M61 197v2M61 375v1M61 447v4M61 464v3M62 7v3M62 33v1M62 175v2M62 179v2M62 200v3M62 208v2M62 270v2M62 398v2M62 403v1M63 177v2M63 185v2M63 195v2M63 201v2M63 217v1M63 228v1M63 231v3M63 257v2M63 300v2M63 310v2M63 370v2M63 436v2M63 444v1M63 449v4M63 474v1M63 500v2"/>
<path stroke="#7fff00" d="M0 16v2M0 149v2M0 171v1M0 177v2M0 201v2M0 235v1M0 262v1M0 326v1M0 336v1M0 359v1M0 379v4M0 416v2M1 10v6M1 175v2M1 239v2M1 248v1M1 285v2M1 383v2M1 400v3M1 411v2M2 14v2M2 131v4M2 143v1M2 151v2M2 172v2M2 199v1M2 226v2M2 263v1M2 339v1M2 381v2M2 386v1M3 24v3M3 206v2M3 274v2M3 291v2M3 304v2M3 307v2M3 383v2M3 400v3M3 413v1M4 14v2M4 24v5M4 108v2M4 143v1M4 231v3M4 248v1M4 253v2M4 256v1M4 297v2M4 391v1M4 404v2M4 418v1M4 425v3M4 451v2M5 7v3M5 135v1M5 149v2M5 158v2M5 172v2M5 200v1M5 212v1M5 256v1M5 307v2M5 397v3M5 414v2M5 441v3M5 445v2M6 166v2M6 177v2M6 197v2M6 200v1M6 221v1M6 244v2M6 255v2M6 276v4M6 309v1M6 370v2M6 389v2M6 394v2M6 416v7M6 436v2M7 22v2M7 221v1M7 226v2M7 359v1M7 396v1M7 400v3M7 418v1M7 425v3M7 432v2M7 438v2M7 447v2M8 136v1M8 181v1M8 185v2M8 199v1M8 206v2M8 234v1M8 366v4M8 391v1M8 413v3M8 425v3M9 135v1M9 143v1M9 203v1M9 242v2M9 248v1M9 255v1M9 257v2M9 274v2M9 280v2M9 293v2M9 303v1M9 360v2M9 366v1M9 383v2M9 403v1M9 422v1M9 434v2M9 443v1M9 455v2M10 33v1M10 199v1M10 206v2M10 263v1M10 372v1M10 398v2M10 403v1M10 414v2M10 418v1M10 459v2M11 14v2M11 33v1M11 148v1M11 164v2M11 175v2M11 253v2M11 274v2M11 278v2M11 431v1M12 10v4M12 139v2M12 174v1M12 177v2M12 201v2M12 224v2M12 253v2M12 259v2M12 272v1M12 280v2M12 304v2M12 400v3M12 416v2M13 22v2M13 148v1M13 219v2M13 282v2M13 285v2M13 348v1M14 18v2M14 22v2M14 175v2M14 213v2M14 255v1M14 272v1M14 300v2M14 307v2M14 370v2M14 397v1M14 408v1M14 449v2M14 458v1M15 155v2M15 195v2M15 203v1M15 242v2M15 257v2M15 262v1M15 285v2M15 299v1M15 331v2M15 422v1M15 436v2M15 443v1M16 20v2M16 153v2M16 160v2M16 166v2M16 179v2M16 195v2M16 228v1M16 242v2M16 270v2M16 299v1M16 315v2M16 387v2M16 411v2M17 16v2M17 126v3M17 164v2M17 181v3M17 191v2M17 195v2M17 203v1M17 206v2M17 229v2M17 234v1M17 264v2M17 276v2M17 357v2M17 375v1M17 379v2M17 403v1M17 438v2M18 162v2M18 226v2M18 236v3M18 274v2M18 280v2M18 287v2M18 312v2M18 315v2M18 370v2M18 397v1M18 413v1M18 428v1M18 436v2M19 135v1M19 177v2M19 235v1M19 257v2M19 268v2M19 273v3M19 315v2M19 331v2M19 348v1M19 391v1M19 453v2M19 470v2M20 147v1M20 184v1M20 189v2M20 228v1M20 259v2M20 264v2M20 268v2M20 322v1M20 375v1M20 413v1M20 418v1M20 474v1M21 14v2M21 24v5M21 168v3M21 181v1M21 244v2M21 255v1M21 278v2M21 364v2M21 383v2M21 392v2M21 423v2M21 428v1M21 451v2M21 464v3M22 148v1M22 181v1M22 184v1M22 191v2M22 203v1M22 208v2M22 213v2M22 229v2M22 234v2M22 259v2M22 263v1M22 353v2M22 387v2M22 397v1M22 434v2M22 453v2M23 166v2M23 197v2M23 203v1M23 221v3M23 246v2M23 285v2M23 306v1M23 312v2M23 362v2M23 386v1M23 396v1M23 403v1M23 408v1M23 418v1M24 129v2M24 171v1M24 203v1M24 210v3M24 219v3M24 295v2M24 306v1M24 312v2M24 360v2M24 392v4M24 416v2M25 22v2M25 131v1M25 164v2M25 179v2M25 189v2M25 231v3M25 249v2M25 291v2M25 348v1M25 375v1M25 387v2M25 392v2M25 429v2M25 438v2M25 451v4M25 480v2M26 24v3M26 147v2M26 160v2M26 164v2M26 179v2M26 184v1M26 189v2M26 197v2M26 218v1M26 244v2M26 273v1M26 303v1M26 367v3M26 373v2M26 389v2M26 392v2M26 398v2M26 418v1M26 423v2M26 479v1M27 20v2M27 158v2M27 166v2M27 212v1M27 226v2M27 249v2M27 261v1M27 268v2M27 300v2M27 337v2M27 357v2M27 370v2M27 376v3M27 392v2M27 419v3M27 428v3M27 455v2M27 458v1M27 467v1M27 504v1M28 20v2M28 160v2M28 171v1M28 174v1M28 179v3M28 191v2M28 236v3M28 263v1M28 270v2M28 291v2M28 318v2M29 139v2M29 184v1M29 219v2M29 242v2M29 306v1M29 340v2M29 362v2M29 398v2M29 403v1M29 414v2M29 422v1M29 436v2M29 464v3M29 468v4M30 112v2M30 135v1M30 143v1M30 158v2M30 179v2M30 193v2M30 204v2M30 213v2M30 219v2M30 228v1M30 248v1M30 307v3M30 342v2M30 403v1M30 409v2M30 414v2M31 114v2M31 195v2M31 200v1M31 210v2M31 215v2M31 236v3M31 259v2M31 270v2M31 273v1M31 289v2M31 300v2M31 306v1M31 314v1M31 376v3M31 392v2M31 413v1M31 416v2M31 440v1M31 444v1M31 459v2M32 212v1M32 219v2M32 222v2M32 248v3M32 262v1M32 297v2M32 300v2M32 304v2M32 317v1M32 322v1M32 334v2M32 342v2M32 359v1M32 366v4M32 381v2M32 408v1M32 411v2M32 419v3M33 7v3M33 118v1M33 168v3M33 172v3M33 187v2M33 201v2M33 221v1M33 231v3M33 235v1M33 249v2M33 262v1M33 396v1M33 398v2M33 403v3M33 419v3M33 434v2M33 441v2M33 445v2M34 18v2M34 148v1M34 246v2M34 251v2M34 266v1M34 272v1M34 315v2M34 324v2M34 364v2M34 375v1M34 387v2M34 396v1M34 436v2M34 459v2M35 191v2M35 195v2M35 199v1M35 246v2M35 262v1M35 276v2M35 359v1M35 375v1M35 385v1M35 394v3M35 403v1M35 413v1M35 425v3M36 29v2M36 103v2M36 149v2M36 189v2M36 210v2M36 234v1M36 241v1M36 249v2M36 256v1M36 261v1M36 287v2M36 295v2M36 303v1M36 340v2M36 348v1M36 370v2M36 387v2M36 438v2M36 441v2M36 451v2M37 103v2M37 184v1M37 231v3M37 273v1M37 280v2M37 285v2M37 317v1M37 329v2M37 391v1M37 398v2M37 418v1M37 429v2M37 432v2M37 444v1M38 18v2M38 221v1M38 226v2M38 234v1M38 267v3M38 285v2M38 295v2M38 422v1M38 443v1M39 251v2M39 256v1M39 299v1M39 320v2M39 351v2M39 414v2M39 419v3M39 434v2M39 443v1M39 449v2M40 10v4M40 193v2M40 208v2M40 212v1M40 218v1M40 228v1M40 242v2M40 259v2M40 314v1M40 366v1M40 376v3M40 396v1M40 409v2M40 436v2M40 440v1M40 461v2M41 14v2M41 182v2M41 195v2M41 248v1M41 251v2M41 255v1M41 273v3M41 282v2M41 302v1M41 324v2M41 336v1M41 348v1M41 470v2M42 174v1M42 187v2M42 210v2M42 234v1M42 255v1M42 257v2M42 268v2M42 274v2M42 406v2M42 409v2M42 416v2M42 449v2M42 458v1M43 157v1M43 204v2M43 208v2M43 302v1M43 400v3M43 434v2M43 459v2M44 22v2M44 27v4M44 197v2M44 234v1M44 248v3M44 270v2M44 309v1M44 419v3M44 464v4M44 495v1M45 18v2M45 129v2M45 151v2M45 166v2M45 175v2M45 184v1M45 203v1M45 242v2M45 246v2M45 264v2M45 274v2M45 337v2M45 346v2M45 398v5M45 432v4M45 441v2M46 16v2M46 24v3M46 155v2M46 171v1M46 193v2M46 235v1M46 278v2M46 299v1M46 418v4M46 429v2M46 467v1M47 136v1M47 184v1M47 208v2M47 212v1M47 224v2M47 383v2M47 387v2M47 398v2M47 418v1M48 7v3M48 20v4M48 39v2M48 114v2M48 273v1M48 295v2M48 299v1M48 323v1M48 428v1M48 432v2M48 440v1M48 444v1M48 458v1M49 16v2M49 131v1M49 187v2M49 193v2M49 221v1M49 310v2M49 418v4M49 449v2M49 461v2M50 217v1M50 234v1M50 246v2M50 253v2M50 257v2M50 266v1M50 291v2M50 337v2M50 379v2M50 400v3M50 414v2M50 434v4M50 451v2M50 457v1M50 463v1M51 18v2M51 157v1M51 201v2M51 228v1M51 234v1M51 364v2M51 389v2M51 422v1M51 443v2M51 459v2M51 483v3M52 27v2M52 255v2M52 282v2M52 293v2M52 438v2M52 445v2M52 470v2M52 486v1M53 158v2M53 193v2M53 228v1M53 242v2M53 249v2M53 264v2M53 289v2M53 425v3M53 429v2M53 444v1M53 458v1M53 482v1M53 496v2M53 509v1M54 24v3M54 151v2M54 228v1M54 255v1M54 282v2M54 310v2M54 441v2M54 447v2M54 461v2M55 18v2M55 27v2M55 191v2M55 201v2M55 228v1M55 231v3M55 235v1M55 253v2M55 259v2M55 270v3M55 293v2M55 299v1M55 386v1M55 411v2M55 431v1M55 436v4M55 445v2M55 449v2M55 459v2M56 5v2M56 24v3M56 34v3M56 158v2M56 193v2M56 200v1M56 224v2M56 242v2M56 246v3M56 251v2M56 255v1M56 266v1M56 293v2M56 419v3M56 438v2M56 449v2M56 463v1M56 482v1M57 24v3M57 199v1M57 213v2M57 219v2M57 226v2M57 261v1M57 398v2M57 425v3M57 444v1M58 22v2M58 29v2M58 171v1M58 179v2M58 251v2M58 284v1M58 306v1M58 431v1M58 479v3M58 483v3M59 18v2M59 118v1M59 234v1M59 280v2M59 386v1M59 398v2M59 419v3M59 431v1M59 451v2M59 467v3M59 495v1M60 24v3M60 213v2M60 221v1M60 228v1M60 267v1M60 422v1M60 441v2M60 444v1M60 455v2M60 463v1M61 33v1M61 189v2M61 204v2M61 219v5M61 228v1M61 235v1M61 242v2M61 267v1M61 278v2M61 285v2M61 440v1M62 16v2M62 20v2M62 24v3M62 135v1M62 164v2M62 212v1M62 221v3M62 267v1M62 438v2M62 447v2M62 476v3M63 34v3M63 453v2"/>
<path stroke="#3cff0b" d="M0 182v2M0 212v3M0 360v2M0 386v3M0 400v3M0 413v1M0 436v2M0 455v2M0 476v3M1 137v2M1 171v1M1 249v4M1 322v1M1 418v1M1 422v1M1 436v2M2 16v2M2 244v2M2 256v1M2 261v1M2 282v3M2 423v2M2 428v1M2 457v1M3 18v2M3 195v2M3 199v1M3 213v2M3 239v2M3 306v1M3 336v1M3 373v2M3 425v3M3 438v2M3 445v2M4 151v2M4 187v2M4 221v1M4 226v2M4 266v1M4 413v1M4 432v2M4 441v2M5 20v4M5 143v1M5 182v2M5 191v2M5 217v1M5 228v1M5 267v1M5 287v2M5 383v2M5 406v2M5 422v1M5 440v1M6 246v2M6 251v2M6 414v2M6 423v2M6 431v1M6 443v1M7 16v4M7 132v3M7 189v2M7 197v2M7 219v2M7 246v2M7 255v1M7 259v3M7 306v1M7 314v1M7 403v1M7 429v2M7 445v2M7 451v2M8 126v3M8 179v2M8 222v2M8 231v3M8 340v2M8 432v4M9 10v4M9 16v2M9 182v2M9 185v2M9 204v2M9 224v4M9 264v2M9 268v2M9 276v4M9 348v1M9 408v1M9 428v1M9 431v1M10 158v2M10 200v1M10 234v1M10 257v2M10 349v2M10 379v2M10 396v1M10 434v2M10 440v1M10 475v1M11 155v2M11 241v1M11 267v1M11 291v2M11 396v1M11 403v1M11 409v2M11 440v1M11 444v1M11 449v2M11 455v2M11 475v1M12 16v2M12 172v2M12 189v2M12 200v1M12 206v4M12 234v1M12 255v2M12 264v2M12 310v2M12 419v3M13 16v2M13 27v2M13 164v2M13 181v1M13 189v2M13 197v2M13 236v3M13 242v2M13 261v1M13 291v2M13 297v2M13 318v2M13 327v2M13 370v2M13 397v1M13 438v2M14 219v2M14 224v2M14 303v1M14 432v4M15 182v2M15 201v2M15 229v2M15 300v2M15 373v2M15 434v2M15 467v1M15 472v2M16 18v2M16 253v2M16 276v2M16 336v1M16 383v2M16 392v2M16 398v2M16 403v1M16 419v3M17 137v2M17 166v2M17 197v2M17 246v2M17 259v2M17 273v1M17 299v1M17 303v1M17 387v2M17 392v2M17 404v2M17 408v1M17 419v3M17 429v2M17 467v1M18 22v2M18 145v2M18 174v1M18 200v1M18 221v1M18 228v1M18 295v2M18 303v1M18 314v1M18 322v1M18 392v5M18 409v2M18 443v1M18 457v1M18 463v1M18 498v2M19 5v2M19 16v2M19 195v2M19 218v1M19 244v2M19 295v2M19 300v2M19 408v1M19 428v1M19 443v1M20 200v1M20 235v1M20 244v2M20 262v1M20 285v2M20 398v2M20 406v2M20 422v1M20 432v2M21 20v2M21 195v2M21 222v2M21 261v1M21 303v1M21 320v2M21 344v2M21 404v2M21 408v1M21 413v3M21 453v2M22 251v2M22 287v2M22 344v2M22 385v1M22 400v4M22 408v1M22 423v2M22 429v2M22 438v2M22 463v1M22 472v2M22 475v1M23 10v4M23 153v2M23 157v1M23 189v2M23 204v2M23 213v2M23 226v2M23 251v2M23 261v1M23 267v1M23 302v1M23 310v2M23 318v2M23 376v3M23 389v2M23 398v2M23 434v4M23 476v3M24 24v3M24 168v3M24 172v2M24 177v2M24 185v4M24 200v1M24 234v1M24 248v1M24 256v1M24 331v2M24 367v3M24 397v1M24 404v2M24 413v1M24 434v2M25 126v3M25 191v2M25 195v2M25 204v2M25 239v2M25 293v2M25 306v1M25 318v2M25 342v2M25 391v1M25 414v2M25 425v3M25 447v2M25 459v2M25 468v2M26 175v2M26 241v1M26 251v2M26 268v2M26 344v2M26 372v1M26 400v3M26 444v1M26 468v2M26 496v2M27 157v1M27 175v2M27 184v1M27 213v2M27 295v2M27 329v2M27 372v1M27 379v2M28 199v1M28 244v2M28 266v1M28 299v1M28 306v1M28 314v1M28 372v1M28 411v2M28 419v4M28 429v2M28 440v1M28 453v2M29 144v1M29 213v2M29 217v1M29 228v1M29 231v3M29 246v2M29 256v1M29 312v2M29 413v1M29 432v4M29 458v1M30 2v3M30 151v2M30 212v1M30 261v1M30 268v2M30 273v1M30 285v2M30 295v2M30 340v2M30 366v1M30 432v2M30 447v2M30 451v2M31 14v2M31 174v1M31 177v2M31 203v1M31 221v1M31 226v2M31 244v2M31 255v1M31 278v2M31 351v2M31 364v2M31 385v1M31 408v1M31 411v2M31 418v4M31 429v2M31 449v2M32 29v2M32 184v1M32 199v1M32 204v2M32 208v2M32 306v1M32 320v2M32 370v2M32 376v3M32 386v1M32 398v2M32 414v2M32 429v2M32 440v1M32 451v2M33 10v4M33 157v1M33 210v2M33 217v1M33 276v2M33 291v2M33 295v2M33 360v2M33 389v2M33 411v2M33 447v2M33 451v2M33 458v1M34 158v2M34 191v2M34 235v1M34 249v2M34 255v1M34 304v2M34 314v1M34 383v2M34 464v3M35 20v2M35 24v3M35 177v2M35 256v1M35 270v2M35 297v2M35 339v1M35 373v2M35 387v2M35 434v4M35 441v2M35 449v2M35 467v1M35 472v2M36 24v3M36 166v2M36 182v2M36 197v2M36 201v2M36 257v2M36 264v2M36 272v1M36 394v2M36 406v2M36 423v2M36 440v1M37 5v5M37 24v3M37 187v2M37 197v2M37 217v1M37 282v2M37 299v1M37 411v2M37 453v2M37 461v2M38 10v4M38 24v3M38 203v1M38 217v1M38 278v2M38 302v1M38 431v1M38 447v2M38 498v2M39 20v2M39 177v2M39 212v1M39 234v1M39 249v2M39 259v2M39 268v2M39 276v2M39 416v2M39 422v1M39 457v1M39 482v1M40 179v2M40 248v1M40 253v3M40 270v2M40 287v2M40 303v1M40 397v1M40 423v2M40 434v2M41 16v2M41 22v2M41 185v2M41 212v3M41 218v1M41 221v1M41 231v3M41 291v2M41 362v2M41 423v5M41 451v4M41 467v1M41 474v1M42 20v2M42 103v2M42 143v1M42 160v2M42 168v3M42 177v2M42 280v2M42 329v2M42 419v6M42 434v2M42 445v2M42 457v1M42 472v2M42 496v2M43 18v2M43 22v2M43 131v1M43 147v1M43 168v3M43 184v1M43 199v1M43 235v1M43 249v2M43 270v2M43 398v2M43 422v1M43 436v2M43 441v3M43 447v2M43 472v2M43 475v1M43 514v1M44 164v2M44 174v1M44 184v1M44 201v3M44 208v2M44 228v1M44 259v2M44 315v2M44 337v2M44 379v2M44 425v3M44 438v3M44 453v2M44 457v1M45 10v6M45 22v5M45 160v2M45 179v2M45 226v2M45 239v2M45 287v2M45 414v2M45 418v1M45 438v2M45 496v2M46 18v2M46 162v2M46 185v2M46 208v2M46 234v1M46 246v2M46 256v1M46 266v1M46 274v2M46 403v1M46 480v2M47 14v2M47 153v2M47 187v2M47 206v2M47 262v1M47 376v3M47 406v2M47 414v2M47 422v1M47 431v1M48 148v1M48 175v2M48 193v2M48 203v1M48 219v2M48 285v2M48 289v2M48 394v2M48 436v2M48 464v3M48 468v2M49 182v2M49 239v2M49 403v1M49 425v3M49 432v2M49 438v2M49 441v2M49 457v1M49 486v1M50 151v2M50 155v2M50 224v2M50 248v1M50 404v2M50 418v1M50 432v2M50 458v1M51 10v4M51 27v2M51 179v2M51 221v1M51 262v1M51 264v4M51 276v2M51 287v2M51 398v2M51 457v1M51 472v2M51 504v1M52 20v2M52 24v3M52 160v2M52 171v1M52 184v1M52 206v2M52 219v2M52 234v1M52 351v2M52 429v2M52 432v4M52 440v1M52 467v1M52 472v2M53 29v2M53 206v4M53 219v2M53 284v1M53 299v1M53 351v2M53 443v1M53 457v1M53 495v1M54 16v2M54 251v2M54 422v1M54 429v2M54 474v1M55 168v4M55 189v2M55 206v2M55 246v2M55 274v2M55 414v2M55 434v2M55 474v2M56 22v2M56 175v2M56 184v1M56 187v2M56 195v2M56 206v2M56 222v2M56 228v1M56 241v1M56 263v1M56 436v2M56 457v1M56 467v1M57 7v3M57 162v2M57 191v2M57 201v2M57 206v2M57 276v2M57 416v2M57 457v1M57 461v3M58 213v2M58 224v2M58 441v3M58 474v1M59 151v2M59 213v2M59 219v2M59 278v2M59 441v2M59 455v2M59 458v1M59 472v2M60 14v2M60 31v2M60 149v2M60 157v1M60 191v2M60 217v1M60 255v1M60 280v2M60 404v2M60 411v2M60 449v2M60 475v1M60 495v1M60 502v2M61 155v2M61 218v1M61 234v1M61 400v3M61 443v1M62 10v4M62 124v2M62 226v2M62 234v1M62 273v1M62 470v2M62 479v1M62 486v1M63 7v3M63 27v2M63 166v2M63 171v1M63 249v2M63 423v2M63 428v1M63 457v2M63 463v1M63 506v2"/>
<path stroke="#06ff24" d="M0 179v2M0 195v2M0 449v2M1 7v3M1 184v1M1 242v2M1 274v2M1 337v2M1 414v2M1 445v2M2 416v2M2 425v3M2 432v2M2 443v1M3 151v2M3 414v2M3 428v1M3 440v1M4 5v2M4 18v4M4 160v2M4 185v2M4 397v1M4 429v2M4 438v2M5 2v3M5 14v2M5 201v2M5 222v6M5 244v2M5 322v1M5 419v3M5 458v1M5 461v2M6 16v2M6 342v2M6 387v2M6 396v2M6 408v3M7 242v2M7 381v2M7 431v1M7 436v2M7 453v2M8 10v4M8 387v4M8 400v3M9 158v2M9 306v1M9 379v2M9 411v2M9 425v3M9 458v1M10 14v4M10 229v2M10 423v2M11 185v2M11 406v2M12 126v3M12 182v2M12 187v2M12 231v3M12 239v3M12 444v1M13 10v4M13 201v2M13 241v1M13 396v1M13 409v2M13 434v2M13 453v2M13 457v1M14 217v1M14 226v2M14 231v3M14 351v2M14 416v2M14 429v2M15 185v2M15 213v2M15 251v2M15 314v1M15 397v1M15 400v3M15 411v2M15 416v2M15 419v3M16 219v2M16 436v4M16 444v1M16 514v1M17 199v1M17 228v1M17 244v2M17 249v2M17 285v2M17 353v2M17 406v2M17 468v2M18 20v2M18 185v2M18 291v2M18 306v1M18 379v2M18 400v3M18 404v2M18 411v2M18 423v2M19 14v2M19 124v2M19 151v2M19 182v2M19 201v2M19 396v1M19 432v2M19 457v1M19 461v2M19 468v2M20 151v2M20 175v2M20 181v1M20 242v2M20 295v2M20 419v3M20 425v3M20 434v2M20 461v2M21 10v4M21 18v2M21 155v2M21 164v2M21 177v2M21 208v4M21 213v2M21 400v3M21 445v2M21 457v1M22 119v2M22 215v2M22 246v2M22 304v2M22 337v2M22 342v2M22 406v2M22 441v2M22 447v2M22 474v1M23 20v4M23 206v4M23 357v2M23 413v1M23 431v1M23 443v1M23 447v2M24 7v3M24 14v2M24 132v3M24 139v2M24 155v2M24 242v2M24 246v2M24 249v2M24 261v1M24 266v1M24 268v2M24 398v2M24 406v2M24 422v1M24 449v2M24 453v4M25 157v1M25 182v2M25 242v4M25 263v1M25 280v2M25 310v2M25 317v1M25 398v5M26 222v2M26 236v3M26 256v1M26 379v2M26 434v2M26 443v1M26 447v4M27 10v4M27 129v2M27 168v3M27 189v2M27 215v2M27 221v1M27 299v1M27 359v1M27 464v3M28 151v2M28 184v1M28 208v2M28 217v1M28 221v1M28 289v2M28 397v1M28 423v2M28 444v1M28 495v1M29 10v4M29 206v2M29 253v2M29 331v2M29 408v1M30 7v3M30 171v1M30 201v2M30 246v2M30 255v1M30 322v1M30 367v3M30 385v2M30 398v2M30 411v2M30 419v3M30 423v2M30 429v2M30 441v2M30 455v2M31 218v1M31 251v2M31 304v2M31 318v2M31 394v2M31 397v1M31 425v3M31 445v2M31 470v2M32 10v4M32 18v2M32 24v3M32 147v1M32 181v1M32 206v2M32 246v2M32 349v2M32 379v2M32 392v2M32 416v2M32 428v1M32 436v2M32 447v2M32 472v2M32 480v2M33 320v2M33 326v1M33 385v1M33 406v2M33 423v2M33 443v1M33 449v2M33 457v1M33 496v2M34 16v2M34 174v1M34 213v2M34 218v1M34 224v4M34 239v2M34 340v2M34 408v1M34 418v1M35 18v2M35 27v2M35 200v3M35 212v3M35 217v1M35 231v3M35 431v1M35 440v1M35 443v1M35 451v2M36 16v2M36 121v2M36 175v2M36 204v2M36 213v2M36 400v3M36 416v2M36 428v1M36 434v2M36 445v2M36 449v2M36 463v1M36 490v3M37 14v2M37 18v4M37 181v1M37 200v1M37 234v1M37 278v2M37 381v2M37 389v2M37 409v2M37 422v1M37 425v3M37 434v2M37 455v2M38 197v2M38 218v1M38 235v1M38 239v2M38 255v1M38 284v1M38 414v2M38 419v3M38 425v3M38 441v2M38 468v2M39 10v4M39 147v1M39 208v2M39 213v2M39 310v2M39 344v2M39 413v1M39 431v1M40 24v3M40 229v2M40 241v1M40 404v2M40 441v2M40 509v1M41 10v4M41 158v2M41 200v1M41 287v2M41 370v2M41 414v2M41 429v3M41 436v2M41 441v2M41 447v2M42 14v2M42 226v2M42 244v2M42 256v1M42 414v2M42 461v2M42 498v2M43 193v2M43 255v1M43 263v1M43 451v2M44 16v2M44 204v2M44 229v2M44 451v2M45 182v2M45 195v2M45 249v2M45 256v1M45 270v2M45 392v2M45 404v2M45 444v1M45 457v1M46 206v2M46 239v2M46 264v2M46 287v2M46 340v2M46 455v2M46 458v1M47 22v2M47 171v1M47 222v2M47 236v3M47 270v2M47 370v2M47 409v2M47 449v2M47 457v6M47 487v2M48 2v3M48 14v2M48 208v2M48 221v1M48 268v2M48 441v2M48 447v2M48 451v4M48 457v1M48 463v1M49 10v6M49 18v2M49 151v2M49 181v1M49 185v2M49 257v2M49 459v2M50 208v2M50 215v2M50 226v2M50 242v2M50 278v2M50 309v1M50 392v2M50 441v2M51 177v2M51 255v1M51 423v2M51 447v2M52 22v2M52 157v1M52 212v1M52 215v2M52 239v2M52 246v2M52 389v2M52 431v1M52 461v2M52 464v3M52 537v3M53 268v2M53 419v3M53 432v2M53 438v2M53 441v2M53 486v1M54 160v2M54 440v1M54 443v1M54 459v2M54 489v1M54 496v2M55 307v2M55 416v2M55 432v2M55 440v3M55 451v4M55 461v2M56 151v2M56 274v2M56 306v1M56 403v1M56 441v3M56 455v2M56 461v2M56 464v3M56 489v1M57 5v2M57 217v1M57 418v1M57 447v2M58 14v2M58 278v2M58 434v2M58 504v1M59 418v1M59 443v1M59 457v1M59 464v3M59 520v2M60 20v2M60 285v2M60 394v2M60 447v2M60 464v3M60 487v2M60 505v1M61 24v3M61 212v1M61 215v3M61 229v2M61 262v2M61 310v2M61 455v2M61 467v1M62 451v2M62 459v2M62 474v1M62 490v3M62 522v2M63 2v5M63 221v1M63 234v1M63 455v2M63 495v1"/>
<path stroke="#00ff4f" d="M0 168v3M0 389v2M0 409v2M0 461v2M1 212v1M1 413v1M1 428v1M1 444v1M2 400v3M2 438v2M2 451v2M2 489v1M3 5v2M3 14v2M3 85v2M3 160v2M3 175v2M3 193v2M3 310v2M3 416v2M3 423v2M3 449v2M3 489v4M4 229v2M4 249v4M4 431v1M4 434v2M4 440v1M4 453v2M4 457v1M5 278v2M5 376v5M5 423v2M5 429v3M6 31v2M6 406v2M6 429v2M6 449v2M6 470v2M7 184v1M7 263v1M7 414v2M7 434v2M7 443v1M7 490v3M8 193v2M8 263v1M8 272v1M8 278v2M8 397v1M8 408v1M8 423v2M8 455v2M8 458v1M9 18v2M9 418v1M9 441v2M9 444v1M9 479v1M9 486v1M10 208v2M10 273v1M10 309v1M10 416v2M10 429v2M10 443v1M10 449v2M10 500v2M11 7v3M11 22v2M11 157v1M11 221v1M11 413v1M11 423v2M11 432v2M12 219v2M12 398v2M12 406v2M12 431v3M12 445v2M12 453v2M12 458v1M13 206v2M13 213v2M13 414v2M13 419v3M13 428v3M14 10v4M14 20v2M14 24v3M14 174v1M14 267v1M14 428v1M14 444v1M14 457v1M15 18v2M15 153v2M15 199v1M15 287v2M15 303v1M15 406v2M15 441v2M15 459v4M15 468v2M16 22v2M16 199v1M16 241v1M16 367v3M16 413v1M16 416v2M16 432v2M17 110v2M17 210v2M17 251v2M17 373v2M17 472v2M17 500v2M18 195v2M18 222v2M18 385v1M18 422v1M18 474v1M19 210v2M19 241v1M19 261v1M19 272v1M19 423v5M19 444v1M20 185v2M20 204v2M20 246v2M20 411v2M20 429v2M20 444v1M20 459v2M21 199v1M21 201v2M21 267v1M21 444v1M22 16v2M22 160v2M22 185v2M22 210v2M22 244v2M22 291v2M22 312v2M22 418v1M22 440v1M23 16v2M23 244v2M23 257v2M23 453v2M23 458v1M24 10v4M24 197v3M24 215v2M24 235v1M24 389v2M24 409v2M24 423v2M24 440v1M24 518v2M25 234v1M25 278v2M25 320v2M25 411v2M26 242v2M26 259v2M26 324v2M26 404v2M26 429v3M26 453v2M26 461v2M27 203v1M27 222v2M27 248v1M27 386v1M28 136v3M28 210v2M28 215v2M28 276v2M28 396v1M28 414v2M28 428v1M28 432v2M28 436v2M28 496v2M29 18v2M29 148v1M29 174v1M29 197v2M29 264v2M29 379v2M29 400v3M29 472v2M30 278v2M30 396v1M30 440v1M30 445v2M30 449v2M30 453v2M30 457v2M31 10v4M31 16v4M31 185v2M31 239v2M31 261v1M31 293v2M31 409v2M31 434v2M31 438v2M31 463v1M32 7v3M32 158v2M32 218v1M32 234v2M32 353v2M32 394v2M32 409v2M32 432v2M32 479v1M33 162v2M33 203v1M33 213v2M33 242v2M33 303v1M33 383v2M33 414v2M33 428v1M33 432v2M33 440v1M33 509v1M34 160v2M34 172v2M34 203v1M34 234v1M34 253v2M34 406v2M34 409v2M34 431v1M34 434v2M35 10v4M35 149v2M35 182v2M35 226v2M35 295v2M35 304v2M35 406v2M35 447v2M35 458v1M35 476v3M36 7v3M36 306v1M36 443v1M36 461v2M36 464v3M36 515v2M37 213v2M37 244v2M37 266v1M37 315v2M37 419v3M37 423v2M37 440v1M37 459v2M37 482v1M38 16v2M38 160v2M38 208v2M38 212v1M38 396v1M38 440v1M38 455v2M38 472v2M39 14v2M39 179v2M39 199v1M39 218v1M39 370v2M39 440v1M39 447v2M39 468v4M39 504v1M40 22v2M40 160v2M40 210v2M40 443v1M40 453v2M40 463v1M40 515v2M41 5v2M41 228v1M41 257v2M41 440v1M41 464v3M41 475v1M42 22v2M42 206v2M42 215v2M42 441v2M43 213v2M43 280v2M43 322v1M43 408v1M43 428v1M43 440v1M43 458v1M43 470v2M43 476v3M44 5v2M44 14v2M44 18v2M44 151v2M44 200v1M44 213v2M44 333v1M44 404v2M44 432v2M44 449v2M44 455v2M44 463v1M44 508v1M45 241v1M45 422v1M45 459v2M45 467v1M46 392v2M46 438v2M46 464v3M47 7v3M47 210v2M47 239v2M47 256v1M47 355v2M47 428v1M47 441v2M47 470v2M47 475v1M47 479v1M48 27v2M48 242v2M48 248v1M48 438v2M48 443v1M48 495v1M49 5v2M49 22v2M49 217v1M49 228v1M49 241v1M49 289v2M49 394v2M49 436v2M49 453v2M49 490v3M50 2v3M50 24v3M50 177v2M50 184v1M50 259v2M50 411v2M50 438v2M50 443v1M50 470v2M50 490v3M51 14v2M51 218v1M51 432v2M51 467v1M51 474v1M51 511v3M52 16v4M52 270v2M52 273v1M52 443v2M52 463v1M52 496v2M52 533v2M53 0v2M53 20v2M53 191v2M53 218v1M53 221v1M53 231v3M53 431v1M53 455v2M53 474v1M53 490v3M53 500v2M54 197v2M54 221v1M54 272v1M54 436v2M54 449v2M54 508v1M55 7v3M55 182v2M55 251v2M55 418v1M55 480v2M56 16v2M56 27v2M56 157v1M56 213v2M56 244v2M56 261v1M56 428v1M56 468v2M56 500v2M57 241v1M57 453v2M57 493v2M58 195v2M58 226v2M58 235v1M58 444v1M58 464v3M58 472v2M59 20v2M59 27v2M59 149v2M59 239v2M60 18v2M60 208v2M60 428v1M60 445v2M60 457v1M61 7v3M61 16v2M61 419v3M61 459v4M61 472v2M61 476v3M62 18v2M62 468v2M62 489v1M62 496v2M63 22v2M63 246v2M63 459v2M63 467v1M63 486v1M63 505v1"/>
<path stroke="#00ff74" d="M0 14v2M0 18v2M0 193v2M0 327v2M0 396v1M0 425v3M0 429v3M0 441v2M0 444v1M1 440v1M1 458v1M2 20v2M2 411v2M2 414v2M2 455v2M3 392v2M3 464v3M3 482v1M4 16v2M4 22v2M4 181v1M4 403v1M4 445v2M4 449v2M4 483v3M4 508v1M5 218v1M5 249v2M5 302v1M5 391v1M5 428v1M5 453v2M6 22v2M6 206v2M6 440v1M6 474v2M7 408v1M7 411v2M8 20v2M8 217v1M8 438v3M8 451v4M8 495v1M9 2v3M9 14v2M9 261v1M9 404v2M9 447v2M9 453v2M10 5v2M10 413v1M10 422v1M10 425v3M11 131v1M11 242v2M11 419v3M11 425v3M12 7v3M12 14v2M12 418v1M12 423v2M12 428v3M12 436v2M13 14v2M13 418v1M13 444v3M14 2v3M14 241v1M14 406v2M14 441v2M14 447v2M14 451v2M14 480v2M15 208v2M15 218v1M15 234v1M15 392v2M15 414v2M15 429v2M15 444v1M15 458v1M16 5v2M16 16v2M16 386v1M16 425v3M16 434v2M16 443v1M17 14v2M17 224v2M17 280v2M17 422v1M17 425v3M17 443v1M17 455v2M18 441v2M19 10v4M19 419v3M19 436v4M19 441v2M19 445v2M20 18v2M20 293v2M20 428v1M20 441v2M20 449v2M21 7v3M21 185v2M21 422v1M21 431v1M21 436v2M21 440v1M21 455v2M22 262v1M22 300v2M22 326v1M22 334v2M22 413v1M22 445v2M22 449v4M23 5v5M23 263v1M23 425v3M23 444v1M23 449v2M23 490v3M24 329v2M24 386v1M24 418v1M24 431v1M24 438v2M24 458v1M24 498v2M24 509v1M25 221v1M25 333v1M25 404v2M25 416v2M25 419v3M25 464v3M25 482v1M26 16v2M26 235v1M26 408v1M26 422v1M26 425v4M26 436v2M26 445v2M26 455v4M26 486v1M27 14v2M27 27v2M27 274v2M27 373v2M27 425v3M27 436v2M27 447v2M27 457v1M27 463v1M27 493v2M28 248v1M28 273v1M28 434v2M29 14v2M29 218v1M29 248v1M29 349v2M29 385v1M29 411v2M29 431v1M29 441v2M30 242v2M30 336v1M30 418v1M30 425v3M30 461v2M30 467v1M30 476v3M30 486v1M31 187v2M31 229v2M31 284v1M31 353v2M31 431v1M31 451v2M31 461v2M31 464v3M31 505v1M32 217v1M32 259v2M32 333v1M32 458v3M32 470v2M32 500v2M33 5v2M33 20v2M33 268v2M33 425v3M33 455v2M33 459v2M34 10v4M34 197v2M34 200v1M34 429v2M34 440v4M34 463v1M34 474v1M34 480v2M35 16v2M35 409v2M35 438v2M35 453v2M35 515v2M36 10v4M36 239v2M36 270v2M36 422v1M37 256v1M37 441v3M37 464v4M37 505v1M38 201v2M38 229v2M38 249v2M38 432v2M38 438v2M38 458v1M38 461v2M39 5v2M39 157v1M39 182v2M39 429v2M39 438v2M39 444v3M39 451v2M39 459v8M40 7v3M40 278v2M40 438v2M40 449v2M40 464v3M40 470v2M40 480v2M40 489v1M41 20v2M41 419v3M41 443v1M41 459v2M41 483v3M42 10v4M42 175v2M42 289v2M42 385v1M42 428v1M42 443v1M42 453v2M42 467v1M42 479v1M43 244v2M43 409v2M43 467v1M44 226v2M44 262v1M44 476v4M45 7v3M45 272v1M45 440v1M45 453v2M45 464v3M45 468v6M45 504v1M46 5v2M46 226v2M46 259v2M46 295v2M46 307v2M46 416v2M46 447v8M46 472v2M47 425v3M47 443v2M47 472v2M47 508v1M48 259v2M48 422v1M48 434v2M48 467v1M48 479v1M48 487v2M49 24v3M49 443v2M49 458v1M50 18v2M50 182v2M50 455v2M50 459v2M50 486v1M51 236v3M51 438v2M51 496v2M52 436v2M52 441v2M52 515v2M53 18v2M53 189v2M53 256v1M53 379v2M53 408v1M53 453v2M53 463v1M53 476v3M53 487v2M53 518v2M54 213v4M54 451v2M54 457v1M54 463v1M54 470v2M55 482v1M56 139v2M56 181v1M56 447v2M56 486v1M56 510v1M57 193v2M57 222v2M57 302v1M57 436v2M57 458v1M57 467v1M57 476v3M57 486v1M58 24v3M58 206v2M58 453v2M58 467v3M58 475v1M59 10v4M59 217v1M59 226v2M59 440v1M59 470v2M59 493v2M59 498v2M60 0v2M60 10v4M60 16v2M60 182v2M60 307v2M60 467v1M60 476v3M61 14v2M61 451v4M61 457v1M61 463v1M61 468v2M61 487v2M61 496v2M62 228v1M62 236v3M62 463v1M62 475v1M62 483v3M63 16v4M63 226v2M63 472v2M63 475v1M63 480v2"/>
<path stroke="#00ff9b" d="M0 422v1M0 447v2M0 486v1M0 505v1M1 16v2M1 416v2M1 419v3M1 453v2M1 461v2M1 495v1M2 204v2M2 234v1M2 413v1M2 419v3M2 429v3M2 458v1M2 483v3M2 487v2M2 496v2M3 7v3M3 391v1M3 419v3M3 441v2M4 7v3M4 155v2M4 218v1M4 419v3M4 443v2M4 455v2M4 463v1M5 10v4M5 236v3M5 409v2M5 413v1M5 434v2M5 467v1M5 470v2M6 18v2M6 445v4M6 459v2M6 467v1M7 179v2M7 428v1M7 472v2M8 2v3M8 386v1M8 459v2M8 463v1M9 201v2M9 419v3M9 432v2M9 440v1M9 459v2M9 508v1M10 18v2M10 179v2M10 278v2M10 326v1M10 419v3M10 441v2M10 451v2M10 474v1M10 486v1M11 416v2M11 434v2M11 451v2M11 457v1M11 461v2M11 472v2M12 2v3M12 404v2M12 451v2M12 457v1M12 483v3M13 20v2M13 172v2M13 182v2M13 458v1M13 474v1M13 482v1M14 157v1M14 419v4M14 431v1M14 453v2M14 459v4M14 472v2M15 440v1M15 449v2M15 463v1M15 475v1M15 483v4M16 14v2M16 157v1M16 177v2M16 431v1M16 457v1M16 474v1M16 500v2M17 5v2M17 168v3M17 179v2M17 436v2M17 444v1M17 447v4M17 475v1M17 486v1M18 5v2M18 431v1M18 468v2M18 489v1M19 2v3M19 409v2M19 431v1M19 440v1M19 464v3M20 2v3M20 10v4M20 404v2M20 431v1M20 440v1M20 447v2M20 468v2M21 443v1M21 459v4M21 468v2M21 474v1M22 10v4M22 177v2M22 257v2M22 425v3M22 479v1M22 505v1M23 2v3M23 215v2M23 366v1M23 397v1M23 414v2M23 428v1M23 464v3M24 149v2M24 459v2M25 10v4M25 213v2M25 235v1M25 324v2M25 397v1M25 486v1M26 261v1M26 416v2M26 451v2M26 464v3M26 475v1M27 0v2M27 276v2M27 431v1M27 441v3M27 445v2M27 461v2M27 475v1M27 486v3M28 246v2M28 251v2M28 441v2M28 455v2M28 474v1M28 520v2M29 0v2M29 181v1M29 189v2M29 234v1M29 416v2M29 428v1M29 440v1M29 447v2M29 463v1M29 467v1M29 476v3M29 482v1M30 5v2M30 422v1M30 428v1M30 438v2M30 487v2M30 495v1M31 7v3M31 386v1M31 428v1M31 458v1M31 467v1M32 444v1M32 455v2M32 463v1M32 486v1M32 514v1M33 461v2M34 0v2M34 280v2M34 422v3M34 447v2M34 458v1M34 487v2M34 493v2M35 7v3M35 14v2M35 428v1M35 505v1M36 444v1M36 479v3M36 495v1M37 179v2M37 449v4M37 498v2M38 0v2M38 206v2M38 219v2M38 236v3M38 467v1M38 537v3M39 16v2M39 432v2M39 476v4M39 496v2M40 474v1M40 482v1M40 496v2M41 272v1M41 284v1M41 438v2M41 468v2M41 489v1M42 262v1M42 451v2M42 455v2M42 464v3M42 470v2M42 475v1M42 483v3M43 14v2M43 453v2M43 482v1M43 505v1M44 10v4M44 20v2M44 33v1M44 246v2M44 253v2M44 447v2M44 474v1M45 5v2M45 449v2M45 487v2M45 515v2M46 7v3M46 263v1M46 411v2M46 482v4M47 438v2M47 490v5M47 496v2M48 16v2M48 255v1M48 472v2M48 490v3M48 506v2M49 431v1M49 445v2M49 463v1M49 468v2M49 479v1M49 500v2M49 509v1M50 14v2M50 468v2M50 475v1M50 479v3M50 493v2M51 449v2M51 453v2M51 479v1M51 482v1M52 7v3M52 14v2M52 309v1M52 487v2M53 7v3M53 440v1M53 451v2M53 483v3M53 522v2M54 206v2M54 438v2M54 464v4M54 476v3M54 480v2M55 306v1M55 428v1M55 490v3M56 18v4M56 231v3M56 453v2M56 470v2M56 475v4M56 480v2M56 483v3M56 487v2M56 504v1M56 524v2M57 22v2M57 475v1M57 480v2M58 461v2M58 495v3M58 509v1M59 432v2M59 474v1M59 483v3M60 7v3M60 459v2M60 498v4M61 174v1M61 259v2M61 470v2M61 475v1M61 506v2M61 509v1M62 467v1M62 493v3M63 14v2M63 263v1M63 445v2M63 464v3M63 489v1M63 502v3"/>
<path stroke="#00ffc6" d="M0 398v2M0 418v1M0 434v2M0 438v3M0 468v2M1 5v2M1 432v2M1 457v1M1 480v2M2 177v2M2 434v4M2 463v1M3 397v1M3 418v1M3 429v3M3 447v2M3 459v2M3 493v2M4 459v2M4 468v2M4 480v2M5 16v2M5 436v2M5 444v1M5 455v2M5 515v2M6 463v1M6 490v3M7 5v9M7 422v1M7 449v2M7 463v4M7 468v2M7 474v1M8 416v2M8 447v2M8 505v3M9 7v3M9 445v2M10 10v4M10 276v2M10 436v4M10 458v1M10 461v2M10 483v3M11 10v4M11 168v3M11 400v3M11 418v1M11 445v2M11 480v2M12 459v2M12 464v3M12 470v2M12 508v1M13 436v2M13 440v1M13 475v1M13 489v1M14 14v2M14 486v3M14 505v1M15 451v6M15 480v3M15 489v1M16 408v1M16 440v3M16 451v2M16 490v3M17 10v4M17 218v1M17 397v1M17 432v2M17 461v2M17 474v1M17 476v3M17 544v2M18 7v9M18 425v3M18 432v2M18 451v4M18 459v2M18 464v3M18 496v2M19 451v2M19 486v1M20 451v4M20 458v1M20 463v4M21 480v2M22 14v2M23 242v2M23 419v3M23 429v2M23 502v2M23 505v1M24 175v2M24 428v1M24 445v2M24 468v2M24 495v1M24 522v2M25 14v2M25 431v1M25 441v2M25 444v1M25 467v1M25 475v1M25 508v1M26 234v1M26 438v2M26 487v2M27 204v2M27 438v2M27 449v2M27 479v1M28 234v1M28 282v2M28 449v2M28 459v2M28 463v1M28 467v1M29 16v2M29 137v2M29 418v1M29 443v2M29 474v1M30 206v2M30 226v2M30 443v1M30 459v2M30 463v1M30 474v1M30 479v1M30 544v2M31 274v2M31 457v1M31 515v2M32 476v3M33 14v2M33 253v2M33 470v2M33 474v1M33 479v1M33 493v2M34 7v3M34 20v2M34 449v2M34 468v2M35 418v1M35 455v2M35 463v4M35 479v1M36 5v2M36 447v2M36 467v1M36 472v3M37 2v3M37 457v2M37 463v1M37 472v2M38 14v2M38 451v2M38 457v1M38 463v1M38 470v2M38 475v1M39 480v2M39 490v3M39 510v1M40 18v2M40 431v1M40 487v2M40 498v2M41 226v2M41 457v1M41 463v1M41 482v1M42 7v3M42 16v2M42 182v2M42 203v1M42 447v2M42 476v3M42 510v1M42 533v2M43 239v2M43 438v2M43 496v2M43 508v1M43 517v1M44 441v2M44 459v2M44 486v1M44 489v1M45 199v1M45 461v2M45 476v4M45 486v1M45 490v5M46 253v2M46 444v1M46 459v5M46 504v1M47 18v2M47 419v3M47 453v2M48 5v2M48 418v1M48 475v4M48 496v2M48 535v2M49 447v2M49 493v2M49 514v1M50 199v1M50 489v1M51 203v1M51 451v2M51 495v1M52 0v2M52 10v4M52 493v2M52 498v2M52 531v2M52 544v2M53 445v2M53 464v3M53 470v4M53 479v1M53 504v1M54 7v3M54 14v2M54 416v2M54 453v2M54 475v1M54 498v4M54 520v2M54 537v3M55 5v2M55 447v2M55 479v1M55 498v2M55 518v2M56 10v4M56 479v1M56 498v2M56 509v1M57 2v3M57 10v4M57 449v2M57 515v2M58 7v3M58 18v2M58 449v4M58 463v1M58 508v1M59 7v3M59 487v2M59 490v3M59 518v2M60 470v2M60 496v2M60 524v2M60 540v2M61 490v3M61 515v2M61 522v2M61 537v3M62 472v2M63 441v2M63 476v3"/>
<path stroke="#00f9f3" d="M0 411v2M0 445v2M0 451v2M0 472v2M0 504v1M1 2v3M1 425v3M1 431v1M1 434v2M1 451v2M1 463v1M2 10v4M2 418v1M2 467v1M2 476v3M3 436v2M3 461v2M3 467v1M3 474v1M3 479v1M3 504v1M4 447v2M4 467v1M4 470v2M4 520v2M5 447v4M6 14v2M6 428v1M6 434v2M6 441v2M6 444v1M6 451v2M6 502v2M7 458v1M7 475v1M8 411v2M8 443v1M9 472v2M9 526v1M10 0v2M10 457v1M10 467v1M10 470v2M10 526v1M11 429v2M11 441v2M11 487v2M11 490v3M12 455v2M12 474v1M12 490v3M13 7v3M13 425v3M13 449v2M13 459v2M13 500v2M14 425v3M14 455v2M14 464v3M15 7v3M15 418v1M15 474v1M15 476v3M16 264v2M16 458v1M16 461v2M16 510v1M16 542v2M17 479v1M17 487v2M18 445v4M18 487v2M18 515v2M19 0v2M19 510v1M20 7v3M20 16v2M20 443v1M20 467v1M20 472v2M20 495v1M20 508v1M21 432v2M22 2v5M22 428v1M22 464v3M22 486v1M22 500v2M22 531v2M23 432v2M23 440v3M23 457v1M23 459v2M23 480v2M24 443v1M24 457v1M24 475v1M24 487v2M25 428v1M25 443v1M25 445v2M25 461v3M25 493v2M26 2v3M26 419v3M26 470v2M27 474v1M27 496v2M28 0v2M28 22v2M28 475v1M29 5v5M29 438v2M29 506v2M30 475v1M31 248v1M31 443v1M31 479v1M31 483v3M32 5v2M32 210v2M32 449v2M32 496v4M32 530v1M33 453v2M33 475v1M33 480v3M34 5v2M34 14v2M34 455v2M34 467v1M34 500v2M34 531v2M35 432v2M35 457v1M35 470v2M35 489v1M35 504v1M36 14v2M36 414v2M36 455v2M36 470v2M36 493v2M36 498v2M37 10v4M37 431v1M37 470v2M37 495v3M38 2v3M38 449v2M38 453v2M38 464v3M39 18v2M39 441v2M39 475v1M40 2v5M40 455v2M40 468v2M41 455v2M41 458v1M41 461v2M41 476v4M41 490v3M41 520v2M42 468v2M42 486v1M42 490v3M42 508v1M43 7v3M43 16v2M43 182v2M43 455v3M43 474v1M43 495v1M43 531v2M43 540v2M44 482v1M44 487v2M44 500v2M45 212v1M45 231v3M45 463v1M45 482v1M46 486v1M46 500v2M46 508v2M46 531v2M47 440v1M47 455v2M47 482v1M47 489v1M47 498v2M47 515v2M47 520v2M48 504v1M48 509v1M49 440v1M49 455v2M49 474v2M49 480v3M50 5v5M50 467v1M50 495v5M50 517v1M51 455v2M51 490v3M51 506v2M51 510v1M51 526v1M52 451v6M52 479v1M52 482v4M52 500v2M52 506v2M52 526v1M53 14v2M53 213v2M53 291v2M53 475v1M53 498v2M53 510v1M53 515v2M54 455v2M54 479v1M54 509v1M54 514v1M55 489v1M55 506v2M55 510v1M56 7v3M56 472v3M56 544v2M57 474v1M57 487v2M57 498v4M57 514v1M57 522v2M58 10v4M58 455v2M58 489v1M58 498v2M58 510v1M58 515v2M59 505v1M60 193v2M60 453v2M60 490v5M60 509v1M60 518v2M61 5v2M61 10v4M61 520v2M61 531v2M61 546v2M62 0v2M62 498v2M62 502v2M62 535v2M62 546v5M63 482v1M63 493v2M63 498v2M63 515v2M63 555v1"/>
<path stroke="#00d7ff" d="M0 443v1M0 453v2M0 495v1M1 455v2M1 472v2M1 489v1M2 5v2M2 468v2M2 482v1M2 490v3M2 498v2M2 514v1M3 443v1M3 453v2M3 463v1M3 468v2M3 486v1M3 506v2M4 2v3M4 436v2M4 458v1M4 472v2M4 479v1M5 468v2M5 489v1M5 498v2M6 5v2M6 455v2M6 486v3M6 500v2M7 444v1M7 455v2M7 459v2M7 479v1M7 510v1M8 431v1M8 436v2M8 444v3M8 457v1M8 470v2M8 476v4M9 461v3M9 470v2M9 514v1M9 524v2M10 177v2M10 514v3M11 2v3M11 447v2M11 467v1M11 482v1M11 500v2M12 438v5M12 467v1M12 472v2M12 500v2M12 531v2M13 2v3M13 443v1M13 461v2M13 467v3M14 436v2M14 440v1M14 445v2M14 467v1M14 518v2M15 408v1M15 431v1M15 438v2M16 459v2M16 468v2M16 479v1M16 502v3M16 515v2M17 451v4M17 458v1M17 495v1M17 515v2M18 467v1M18 476v3M18 509v1M18 511v3M19 7v3M19 414v2M19 434v2M19 447v2M19 463v1M19 467v1M19 498v2M20 5v2M21 5v2M21 470v2M21 475v1M21 479v1M21 486v1M21 493v2M21 496v2M21 524v2M22 444v1M22 461v2M22 476v3M22 490v3M22 509v2M23 438v2M23 467v1M23 474v2M24 441v2M24 461v2M24 515v2M25 7v3M25 432v2M25 472v3M25 498v2M25 502v2M25 506v2M26 0v2M26 440v1M26 467v1M26 493v3M27 440v1M27 453v2M27 459v2M28 7v7M28 458v1M28 482v1M28 490v3M28 500v2M28 509v1M29 453v2M29 457v1M29 510v1M29 544v2M30 480v2M31 486v1M31 506v2M31 520v2M32 14v2M32 461v2M32 506v2M32 524v2M33 182v2M33 468v2M33 487v3M33 504v2M33 560v3M34 457v1M34 486v1M35 5v2M35 444v1M35 474v1M36 453v2M36 457v1M37 486v1M37 500v2M38 5v5M38 434v2M38 479v1M38 482v4M38 496v2M39 474v1M39 486v1M39 511v3M40 428v1M40 458v3M40 475v4M40 508v1M40 510v4M41 398v2M41 472v2M41 486v3M41 508v2M42 487v2M42 502v2M42 531v2M43 2v5M43 449v2M43 489v1M44 7v3M44 434v2M44 468v2M44 472v2M45 451v2M45 475v1M45 530v1M46 470v2M46 479v1M46 487v2M46 490v3M46 520v2M47 0v2M47 483v4M47 495v1M47 518v2M48 10v4M48 461v2M48 470v2M48 522v2M49 7v3M49 464v3M49 472v2M49 527v3M49 531v2M49 555v1M50 239v2M50 487v2M50 514v1M51 445v2M51 475v1M51 489v1M51 520v2M51 524v2M52 468v2M52 475v4M52 495v1M52 502v2M52 524v2M52 546v2M53 10v4M53 461v2M53 546v2M54 468v2M54 490v5M54 518v2M54 522v2M55 14v2M55 472v2M55 476v3M55 483v3M55 487v2M55 517v1M56 495v1M56 508v1M56 520v2M57 455v2M57 468v2M57 483v3M58 482v1M58 490v5M59 14v4M59 461v2M59 479v3M59 486v1M59 502v3M59 522v2M60 486v1M60 489v1M60 508v1M60 546v2M61 486v1M61 493v3M62 458v1M62 482v1M62 509v1M62 515v5M62 556v2M63 479v1M63 510v1M63 517v1M63 522v2"/>
<path stroke="#00b4ff" d="M0 467v1M0 483v3M0 518v2M0 524v2M1 0v2M1 429v2M1 438v2M1 441v3M1 476v3M1 496v2M2 2v3M2 444v1M2 447v2M2 486v1M2 493v2M3 422v1M3 470v2M4 482v1M4 505v1M5 457v1M5 464v3M5 476v3M5 480v2M5 506v3M5 522v2M6 432v2M6 464v3M7 467v1M8 396v1M8 449v2M8 486v1M8 490v3M9 5v2M9 436v4M9 449v2M9 467v1M9 475v1M9 482v1M9 487v2M9 490v3M10 2v3M10 431v1M10 444v3M10 468v2M10 476v3M10 493v2M11 438v2M11 468v2M11 474v1M12 0v2M12 443v1M12 447v4M12 475v1M12 482v1M13 447v2M13 505v1M14 5v2M14 443v1M14 493v3M14 504v1M15 404v2M15 496v2M15 504v1M15 524v2M16 7v7M16 445v2M16 483v3M16 495v1M16 511v3M16 517v1M17 490v3M17 517v1M17 524v2M18 2v3M18 444v1M18 449v2M18 482v1M18 486v1M19 483v3M19 495v1M20 436v4M20 457v1M20 476v3M21 434v2M21 458v1M21 463v1M21 483v3M21 515v2M22 7v3M22 436v2M22 443v1M22 459v2M22 468v4M22 480v2M22 517v1M22 522v2M23 0v2M23 445v2M23 451v2M23 461v2M23 468v2M23 486v1M23 489v1M23 500v2M24 0v2M24 463v1M24 482v1M24 505v1M24 514v1M25 2v3M25 449v2M25 504v1M26 441v2M26 459v2M26 472v2M26 482v1M26 504v1M26 533v2M27 16v2M27 483v3M27 500v2M28 5v2M28 464v3M28 468v2M28 476v3M28 486v1M29 425v3M29 451v2M29 475v1M29 493v2M29 500v2M30 197v2M30 470v2M30 482v1M31 441v2M31 472v2M31 487v2M31 490v3M31 509v1M31 533v2M32 438v2M32 457v1M32 464v3M33 436v2M33 463v1M33 467v1M33 472v2M33 483v3M34 472v2M34 496v2M34 515v2M35 468v2M35 487v2M35 514v1M36 500v2M36 508v1M36 535v2M37 475v1M37 490v3M37 546v2M38 459v2M38 476v3M38 495v1M38 510v1M39 2v3M39 458v1M39 487v2M39 495v1M39 514v1M39 560v3M40 14v2M40 447v2M40 467v1M40 483v3M40 506v2M40 526v1M41 546v2M42 436v2M42 440v1M42 459v2M42 463v1M42 474v1M42 495v1M43 468v2M43 480v2M43 544v2M44 458v1M44 490v3M45 474v1M45 510v1M45 514v1M45 520v2M46 457v1M46 468v2M46 495v1M46 498v2M46 517v1M47 5v2M47 467v1M47 480v2M47 530v1M48 264v2M48 474v1M48 480v2M48 527v3M48 555v1M49 502v2M49 520v2M50 504v1M50 515v2M50 524v2M50 527v3M51 2v3M51 7v3M51 458v1M51 470v2M51 498v6M51 522v2M51 540v2M51 553v2M53 467v1M53 514v1M54 5v2M54 487v2M54 502v2M55 10v4M55 464v3M56 496v2M56 505v1M56 531v2M56 542v2M56 548v3M57 445v2M57 502v2M57 511v3M57 517v1M57 520v2M57 542v2M57 551v2M58 486v1M58 500v2M58 506v2M58 526v1M58 533v2M59 5v2M59 475v1M59 489v1M59 558v2M60 472v2M60 482v1M60 511v3M60 515v2M60 522v2M60 530v1M61 479v3M61 517v1M62 508v1M62 520v2M62 524v3M63 470v2M63 487v2"/>
<path stroke="#0090ff" d="M0 7v3M0 498v2M1 475v1M1 487v2M1 493v2M2 445v2M2 504v1M3 451v2M3 457v1M3 472v2M3 520v2M4 461v2M5 474v2M5 514v1M5 531v2M6 472v2M6 496v2M7 0v2M7 511v3M7 531v2M8 472v2M9 480v2M10 7v3M10 480v3M10 496v4M11 16v2M11 489v1M11 518v2M12 434v2M12 476v3M12 480v2M12 496v2M12 504v1M12 509v1M13 5v2M13 441v2M13 472v2M13 495v1M14 468v4M14 479v1M14 482v1M14 524v2M14 535v2M15 432v2M15 457v1M15 464v3M15 470v2M15 495v1M15 514v1M16 449v2M16 463v1M16 467v1M16 470v2M16 480v2M16 489v1M16 493v2M16 498v2M16 508v1M17 441v2M17 459v2M17 463v4M17 480v2M17 493v2M17 496v2M17 526v1M18 0v2M18 470v4M18 502v3M19 458v3M19 472v2M19 487v2M20 475v1M20 493v2M20 505v1M20 509v1M20 517v1M21 441v2M22 457v1M22 467v1M22 483v3M22 495v1M23 483v3M23 496v2M23 506v2M23 511v3M24 451v2M24 479v1M24 510v1M25 5v2M25 470v2M25 509v1M26 476v3M26 510v1M26 517v1M27 7v3M27 480v2M28 457v1M28 470v2M28 479v1M28 487v2M28 493v2M28 505v3M28 518v2M28 527v3M29 459v2M29 479v1M30 468v2M30 505v3M31 502v2M31 527v3M32 487v2M32 495v1M33 2v3M33 490v3M33 518v4M34 453v2M34 475v1M34 479v1M34 482v1M34 490v3M34 524v2M35 506v2M35 527v3M36 2v3M36 475v1M36 510v1M37 468v2M37 476v3M37 508v1M38 490v3M38 502v2M38 505v1M38 518v2M38 527v3M38 540v2M39 7v3M39 467v1M39 517v3M40 486v1M40 495v1M41 2v3M41 449v2M42 511v3M42 527v3M43 464v3M43 486v1M43 500v2M43 509v1M43 526v1M44 436v2M44 483v3M44 493v2M44 496v4M44 502v2M44 506v2M44 509v2M44 517v1M44 537v3M45 0v2M45 489v1M45 508v1M46 2v3M46 441v2M46 474v1M46 496v2M46 502v2M47 468v2M47 500v2M47 509v2M47 514v1M47 517v1M47 531v2M48 459v2M48 482v1M48 508v1M48 518v2M48 537v3M48 544v2M49 495v1M49 511v3M49 518v2M49 526v1M49 530v1M50 474v1M50 476v3M50 482v1M51 476v3M51 486v1M51 493v2M51 505v1M51 531v2M51 537v3M52 474v1M52 480v2M52 510v4M52 535v2M52 558v2M53 5v2M53 493v2M53 502v2M53 520v2M53 524v2M54 526v1M55 496v2M55 502v2M57 472v2M57 479v1M57 508v1M57 510v1M58 5v2M58 505v1M58 517v1M58 520v4M59 2v3M59 508v1M59 524v2M59 540v2M59 544v4M60 542v2M61 2v3M61 489v1M61 504v2M61 544v2M61 548v3M62 457v1M62 480v2M62 500v2M62 542v2M63 490v3M63 496v2"/>
<path stroke="#0061ff" d="M0 475v1M0 489v1M0 509v1M1 467v5M1 490v3M1 509v1M2 7v3M2 440v1M2 449v2M2 459v2M3 483v3M3 508v1M3 518v2M3 535v2M4 474v2M4 486v1M4 500v2M4 504v1M4 515v2M5 5v2M5 490v5M6 2v3M6 7v3M6 453v2M6 476v4M6 504v1M6 509v1M7 441v2M8 483v3M8 498v2M8 517v1M8 544v2M9 451v2M9 464v3M9 483v3M9 505v1M10 464v3M10 487v2M10 504v1M10 509v2M11 463v1M11 479v1M11 504v1M11 508v1M12 5v2M12 493v3M13 451v2M13 476v3M14 0v2M14 7v3M14 463v1M14 475v1M14 496v2M14 533v2M15 487v2M15 517v1M15 527v3M16 506v2M17 2v3M18 480v2M18 493v2M19 480v2M19 527v3M20 445v2M20 504v1M20 518v2M20 530v1M20 540v2M21 449v2M21 489v1M21 502v2M21 506v2M22 458v1M22 498v2M22 504v1M22 511v3M23 470v2M24 432v2M24 464v3M24 472v3M26 5v5M26 474v1M26 502v2M26 514v1M26 535v2M27 5v2M27 489v4M27 505v3M27 510v1M27 515v2M27 535v2M28 2v3M28 451v2M28 472v2M28 480v2M28 510v1M29 483v3M29 496v4M29 504v1M29 526v1M30 0v2M30 444v1M30 472v2M30 502v2M30 553v2M31 5v2M31 474v1M31 504v1M31 508v1M31 514v1M31 535v2M31 544v2M32 453v2M32 483v3M32 504v2M32 509v1M32 515v2M32 527v3M33 0v2M33 464v3M33 486v1M33 524v2M33 535v2M34 504v4M35 459v2M35 475v1M35 483v3M35 493v2M35 496v8M35 511v3M35 522v2M36 458v1M36 483v3M36 502v3M36 506v2M37 474v1M37 489v1M37 515v3M37 522v2M38 509v1M38 514v1M38 524v2M39 453v2M39 483v3M39 489v1M39 502v2M39 508v1M40 531v2M41 495v3M41 506v2M41 514v1M41 517v1M41 526v1M41 533v2M42 231v3M42 482v1M42 493v2M42 514v1M42 535v2M42 540v2M43 10v4M43 461v3M43 479v1M43 490v5M43 502v2M43 524v2M43 527v3M44 524v2M44 556v2M45 495v1M45 498v2M45 505v1M45 522v2M45 531v2M46 489v1M46 515v2M46 524v2M47 2v3M47 476v3M47 504v1M48 483v3M48 502v2M48 533v2M49 483v3M49 487v2M49 498v2M49 508v1M49 517v1M50 505v1M50 509v1M50 537v3M50 542v2M51 0v2M51 480v2M51 509v1M51 530v1M51 544v2M52 457v1M52 517v1M53 489v1M53 505v1M53 517v1M53 527v3M53 544v2M54 472v2M54 517v1M54 546v2M55 2v3M55 467v1M55 508v2M55 514v1M55 522v2M55 551v2M56 2v3M56 490v3M56 502v2M56 506v2M56 540v2M57 0v2M57 490v3M57 505v1M57 524v2M57 535v2M57 544v2M58 548v3M58 558v2M59 496v2M59 500v2M59 514v1M59 517v1M60 2v5M60 504v1M60 506v2M61 474v1M61 500v2M61 526v4M62 530v1M62 540v2M63 508v1M63 514v1M63 531v2M63 542v2M63 548v3"/>
<path stroke="#002fff" d="M0 2v3M0 470v2M1 449v2M1 464v3M1 479v1M1 482v1M1 515v2M2 505v1M2 511v3M3 2v3M3 475v4M3 500v2M3 505v1M3 514v1M4 0v2M4 464v3M4 544v2M5 451v2M5 459v2M5 509v1M6 0v2M6 468v2M6 482v1M6 489v1M6 498v2M6 505v1M6 510v1M6 518v2M6 531v2M7 2v3M7 476v3M7 482v1M7 509v1M7 524v2M7 527v3M8 5v2M8 441v2M8 489v1M8 518v2M8 526v1M9 457v1M9 468v2M9 476v3M9 489v1M9 495v1M9 542v2M10 455v2M10 479v1M10 495v1M11 443v1M11 470v2M11 486v1M11 495v1M11 509v1M12 463v1M12 468v2M12 479v1M12 486v1M12 524v2M13 479v3M13 483v3M14 490v3M14 510v1M15 2v3M15 500v2M16 472v2M16 476v3M16 496v2M16 505v1M17 7v3M17 483v3M17 502v3M17 527v3M18 458v1M18 495v1M18 500v2M18 506v2M19 455v2M19 474v1M19 479v1M19 493v2M19 500v2M19 511v3M20 487v2M20 498v2M20 511v3M20 522v2M21 476v3M21 509v1M22 455v2M22 489v1M23 482v1M23 487v2M23 509v1M23 514v1M23 530v1M24 2v5M24 444v1M24 470v2M24 500v2M25 479v1M26 498v2M27 495v1M27 509v1M28 483v3M28 517v1M28 522v2M29 480v2M29 486v1M29 508v2M29 524v2M29 527v3M29 531v2M30 489v1M30 496v2M30 504v1M30 522v2M31 2v3M31 455v2M31 468v2M31 496v4M31 570v2M32 0v5M32 468v2M32 489v4M32 517v1M32 520v4M33 498v2M33 510v1M34 483v3M35 2v3M35 482v1M35 520v2M36 468v2M36 476v3M36 487v3M36 509v1M36 518v2M36 522v2M37 0v2M37 504v1M37 520v2M37 527v3M38 480v2M38 487v3M38 493v2M38 504v1M38 535v2M39 0v2M39 455v2M39 524v2M39 530v1M39 546v2M40 472v2M40 502v2M40 517v1M40 533v2M42 489v1M42 506v2M43 487v2M43 498v2M43 520v2M43 533v2M44 480v2M44 520v2M45 511v3M45 518v2M45 527v3M45 555v1M46 475v1M46 505v1M46 518v2M46 526v1M47 10v4M47 505v1M47 522v2M47 542v2M48 489v1M48 500v2M48 511v3M48 542v2M48 548v3M49 496v2M49 504v4M49 510v1M49 524v2M49 544v2M50 472v2M50 483v3M50 508v1M51 5v2M51 535v2M52 5v2M52 504v2M52 514v1M52 530v1M53 480v2M53 508v1M53 530v3M54 0v2M54 486v1M54 495v1M54 505v3M54 510v1M54 515v2M54 531v2M54 540v2M54 544v2M54 551v2M55 486v1M55 500v2M55 504v2M55 515v2M55 520v2M55 524v3M55 530v1M55 540v2M55 544v2M56 0v2M56 511v3M56 518v2M56 526v1M56 530v1M57 482v1M57 495v1M57 504v1M57 526v1M58 487v2M58 527v3M59 476v3M59 511v3M59 530v1M60 483v3M60 520v2M60 527v3M60 533v2M60 537v3M60 548v3M60 580v1M61 0v2M61 483v3M61 510v4M61 518v2M62 5v2M62 487v2M62 511v4M62 533v2M62 537v3M62 555v1M63 509v1M63 511v3M63 518v2M63 553v2"/>
<path stroke="#0412ff" d="M0 0v2M0 457v2M0 480v2M0 493v2M0 510v1M1 459v2M1 508v1M1 520v2M1 524v2M2 480v2M2 531v2M3 455v2M3 487v2M4 524v2M4 527v3M5 463v1M5 482v1M5 487v2M5 495v1M6 457v1M6 461v2M6 480v2M6 515v2M7 483v3M7 496v6M7 504v1M7 520v2M8 500v2M8 511v4M9 0v2M9 498v2M9 522v2M10 522v2M10 527v3M11 459v2M11 520v2M11 527v3M12 502v2M12 515v2M13 0v2M13 486v1M13 540v2M14 502v2M14 511v3M14 517v1M14 522v2M15 479v1M15 490v3M15 498v2M15 502v2M16 2v3M16 486v3M16 509v1M16 524v2M16 531v2M17 506v2M17 509v1M18 455v2M18 522v2M18 553v2M19 504v1M19 533v2M19 551v2M20 0v2M20 479v1M20 533v2M20 544v2M21 495v1M21 535v2M22 493v2M23 472v2M23 546v2M24 467v1M24 483v4M24 489v1M24 504v1M25 0v2M25 496v2M25 520v2M25 533v2M26 540v2M27 468v2M27 472v2M27 476v3M27 482v1M27 526v4M28 498v2M28 502v2M28 511v3M29 455v2M29 461v2M29 489v1M29 517v1M29 522v2M30 483v3M30 493v2M30 511v3M30 535v2M31 0v2M31 475v1M31 511v3M31 517v1M32 474v1M32 482v1M32 518v2M32 531v2M33 502v2M33 508v1M33 517v1M34 2v3M34 451v2M34 495v1M34 498v2M34 509v1M34 514v1M35 495v1M35 508v1M35 530v1M36 486v1M37 480v2M37 502v2M37 509v1M37 511v3M37 530v1M38 508v1M39 493v2M39 500v2M39 509v1M39 526v1M40 0v2M40 490v5M40 524v2M40 530v1M41 498v4M41 518v2M41 530v1M42 2v3M42 500v2M42 505v1M42 509v1M42 542v2M42 560v3M43 0v2M43 510v1M43 515v2M43 518v2M44 511v3M44 515v2M44 535v2M44 540v2M44 553v2M45 480v2M45 502v2M45 509v1M45 548v3M46 551v2M47 533v2M48 493v2M48 520v2M48 526v1M49 0v2M49 470v2M49 522v2M50 506v2M50 511v3M50 522v2M51 508v1M51 515v2M51 527v3M52 490v3M52 540v2M53 2v3M53 511v3M53 542v2M54 511v3M54 524v2M55 0v2M55 468v2M55 493v2M55 511v3M55 527v3M55 548v3M56 493v2M56 514v1M56 551v2M57 489v1M57 530v1M58 531v2M58 540v4M58 551v2M59 510v1M59 527v3M59 535v2M59 542v2M59 551v2M60 531v2M60 555v1M61 498v2M61 502v2M61 524v2M61 530v1M61 533v2M61 542v2M62 553v2M63 540v2M63 551v2"/>
<path stroke="#0b00fe" d="M0 474v1M0 479v1M1 498v2M1 506v2M1 511v3M1 556v2M2 472v2M2 479v1M2 502v2M2 524v2M2 527v3M3 0v2M3 458v1M4 476v3M4 487v2M4 490v3M4 510v1M4 526v1M4 540v2M5 520v2M6 483v3M6 493v2M6 544v2M7 487v2M7 493v2M8 0v2M8 474v1M8 493v2M9 560v3M10 490v3M10 531v2M10 535v2M12 461v2M12 511v3M12 520v4M13 490v3M13 506v2M13 537v3M14 474v1M14 476v3M14 509v1M14 520v2M15 493v2M15 515v2M15 540v2M15 548v3M17 510v1M17 531v2M18 461v2M18 483v3M18 508v1M18 514v1M18 520v2M19 505v3M19 518v2M19 568v2M20 470v2M20 480v2M20 483v4M20 502v2M21 472v2M21 482v1M21 498v2M21 508v1M21 518v2M22 487v2M22 515v2M22 524v2M22 535v2M23 463v1M23 493v2M23 498v2M23 504v1M23 508v1M23 533v2M23 542v2M23 555v1M24 476v3M24 520v2M24 527v4M25 522v2M25 542v2M26 489v1M26 518v2M26 531v2M27 508v1M28 508v1M29 490v3M29 511v3M30 498v4M30 509v1M30 514v1M30 517v1M30 526v1M30 530v3M31 480v2M31 526v1M31 530v1M31 542v2M32 493v2M32 511v3M32 526v1M33 546v2M33 553v2M34 461v2M34 476v3M34 520v2M34 544v2M35 486v1M36 505v1M36 514v1M36 524v2M36 530v1M37 514v1M37 540v2M37 556v2M38 474v1M38 533v2M39 527v3M39 540v2M40 522v2M40 551v2M41 504v2M41 515v2M41 553v2M42 5v2M42 504v1M42 518v2M43 522v2M43 535v2M43 542v2M44 475v1M44 531v4M46 493v2M46 510v1M46 530v1M47 506v2M47 527v3M47 540v2M48 505v1M48 524v2M48 546v2M48 551v2M49 540v2M50 510v1M50 533v2M50 551v2M51 518v2M51 548v3M51 572v2M52 527v3M52 542v2M53 535v2M54 556v2M56 553v2M58 476v3M58 511v4M58 518v2M58 535v2M59 506v2M59 509v1M59 515v2M60 517v1M60 526v1M60 544v2M61 482v1M61 514v1M61 535v2M62 510v1M62 558v2M63 520v2M63 526v1M63 546v2"/>
<path stroke="#2f00de" d="M0 487v2M0 526v1M0 535v2M1 502v3M1 535v2M2 0v2M2 453v2M2 474v2M2 522v2M2 530v1M2 577v3M3 517v1M3 556v2M4 506v2M4 511v3M4 533v7M5 472v2M5 479v1M5 510v1M5 517v1M5 526v1M6 438v2M6 511v4M6 517v1M6 520v2M7 505v1M7 508v1M7 518v2M7 522v2M7 535v2M8 464v4M8 487v2M8 509v1M8 535v2M9 493v2M9 500v2M9 506v2M9 515v3M9 527v4M9 535v2M9 558v2M10 489v1M10 533v2M10 537v5M11 476v3M11 502v2M11 524v2M11 531v2M12 487v3M12 506v2M12 510v1M12 518v2M13 470v2M13 517v1M13 526v1M13 535v2M13 544v2M14 500v2M14 506v3M14 514v1M15 505v1M15 510v1M16 518v2M16 522v2M16 526v4M17 457v1M17 489v1M17 508v1M18 475v1M18 479v1M18 490v3M18 517v1M18 524v2M19 475v1M19 489v1M19 522v4M19 555v1M20 482v1M20 546v2M21 504v1M21 514v1M21 530v1M22 0v2M22 496v2M22 508v1M22 518v2M22 533v2M23 479v1M23 510v1M23 524v2M23 553v2M24 480v2M24 502v2M24 546v2M25 489v1M25 514v1M25 518v2M26 10v4M26 509v1M26 511v3M26 527v3M26 556v2M27 531v2M27 537v3M28 526v1M29 502v2M29 518v2M29 555v1M30 515v2M30 570v2M31 493v3M32 475v1M32 535v2M32 540v4M32 546v2M33 495v1M33 506v2M33 514v1M33 531v2M34 508v1M34 533v2M34 560v3M35 480v2M35 509v2M35 546v2M36 526v1M36 533v2M36 555v1M36 558v2M37 479v1M37 506v2M37 510v1M37 526v1M38 486v1M38 511v3M38 542v2M39 506v2M39 520v2M39 544v2M40 504v1M40 518v2M40 535v2M41 511v3M41 527v3M42 0v2M42 480v2M42 522v2M42 544v2M43 483v3M44 2v3M44 514v1M44 542v2M44 558v2M45 2v3M45 483v3M45 524v3M45 564v2M46 537v9M47 524v3M48 510v1M48 514v1M48 540v2M48 553v2M49 2v3M49 515v2M49 535v5M49 570v2M50 500v2M50 518v4M50 540v2M51 514v1M51 517v1M51 555v1M52 489v1M52 509v1M53 526v1M53 533v2M54 533v2M55 463v1M55 542v2M56 515v3M56 522v2M56 533v2M57 509v1M57 518v2M57 527v3M57 531v2M57 537v5M57 553v2M58 0v2M58 556v2M59 555v1M61 508v1M61 540v2M61 551v2M61 558v2M63 530v1M63 535v2M63 544v2"/>
<path stroke="#4500c3" d="M0 459v2M0 464v3M0 500v2M0 508v1M0 514v1M0 520v4M1 474v1M1 486v1M1 500v2M1 514v1M2 470v2M2 515v2M3 496v2M3 509v1M3 522v2M4 498v2M4 509v1M4 514v1M4 517v1M5 483v3M5 500v2M5 530v1M6 495v1M6 506v2M6 526v1M6 533v2M6 542v2M7 457v1M7 502v2M7 517v1M8 482v1M8 524v2M9 474v1M9 504v1M9 511v3M11 464v3M11 498v2M11 510v1M11 526v1M11 535v2M11 540v2M12 498v2M13 455v2M13 514v1M13 518v2M13 542v2M14 483v3M14 526v4M14 574v1M15 0v2M15 537v3M15 546v2M15 564v4M16 0v2M16 475v1M16 577v3M17 0v2M17 511v3M17 518v2M17 522v2M17 535v2M17 551v4M18 505v1M18 518v2M18 540v4M19 476v3M19 508v1M19 530v3M20 455v2M20 490v3M20 500v2M20 510v1M20 524v2M20 527v3M21 0v2M21 500v2M21 505v1M22 482v1M22 502v2M22 514v1M23 518v2M23 544v2M23 563v1M24 493v2M24 517v1M24 540v4M24 551v2M25 483v3M25 511v3M25 515v3M25 526v4M25 540v2M25 546v2M26 508v1M26 522v4M26 530v1M27 502v2M27 517v1M27 533v2M28 489v1M28 581v1M29 505v1M30 490v3M31 489v1M31 537v3M32 508v1M33 522v2M33 527v3M34 502v2M34 510v1M34 517v1M34 556v2M35 490v3M35 517v1M35 533v4M36 531v2M36 553v2M36 566v2M36 575v2M37 518v2M37 537v3M37 548v3M37 558v2M38 500v2M38 506v2M38 515v3M38 522v2M39 498v2M39 505v1M39 548v3M39 555v1M39 564v2M40 520v2M40 527v3M41 0v2M41 531v2M41 548v3M42 551v2M42 568v2M43 504v1M43 511v3M43 537v3M44 522v2M44 530v1M44 544v4M45 533v2M46 506v2M46 514v1M46 555v1M46 564v2M47 551v4M48 515v2M48 530v1M49 533v2M50 0v2M50 502v2M50 535v2M50 544v2M51 487v2M51 542v2M52 508v1M52 518v6M52 548v5M52 555v1M53 506v2M53 537v3M53 558v2M54 2v3M54 527v3M54 542v2M55 531v6M55 555v1M56 537v3M56 556v2M56 563v1M57 546v2M58 502v2M58 524v2M59 0v2M59 531v2M60 510v1M60 553v2M60 556v2M62 506v2M62 527v3M62 544v2M62 564v2M63 533v2"/>
<path stroke="#5500a1" d="M0 463v1M0 502v2M0 506v2M0 533v2M0 544v2M1 505v1M1 531v2M1 548v3M2 506v2M2 520v2M3 495v1M3 498v2M3 502v2M3 510v1M3 524v2M3 530v5M3 544v2M3 575v2M4 489v1M5 527v3M6 546v2M6 563v1M6 577v3M7 526v1M8 468v2M8 475v1M8 480v2M8 502v2M8 520v2M8 533v2M8 548v3M9 496v2M9 518v2M9 533v2M9 564v2M10 463v1M10 472v2M10 502v2M10 505v1M10 520v2M11 0v2M11 5v2M11 496v2M11 530v1M11 546v2M12 530v1M12 535v2M13 487v2M13 496v2M13 502v2M13 511v3M13 515v2M13 546v2M14 515v2M15 508v1M15 530v1M15 535v2M16 556v2M17 482v1M17 498v2M17 530v1M17 540v2M17 546v2M18 533v2M19 514v1M19 535v2M20 496v2M20 514v1M20 531v2M21 2v3M21 522v2M21 527v3M21 533v2M21 542v2M22 542v2M22 553v2M23 517v1M23 526v1M23 531v2M23 540v2M24 508v1M25 490v3M25 495v1M26 505v1M27 2v3M27 470v2M27 522v4M28 540v2M29 487v2M29 495v1M29 520v2M30 508v1M31 531v2M31 566v2M32 551v2M33 511v3M33 551v2M34 540v2M35 461v2M35 531v2M36 517v1M37 553v2M38 531v2M38 548v5M39 542v2M40 479v1M40 514v1M40 542v2M40 553v2M41 493v2M41 524v2M41 556v2M42 515v3M42 526v1M45 500v2M45 572v2M46 533v2M46 548v3M46 580v1M47 464v3M47 502v2M47 511v3M47 546v2M47 558v2M48 0v2M48 517v1M48 581v1M49 467v1M49 489v1M50 530v1M50 558v2M52 2v3M53 540v2M53 555v1M54 530v1M56 575v2M57 548v3M58 544v4M58 564v2M59 537v3M60 581v1M62 504v1M63 524v2M63 527v3M63 564v2"/>
<path stroke="#540089" d="M0 482v1M0 511v3M0 527v3M0 537v3M0 563v1M1 483v3M2 495v1M2 546v2M2 566v2M4 493v2M4 496v2M4 518v2M4 531v2M4 542v2M5 504v1M5 524v2M5 542v2M5 553v2M7 470v2M7 480v2M7 486v1M8 540v2M9 502v2M9 510v1M10 518v2M10 542v2M11 506v2M11 544v2M12 505v1M12 517v1M12 526v1M12 533v2M13 498v2M13 510v1M13 531v2M13 575v2M14 489v1M14 553v2M15 5v2M15 506v2M15 520v4M15 580v1M16 520v2M17 505v1M17 520v2M17 533v2M19 490v3M19 496v2M19 526v1M20 489v1M21 487v2M21 510v1M21 558v2M22 527v3M23 527v3M24 511v3M24 556v2M25 476v3M25 487v2M25 531v2M25 535v2M25 563v1M26 463v1M26 480v2M26 490v3M27 498v2M27 511v3M28 533v7M28 546v2M29 2v3M29 533v2M30 518v4M30 527v3M30 533v2M30 542v2M30 548v3M31 476v3M32 533v2M33 515v2M33 526v1M33 530v1M33 540v2M33 544v2M34 489v1M34 511v3M34 563v3M35 524v2M35 540v2M36 0v2M36 511v3M36 551v2M37 524v2M37 533v4M38 526v1M38 530v1M39 533v2M40 566v2M40 572v2M41 480v2M41 522v2M43 548v3M43 570v2M44 504v1M44 518v2M44 526v1M45 517v1M45 535v2M45 544v2M46 522v2M48 531v2M49 542v2M50 526v1M51 551v2M53 548v3M54 504v1M54 535v2M54 566v2M55 558v2M55 563v1M56 527v3M56 558v2M57 566v2M58 560v3M59 533v2M59 548v3M59 553v2M59 556v2M59 566v2M60 514v1M60 560v3M62 570v2M62 581v1M63 556v2"/>
<path stroke="#4f0077" d="M1 510v1M1 517v3M1 527v3M2 508v1M3 527v3M3 540v2M3 546v2M5 502v2M5 511v3M5 518v2M5 533v2M5 540v2M5 564v2M6 522v2M6 580v1M7 495v1M7 506v2M7 533v2M7 542v2M7 566v2M8 508v1M8 527v3M8 531v2M9 568v2M10 544v2M10 558v2M11 493v2M11 511v3M11 517v1M11 542v2M12 542v2M13 522v2M14 540v2M14 566v2M15 518v2M15 526v1M15 531v2M16 482v1M16 540v2M18 535v5M19 517v1M19 560v3M20 535v2M20 542v2M21 490v3M21 526v1M21 566v2M22 506v2M22 530v1M22 537v5M22 544v2M22 555v1M22 560v3M24 490v3M24 496v2M24 506v2M24 531v4M25 510v1M25 524v2M26 520v2M26 537v3M26 548v3M27 518v2M28 504v1M28 515v2M28 574v3M29 514v1M29 535v2M30 537v3M31 510v1M31 540v2M32 502v2M33 575v2M34 522v2M35 0v2M36 496v2M36 527v3M36 542v2M36 580v1M37 483v3M37 493v2M37 542v2M38 553v2M39 522v2M39 535v2M39 551v2M40 556v2M40 563v1M41 502v2M41 540v2M41 564v2M42 520v2M42 524v2M42 530v1M42 537v3M42 546v5M44 505v1M46 511v3M46 546v2M49 548v3M49 553v2M49 556v2M49 563v1M50 546v2M50 556v2M50 560v3M50 574v1M51 556v2M51 568v2M51 575v2M53 553v2M56 546v2M56 555v1M56 564v2M57 581v1M58 537v3M58 570v2M60 535v2M60 563v3M61 563v1M61 575v2M62 505v1M62 551v2M62 566v2M63 558v2"/>
<path stroke="#380045" d="M0 490v3M0 496v2M0 517v1M0 540v2M0 560v3M1 522v2M1 533v2M1 546v2M1 568v2M2 500v2M2 510v1M2 518v2M2 533v2M2 537v3M3 542v2M3 553v2M3 566v2M4 522v2M4 530v1M5 496v2M5 505v1M6 524v2M6 530v1M6 535v2M7 489v1M7 514v3M7 537v3M7 548v3M7 563v1M8 510v1M9 520v2M10 508v1M10 511v3M11 515v2M12 537v3M12 551v2M13 508v1M14 542v2M15 511v3M15 556v2M15 577v3M17 470v2M17 563v1M18 531v2M18 546v2M19 515v2M19 542v2M19 570v2M20 515v2M20 520v2M20 548v3M20 566v2M21 517v1M21 537v3M21 544v2M22 520v2M22 548v3M23 515v2M23 520v2M24 526v1M26 500v2M26 506v2M26 564v2M27 520v2M27 530v1M27 540v2M27 575v2M28 524v2M29 530v1M29 548v3M29 564v2M29 575v2M30 540v2M30 546v2M31 500v2M31 522v2M31 548v3M31 553v2M33 570v2M34 518v2M34 530v1M35 537v3M36 537v3M37 531v2M37 574v1M38 520v2M38 546v2M38 580v1M39 537v3M39 553v2M40 544v2M41 510v1M41 544v2M41 570v4M43 506v2M44 527v3M45 542v2M45 546v2M45 551v2M46 0v2M46 558v2M47 548v3M47 560v3M48 556v2M48 566v2M49 546v2M49 551v2M49 558v2M49 564v2M49 577v4M50 548v3M50 555v1M50 568v2M51 546v2M54 548v3M55 537v3M55 546v2M55 556v2M56 535v2M56 574v1M57 555v1M58 2v3M58 553v2M58 575v2M60 551v2M60 566v2M61 556v2M61 572v2M62 531v2M63 537v3"/>
<path stroke="#1c001e" d="M0 546v2M1 526v1M1 530v1M1 560v3M2 517v1M2 535v2M2 540v2M3 511v3M4 495v1M4 502v2M6 540v2M6 568v2M7 540v2M7 555v1M8 515v2M8 530v1M8 551v2M8 563v1M9 546v5M9 553v2M10 530v1M10 546v2M10 555v1M10 560v3M10 568v2M11 505v1M11 551v2M11 560v3M11 581v1M12 556v2M13 493v2M14 498v2M14 530v1M14 544v2M15 542v2M16 553v3M16 570v2M19 482v1M19 537v3M20 526v1M20 580v1M21 531v2M21 560v3M23 495v1M23 522v2M24 544v2M24 558v2M24 580v1M25 500v2M25 530v1M25 572v2M26 544v2M26 581v1M27 514v1M27 548v3M28 531v2M28 544v2M28 563v1M29 515v2M29 537v3M31 482v1M31 524v2M32 510v1M33 500v2M33 537v3M33 555v3M34 526v4M34 535v2M35 518v2M36 520v2M40 500v2M40 505v1M40 540v2M40 546v5M40 564v2M41 551v2M41 566v2M42 555v1M42 563v1M43 530v1M43 546v2M43 572v2M44 560v3M45 506v2M45 537v3M45 553v2M45 560v3M46 527v3M46 553v2M47 535v2M47 574v1M48 563v1M48 577v3M50 575v2M51 560v3M52 566v2M53 564v2M54 558v2M58 530v1M59 526v1M59 560v3M63 0v2M63 563v1M63 581v1"/>
<path stroke="#0c000c" d="M0 515v2M0 530v3M0 542v2M0 548v12M0 564v18M1 537v9M1 551v5M1 558v2M1 563v5M1 570v12M2 461v2M2 509v1M2 526v1M2 542v4M2 548v18M2 568v9M2 580v2M3 515v2M3 526v1M3 537v3M3 548v5M3 555v1M3 558v8M3 568v7M3 577v5M4 546v36M5 0v2M5 486v1M5 535v5M5 544v9M5 555v9M5 566v16M6 508v1M6 527v3M6 537v3M6 548v15M6 564v4M6 570v7M6 581v1M7 530v1M7 544v4M7 551v4M7 556v7M7 564v2M7 568v14M8 496v2M8 504v1M8 522v2M8 537v3M8 542v2M8 546v2M8 553v10M8 564v18M9 509v1M9 531v2M9 537v5M9 544v2M9 551v2M9 555v3M9 563v1M9 566v2M9 570v12M10 506v2M10 517v1M10 524v2M10 548v7M10 556v2M10 563v5M10 570v12M11 514v1M11 522v2M11 533v2M11 537v3M11 548v3M11 553v7M11 563v18M12 514v1M12 527v3M12 540v2M12 544v7M12 553v3M12 558v24M13 504v1M13 509v1M13 520v2M13 524v2M13 527v4M13 533v2M13 548v27M13 577v5M14 531v2M14 537v3M14 546v7M14 555v11M14 568v6M14 575v7M15 509v1M15 533v2M15 544v2M15 551v5M15 558v6M15 568v9M15 581v1M16 530v1M16 533v7M16 544v9M16 558v12M16 572v5M16 580v2M17 514v1M17 537v3M17 542v2M17 548v3M17 555v8M17 564v18M18 510v1M18 526v5M18 544v2M18 548v5M18 555v27M19 502v2M19 509v1M19 520v2M19 540v2M19 544v7M19 553v2M19 556v4M19 563v5M19 572v10M20 506v2M20 537v3M20 551v15M20 568v12M20 581v1M21 511v3M21 520v2M21 540v2M21 546v12M21 563v3M21 568v14M22 526v1M22 546v2M22 551v2M22 556v4M22 563v19M23 535v5M23 548v5M23 556v7M23 564v18M24 524v2M24 535v5M24 548v3M24 553v3M24 560v20M24 581v1M25 505v1M25 537v3M25 544v2M25 548v15M25 564v8M25 574v8M26 483v3M26 515v2M26 526v1M26 542v2M26 546v2M26 551v5M26 558v6M26 566v15M27 542v6M27 551v24M27 577v5M28 514v1M28 530v1M28 542v2M28 548v15M28 564v10M28 577v4M29 540v4M29 546v2M29 551v4M29 556v8M29 566v9M29 577v5M30 510v1M30 524v2M30 551v2M30 555v15M30 572v10M31 518v2M31 546v2M31 551v2M31 555v11M31 568v2M31 572v10M32 537v3M32 544v2M32 548v3M32 553v29M33 533v2M33 542v2M33 548v3M33 558v2M33 563v7M33 572v3M33 577v5M34 537v3M34 542v2M34 546v10M34 558v2M34 566v16M35 526v1M35 542v4M35 548v34M36 540v2M36 544v7M36 556v2M36 560v6M36 568v7M36 577v3M36 581v1M37 544v2M37 551v2M37 555v1M37 560v14M37 575v7M38 544v2M38 555v25M38 581v1M39 515v2M39 531v2M39 556v4M39 563v1M39 566v16M40 537v3M40 555v1M40 558v5M40 568v4M40 574v8M41 535v5M41 542v2M41 555v1M41 558v6M41 568v2M41 574v8M42 553v2M42 556v4M42 564v4M42 570v12M43 551v19M43 574v8M44 0v2M44 548v5M44 555v1M44 563v19M45 540v2M45 556v4M45 563v1M45 566v6M45 574v8M46 535v2M46 556v2M46 560v4M46 566v14M46 581v1M47 537v3M47 544v2M47 555v3M47 563v11M47 575v7M48 558v5M48 564v2M48 568v9M48 580v1M49 560v3M49 566v4M49 572v5M49 581v1M50 531v2M50 553v2M50 563v5M50 570v4M50 577v5M51 533v2M51 558v2M51 563v5M51 570v2M51 574v1M51 577v5M52 553v2M52 556v2M52 560v6M52 568v14M53 551v2M53 556v2M53 560v4M53 566v16M54 553v3M54 560v6M54 568v14M55 553v2M55 560v3M55 564v18M56 560v3M56 566v8M56 577v5M57 533v2M57 556v10M57 568v13M58 555v1M58 563v1M58 566v4M58 572v3M58 577v5M59 563v3M59 568v14M60 558v2M60 568v12M61 553v3M61 560v3M61 564v8M61 574v1M61 577v5M62 560v4M62 568v2M62 572v9M63 560v3M63 566v15"/></g>
<rect x="166" y="197" width="1024" height="3" fill="#000"/>
<rect x="166" y="782" width="1024" height="3" fill="#000"/>
<rect x="166" y="197" width="4" height="588" fill="#000"/>
<rect x="1186" y="197" width="4" height="588" fill="#000"/>
<rect x="166" y="186" width="4" height="11" fill="#000"/>
<rect x="166" y="785" width="4" height="10" fill="#000"/>
<rect x="251" y="192" width="4" height="5" fill="#000"/>
<rect x="251" y="785" width="4" height="4" fill="#000"/>
<rect x="336" y="192" width="4" height="5" fill="#000"/>
<rect x="336" y="785" width="4" height="4" fill="#000"/>
<rect x="421" y="186" width="4" height="11" fill="#000"/>
<rect x="421" y="785" width="4" height="10" fill="#000"/>
<rect x="506" y="192" width="4" height="5" fill="#000"/>
<rect x="506" y="785" width="4" height="4" fill="#000"/>
<rect x="591" y="192" width="4" height="5" fill="#000"/>
<rect x="591" y="785" width="4" height="4" fill="#000"/>
<rect x="676" y="186" width="4" height="11" fill="#000"/>
<rect x="676" y="785" width="4" height="10" fill="#000"/>
<rect x="761" y="192" width="4" height="5" fill="#000"/>
<rect x="761" y="785" width="4" height="4" fill="#000"/>
<rect x="846" y="192" width="4" height="5" fill="#000"/>
<rect x="846" y="785" width="4" height="4" fill="#000"/>
<rect x="931" y="186" width="4" height="11" fill="#000"/>
<rect x="931" y="785" width="4" height="10" fill="#000"/>
<rect x="1016" y="192" width="4" height="5" fill="#000"/>
<rect x="1016" y="785" width="4" height="4" fill="#000"/>
<rect x="1101" y="192" width="4" height="5" fill="#000"/>
<rect x="1101" y="785" width="4" height="4" fill="#000"/>
<rect x="1186" y="186" width="4" height="11" fill="#000"/>
<rect x="1186" y="785" width="4" height="10" fill="#000"/>
<rect x="148" y="197" width="18" height="3" fill="#000"/>
<rect x="1190" y="197" width="19" height="3" fill="#000"/>
<rect x="148" y="281" width="18" height="3" fill="#000"/>
<rect x="1190" y="281" width="19" height="3" fill="#000"/>
<rect x="148" y="364" width="18" height="3" fill="#000"/>
<rect x="1190" y="364" width="19" height="3" fill="#000"/>
<rect x="148" y="448" width="18" height="3" fill="#000"/>
<rect x="1190" y="448" width="19" height="3" fill="#000"/>
<rect x="148" y="531" width="18" height="3" fill="#000"/>
<rect x="1190" y="531" width="19" height="3" fill="#000"/>
<rect x="148" y="615" width="18" height="3" fill="#000"/>
<rect x="1190" y="615" width="19" height="3" fill="#000"/>
<rect x="148" y="698" width="18" height="3" fill="#000"/>
<rect x="1190" y="698" width="19" height="3" fill="#000"/>
<rect x="148" y="782" width="18" height="3" fill="#000"/>
<rect x="1190" y="782" width="19" height="3" fill="#000"/>
<text x="168.75" y="168" text-anchor="middle" font-size="32" >1.3</text>
<text x="423.75" y="168" text-anchor="middle" font-size="32" >1.5</text>
<text x="678.75" y="168" text-anchor="middle" font-size="32" >1.8</text>
<text x="933.75" y="168" text-anchor="middle" font-size="32" >2.0</text>
<text x="1188.75" y="168" text-anchor="middle" font-size="32" >2.3</text>
<text x="168" y="849" text-anchor="middle" font-size="32" >23:00</text>
<text x="423" y="849" text-anchor="middle" font-size="32" >23:15</text>
<text x="678" y="849" text-anchor="middle" font-size="32" >23:30</text>
<text x="933" y="849" text-anchor="middle" font-size="32" >23:45</text>
<text x="1188" y="849" text-anchor="middle" font-size="32" >00:00</text>
<text x="678.5" y="132" text-anchor="middle" font-size="32" >MLT</text>
<text x="678.5" y="895" text-anchor="middle" font-size="32" >Time UT</text>
<text x="137" y="223" text-anchor="end" font-size="32" >18.1</text>
<text x="1220.5" y="223" text-anchor="start" font-size="32" >80.5</text>
<text x="137" y="296.5" text-anchor="end" font-size="32" >40.8</text>
<text x="1220.5" y="296.5" text-anchor="start" font-size="32" >78.0</text>
<text x="137" y="379.5" text-anchor="end" font-size="32" >61.6</text>
<text x="1220.5" y="379.5" text-anchor="start" font-size="32" >77.1</text>
<text x="137" y="463.5" text-anchor="end" font-size="32" >80.7</text>
<text x="1220.5" y="463.5" text-anchor="start" font-size="32" >76.6</text>
<text x="137" y="546.5" text-anchor="end" font-size="32" >81.3</text>
<text x="1220.5" y="546.5" text-anchor="start" font-size="32" >76.2</text>
<text x="137" y="630.5" text-anchor="end" font-size="32" >62.2</text>
<text x="1220.5" y="630.5" text-anchor="start" font-size="32" >75.7</text>
<text x="137" y="713.5" text-anchor="end" font-size="32" >41.2</text>
<text x="1220.5" y="713.5" text-anchor="start" font-size="32" >74.9</text>
<text x="137" y="783" text-anchor="end" font-size="32" >18.0</text>
<text x="1220.5" y="783" text-anchor="start" font-size="32" >72.4</text>
<text transform="translate(39,490.5) rotate(-90)" text-anchor="middle" font-size="32">Elevation</text>
<text transform="translate(1324,489) rotate(-90)" text-anchor="middle" font-size="32">MLAT</text>
<text transform="translate(1505.5,490.5) rotate(-90)" text-anchor="middle" font-size="32">Brightness [kR]</text>
<text transform="translate(184,90) scale(0.955,1)" font-size="48" font-style="italic">NYA6 5577 Å</text>
<text x="185" y="120" text-anchor="start" font-size="31.3" font-style="italic">2017-12-22 23:00-24:00 UT</text>
<defs><linearGradient id="cbg" x1="0" y1="0" x2="0" y2="1"><stop offset="0.0019" stop-color="#a50000"/><stop offset="0.0418" stop-color="#cd0000"/><stop offset="0.0760" stop-color="#fa0000"/><stop offset="0.1236" stop-color="#ff0a00"/><stop offset="0.1559" stop-color="#ff3c00"/><stop offset="0.2034" stop-color="#ff6e00"/><stop offset="0.2490" stop-color="#ffaa00"/><stop offset="0.2985" stop-color="#ffe100"/><stop offset="0.3555" stop-color="#f8ff00"/><stop offset="0.3745" stop-color="#ebff00"/><stop offset="0.3935" stop-color="#beff00"/><stop offset="0.4411" stop-color="#78ff00"/><stop offset="0.4791" stop-color="#0aff14"/><stop offset="0.5000" stop-color="#00ff3c"/><stop offset="0.5551" stop-color="#00ff8c"/><stop offset="0.6027" stop-color="#00ffdc"/><stop offset="0.6217" stop-color="#00f5ff"/><stop offset="0.6407" stop-color="#00d7ff"/><stop offset="0.6882" stop-color="#0096ff"/><stop offset="0.7262" stop-color="#0050ff"/><stop offset="0.7510" stop-color="#001eff"/><stop offset="0.7928" stop-color="#0a00ff"/><stop offset="0.8213" stop-color="#3200dc"/><stop offset="0.8593" stop-color="#5000b4"/><stop offset="0.8764" stop-color="#580096"/><stop offset="0.9202" stop-color="#500078"/><stop offset="0.9392" stop-color="#460064"/><stop offset="0.9506" stop-color="#320037"/><stop offset="0.9696" stop-color="#1e0020"/><stop offset="0.9981" stop-color="#0c000c"/></linearGradient></defs><rect x="1367" y="228" width="22" height="526" fill="url(#cbg)" shape-rendering="auto"/>
<rect x="1364" y="227" width="4" height="528" fill="#000"/>
<rect x="1388" y="227" width="4" height="528" fill="#000"/>
<rect x="1366" y="226" width="24" height="1" fill="#000"/>
<rect x="1364" y="227" width="28" height="2" fill="#000"/>
<rect x="1364" y="753" width="28" height="2" fill="#000"/>
<rect x="1366" y="755" width="24" height="1" fill="#000"/>
<rect x="1366" y="292" width="24" height="3" fill="#000"/>
<text x="1402" y="307" text-anchor="start" font-size="32" >0.64</text>
<rect x="1366" y="358" width="24" height="3" fill="#000"/>
<text x="1402" y="373" text-anchor="start" font-size="32" >0.58</text>
<rect x="1366" y="424" width="24" height="3" fill="#000"/>
<text x="1402" y="439" text-anchor="start" font-size="32" >0.52</text>
<rect x="1366" y="489" width="24" height="3" fill="#000"/>
<text x="1402" y="504" text-anchor="start" font-size="32" >0.47</text>
<rect x="1366" y="555" width="24" height="3" fill="#000"/>
<text x="1402" y="570" text-anchor="start" font-size="32" >0.43</text>
<rect x="1366" y="621" width="24" height="3" fill="#000"/>
<text x="1402" y="636" text-anchor="start" font-size="32" >0.39</text>
<rect x="1366" y="687" width="24" height="3" fill="#000"/>
<text x="1402" y="702" text-anchor="start" font-size="32" >0.35</text>
</svg>
</body></html>
